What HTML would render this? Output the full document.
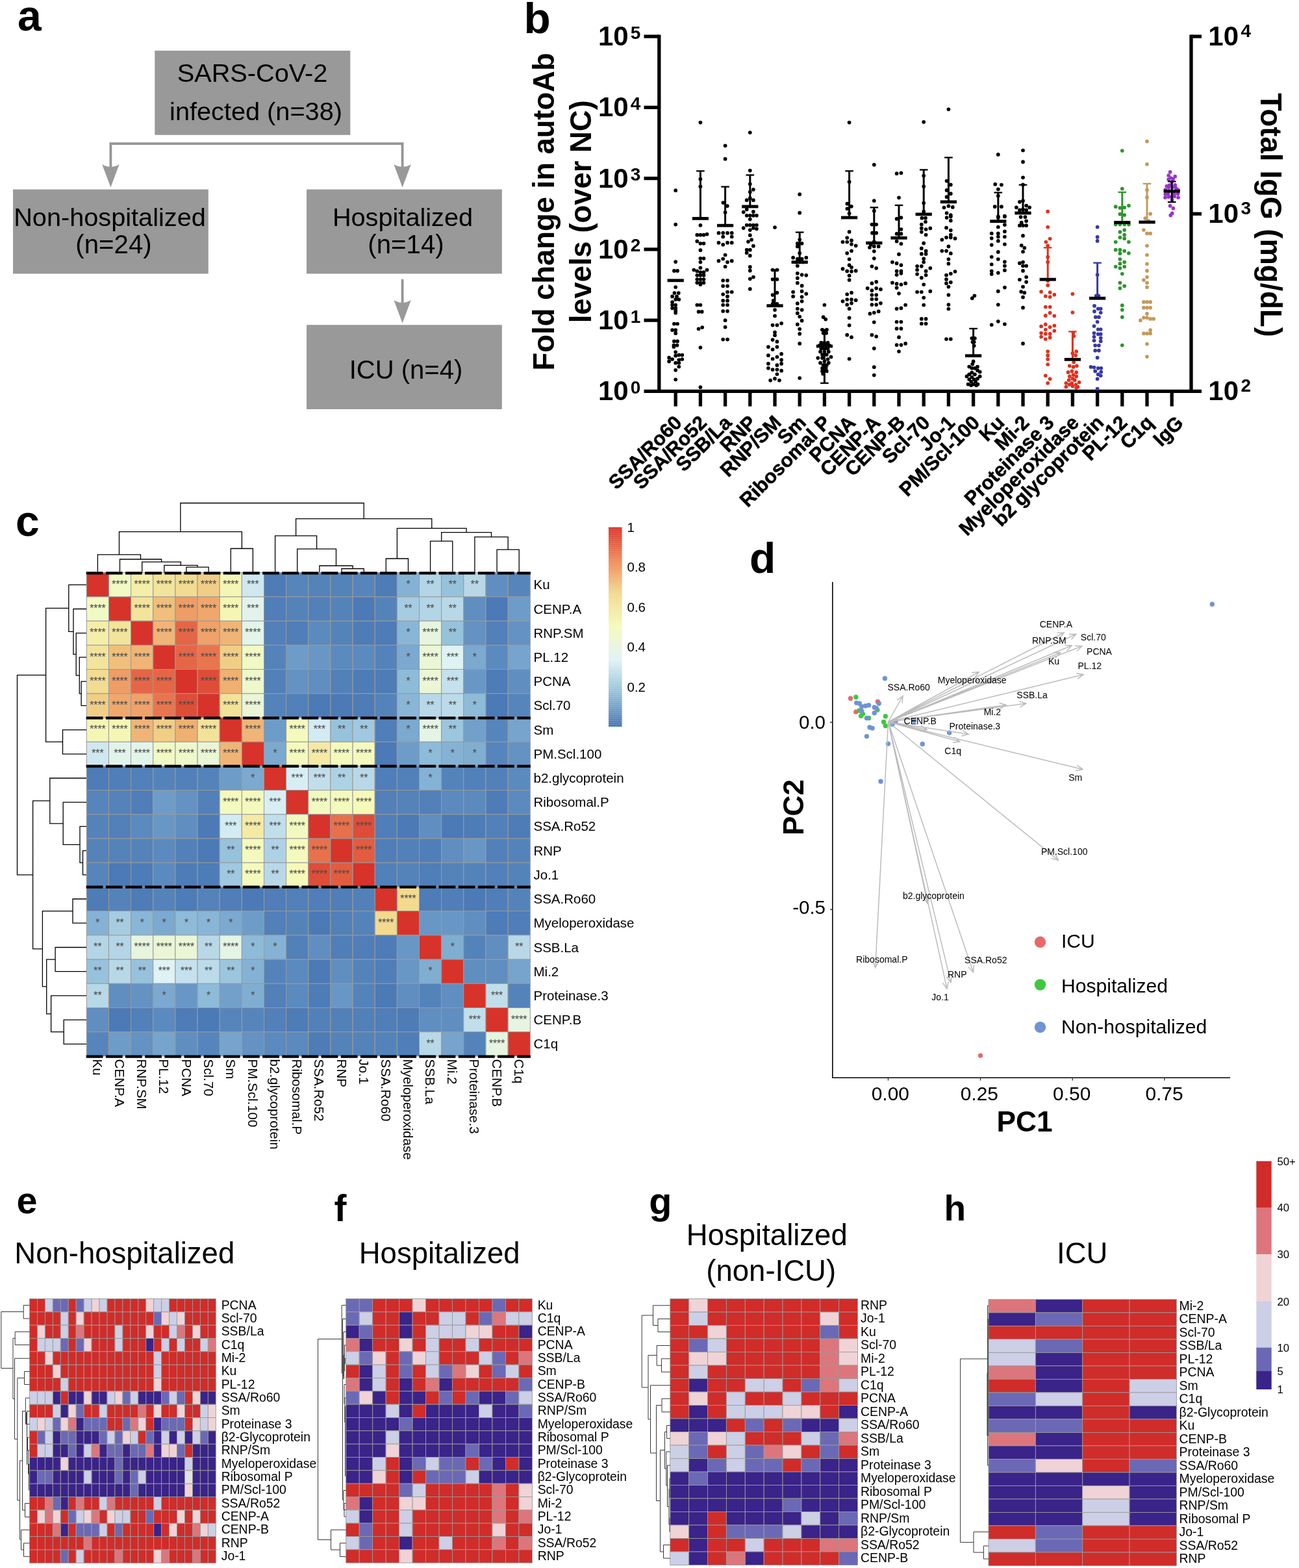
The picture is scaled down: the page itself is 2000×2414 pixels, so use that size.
<!DOCTYPE html>
<html lang="en"><head><meta charset="utf-8"><title>Figure</title>
<style>
html,body{margin:0;padding:0;background:#fff;}
body{width:2000px;height:2414px;overflow:hidden;}
svg{display:block;}
text{font-family:"Liberation Sans",sans-serif;fill:#000;}
.b{font-weight:bold;}
</style></head><body>
<svg width="2000" height="2414" viewBox="0 0 2000 2414">
<rect x="0" y="0" width="2000" height="2414" fill="#ffffff"/>
<!-- panel_a -->
<g id="panel-a">
<text class="b" x="27" y="47" font-size="66">a</text>
<rect x="238.3" y="78" width="301" height="129.8" fill="#999999"/>
<rect x="20" y="291.6" width="300.8" height="129.8" fill="#999999"/>
<rect x="472" y="291.6" width="300.8" height="129.8" fill="#999999"/>
<rect x="472" y="500.2" width="300.8" height="129.8" fill="#999999"/>
<path d="M170.4 262 V221.2 H619.6 V262" fill="none" stroke="#959595" stroke-width="3.8"/>
<path d="M619.6 430 V472" fill="none" stroke="#959595" stroke-width="3.8"/>
<path d="M170.4 288.6 L157.20000000000002 253.10000000000002 Q170.4 261.1 183.6 253.10000000000002 Z" fill="#999999"/>
<path d="M619.6 288.6 L606.4 253.10000000000002 Q619.6 261.1 632.8000000000001 253.10000000000002 Z" fill="#999999"/>
<path d="M619.6 497.5 L606.4 462.0 Q619.6 470.0 632.8000000000001 462.0 Z" fill="#999999"/>
<text x="388.5" y="126" font-size="39.7" text-anchor="middle">SARS-CoV-2</text>
<text x="394" y="185" font-size="39.7" text-anchor="middle">infected (n=38)</text>
<text x="169" y="348.4" font-size="39.7" text-anchor="middle">Non-hospitalized</text>
<text x="175" y="389.6" font-size="40.2" text-anchor="middle">(n=24)</text>
<text x="620" y="348.2" font-size="39.7" text-anchor="middle">Hospitalized</text>
<text x="625" y="389.6" font-size="40.2" text-anchor="middle">(n=14)</text>
<text x="625" y="582.5" font-size="40" text-anchor="middle">ICU (n=4)</text>
</g>
<!-- panel_b -->
<g id="panel-b">
<text class="b" x="806.5" y="50.5" font-size="67.5">b</text>
<g stroke="#000" stroke-width="5.3" fill="none" stroke-linecap="butt">
<path d="M1014.8 53.45 V605.05"/>
<path d="M1834.0 53.45 V605.05"/>
<path d="M991.5 602.4 H1850.0"/>
<path d="M991.5 493.1 H1014.8"/>
<path d="M991.5 383.9 H1014.8"/>
<path d="M991.5 274.6 H1014.8"/>
<path d="M991.5 165.4 H1014.8"/>
<path d="M991.5 56.1 H1014.8"/>
<path d="M1834.0 329.2 H1850.0"/>
<path d="M1834.0 56.1 H1850.0"/>
<path d="M1040.2 602.4 V625.6"/>
<path d="M1078.4 602.4 V625.6"/>
<path d="M1116.6 602.4 V625.6"/>
<path d="M1154.8 602.4 V625.6"/>
<path d="M1193.0 602.4 V625.6"/>
<path d="M1231.2 602.4 V625.6"/>
<path d="M1269.4 602.4 V625.6"/>
<path d="M1307.6 602.4 V625.6"/>
<path d="M1345.8 602.4 V625.6"/>
<path d="M1384.0 602.4 V625.6"/>
<path d="M1422.2 602.4 V625.6"/>
<path d="M1460.4 602.4 V625.6"/>
<path d="M1498.6 602.4 V625.6"/>
<path d="M1536.8 602.4 V625.6"/>
<path d="M1575.0 602.4 V625.6"/>
<path d="M1613.2 602.4 V625.6"/>
<path d="M1651.4 602.4 V625.6"/>
<path d="M1689.6 602.4 V625.6"/>
<path d="M1727.8 602.4 V625.6"/>
<path d="M1766.0 602.4 V625.6"/>
<path d="M1804.2 602.4 V625.6"/>
</g>
<text class="b" x="921" y="616.4" font-size="42">10<tspan font-size="28" dx="3" dy="-10.5">0</tspan></text>
<text class="b" x="921" y="507.1" font-size="42">10<tspan font-size="28" dx="3" dy="-10.5">1</tspan></text>
<text class="b" x="921" y="397.9" font-size="42">10<tspan font-size="28" dx="3" dy="-10.5">2</tspan></text>
<text class="b" x="921" y="288.6" font-size="42">10<tspan font-size="28" dx="3" dy="-10.5">3</tspan></text>
<text class="b" x="921" y="179.4" font-size="42">10<tspan font-size="28" dx="3" dy="-10.5">4</tspan></text>
<text class="b" x="921" y="70.1" font-size="42">10<tspan font-size="28" dx="3" dy="-10.5">5</tspan></text>
<text class="b" x="1860.3" y="616.4" font-size="42">10<tspan font-size="28" dx="3.5" dy="-13.5">2</tspan></text>
<text class="b" x="1860.3" y="343.2" font-size="42">10<tspan font-size="28" dx="3.5" dy="-13.5">3</tspan></text>
<text class="b" x="1860.3" y="70.1" font-size="42">10<tspan font-size="28" dx="3.5" dy="-13.5">4</tspan></text>
<text class="b" font-size="45.4" text-anchor="middle" transform="translate(853.3,325.8) rotate(-90)">Fold change in autoAb</text>
<text class="b" font-size="45.4" text-anchor="middle" transform="translate(910,325.8) rotate(-90)">levels (over NC)</text>
<text class="b" font-size="45.4" text-anchor="middle" word-spacing="1.6" transform="translate(1941.3,331) rotate(90)">Total IgG (mg/dL)</text>
<text class="b" font-size="30.3" text-anchor="end" stroke="#000" stroke-width="0.55" transform="translate(1051.7,652.5) rotate(-45)">SSA/Ro60</text>
<text class="b" font-size="30.3" text-anchor="end" stroke="#000" stroke-width="0.55" transform="translate(1089.9,652.5) rotate(-45)">SSA/Ro52</text>
<text class="b" font-size="30.3" text-anchor="end" stroke="#000" stroke-width="0.55" transform="translate(1128.1,652.5) rotate(-45)">SSB/La</text>
<text class="b" font-size="30.3" text-anchor="end" stroke="#000" stroke-width="0.55" transform="translate(1166.3,652.5) rotate(-45)">RNP</text>
<text class="b" font-size="30.3" text-anchor="end" stroke="#000" stroke-width="0.55" transform="translate(1204.5,652.5) rotate(-45)">RNP/SM</text>
<text class="b" font-size="30.3" text-anchor="end" stroke="#000" stroke-width="0.55" transform="translate(1242.7,652.5) rotate(-45)">Sm</text>
<text class="b" font-size="30.3" text-anchor="end" stroke="#000" stroke-width="0.55" transform="translate(1280.9,652.5) rotate(-45)">Ribosomal P</text>
<text class="b" font-size="30.3" text-anchor="end" stroke="#000" stroke-width="0.55" transform="translate(1319.1,652.5) rotate(-45)">PCNA</text>
<text class="b" font-size="30.3" text-anchor="end" stroke="#000" stroke-width="0.55" transform="translate(1357.3,652.5) rotate(-45)">CENP-A</text>
<text class="b" font-size="30.3" text-anchor="end" stroke="#000" stroke-width="0.55" transform="translate(1395.5,652.5) rotate(-45)">CENP-B</text>
<text class="b" font-size="30.3" text-anchor="end" stroke="#000" stroke-width="0.55" transform="translate(1433.7,652.5) rotate(-45)">Scl-70</text>
<text class="b" font-size="30.3" text-anchor="end" stroke="#000" stroke-width="0.55" transform="translate(1471.9,652.5) rotate(-45)">Jo-1</text>
<text class="b" font-size="30.3" text-anchor="end" stroke="#000" stroke-width="0.55" transform="translate(1510.1,652.5) rotate(-45)">PM/Scl-100</text>
<text class="b" font-size="30.3" text-anchor="end" stroke="#000" stroke-width="0.55" transform="translate(1548.3,652.5) rotate(-45)">Ku</text>
<text class="b" font-size="30.3" text-anchor="end" stroke="#000" stroke-width="0.55" transform="translate(1586.5,652.5) rotate(-45)">Mi-2</text>
<text class="b" font-size="30.3" text-anchor="end" stroke="#000" stroke-width="0.55" transform="translate(1624.7,652.5) rotate(-45)">Proteinase 3</text>
<text class="b" font-size="30.3" text-anchor="end" stroke="#000" stroke-width="0.55" transform="translate(1662.9,652.5) rotate(-45)">Myeloperoxidase</text>
<text class="b" font-size="30.3" text-anchor="end" stroke="#000" stroke-width="0.55" transform="translate(1701.1,652.5) rotate(-45)">b2 glycoprotein</text>
<text class="b" font-size="30.3" text-anchor="end" stroke="#000" stroke-width="0.55" transform="translate(1737.3,652.5) rotate(-45)">PL-12</text>
<text class="b" font-size="30.3" text-anchor="end" stroke="#000" stroke-width="0.55" transform="translate(1777.5,652.5) rotate(-45)">C1q</text>
<text class="b" font-size="30.3" text-anchor="end" stroke="#000" stroke-width="0.55" transform="translate(1823.7,653.0) rotate(-45)">IgG</text>
<g fill="#000000">
<circle cx="1040.2" cy="293.2" r="2.85"/>
<circle cx="1040.2" cy="345.6" r="2.85"/>
<circle cx="1040.2" cy="403.1" r="2.85"/>
<circle cx="1037.9" cy="416.9" r="2.85"/>
<circle cx="1043.0" cy="416.9" r="2.85"/>
<circle cx="1040.2" cy="442.0" r="2.85"/>
<circle cx="1038.4" cy="451.1" r="2.85"/>
<circle cx="1044.8" cy="451.1" r="2.85"/>
<circle cx="1035.1" cy="456.4" r="2.85"/>
<circle cx="1042.0" cy="456.4" r="2.85"/>
<circle cx="1040.2" cy="461.0" r="2.85"/>
<circle cx="1045.3" cy="461.0" r="2.85"/>
<circle cx="1035.1" cy="465.2" r="2.85"/>
<circle cx="1035.1" cy="469.5" r="2.85"/>
<circle cx="1040.2" cy="469.5" r="2.85"/>
<circle cx="1035.1" cy="474.4" r="2.85"/>
<circle cx="1040.2" cy="474.4" r="2.85"/>
<circle cx="1040.2" cy="478.3" r="2.85"/>
<circle cx="1040.2" cy="481.7" r="2.85"/>
<circle cx="1037.9" cy="498.5" r="2.85"/>
<circle cx="1043.0" cy="498.5" r="2.85"/>
<circle cx="1035.1" cy="508.2" r="2.85"/>
<circle cx="1040.2" cy="508.2" r="2.85"/>
<circle cx="1040.2" cy="513.2" r="2.85"/>
<circle cx="1037.9" cy="525.4" r="2.85"/>
<circle cx="1043.0" cy="525.4" r="2.85"/>
<circle cx="1037.4" cy="531.6" r="2.85"/>
<circle cx="1042.5" cy="531.6" r="2.85"/>
<circle cx="1037.4" cy="533.9" r="2.85"/>
<circle cx="1040.2" cy="542.0" r="2.85"/>
<circle cx="1045.3" cy="546.6" r="2.85"/>
<circle cx="1050.3" cy="546.6" r="2.85"/>
<circle cx="1040.2" cy="547.7" r="2.85"/>
<circle cx="1030.1" cy="550.7" r="2.85"/>
<circle cx="1035.1" cy="553.0" r="2.85"/>
<circle cx="1050.3" cy="553.0" r="2.85"/>
<circle cx="1045.3" cy="554.1" r="2.85"/>
<circle cx="1030.1" cy="556.4" r="2.85"/>
<circle cx="1040.2" cy="558.7" r="2.85"/>
<circle cx="1045.3" cy="558.7" r="2.85"/>
<circle cx="1045.3" cy="564.5" r="2.85"/>
<circle cx="1040.2" cy="569.8" r="2.85"/>
<circle cx="1040.2" cy="584.3" r="2.85"/>
<rect x="1027.6" y="429.4" width="25.2" height="4.8" fill="#000"/>
</g>
<g fill="#000000">
<path d="M1078.4 263.3 V336.4" stroke="#000000" stroke-width="3" fill="none"/>
<path d="M1072.1 263.3 H1084.7" stroke="#000000" stroke-width="2.3" fill="none"/>
<circle cx="1078.4" cy="188.6" r="2.85"/>
<circle cx="1078.4" cy="275.7" r="2.85"/>
<circle cx="1078.4" cy="287.2" r="2.85"/>
<circle cx="1078.4" cy="346.8" r="2.85"/>
<circle cx="1088.5" cy="360.6" r="2.85"/>
<circle cx="1073.3" cy="361.7" r="2.85"/>
<circle cx="1078.4" cy="361.7" r="2.85"/>
<circle cx="1083.5" cy="361.7" r="2.85"/>
<circle cx="1073.3" cy="371.4" r="2.85"/>
<circle cx="1078.4" cy="374.8" r="2.85"/>
<circle cx="1083.5" cy="374.8" r="2.85"/>
<circle cx="1078.4" cy="385.2" r="2.85"/>
<circle cx="1078.4" cy="397.8" r="2.85"/>
<circle cx="1083.5" cy="397.8" r="2.85"/>
<circle cx="1078.4" cy="403.6" r="2.85"/>
<circle cx="1078.4" cy="412.3" r="2.85"/>
<circle cx="1068.3" cy="415.5" r="2.85"/>
<circle cx="1088.5" cy="415.5" r="2.85"/>
<circle cx="1073.3" cy="417.4" r="2.85"/>
<circle cx="1078.4" cy="419.2" r="2.85"/>
<circle cx="1083.5" cy="419.2" r="2.85"/>
<circle cx="1073.3" cy="423.8" r="2.85"/>
<circle cx="1078.4" cy="423.8" r="2.85"/>
<circle cx="1083.5" cy="423.8" r="2.85"/>
<circle cx="1073.3" cy="430.0" r="2.85"/>
<circle cx="1078.4" cy="430.0" r="2.85"/>
<circle cx="1083.5" cy="430.0" r="2.85"/>
<circle cx="1073.3" cy="435.3" r="2.85"/>
<circle cx="1078.4" cy="435.3" r="2.85"/>
<circle cx="1083.5" cy="435.3" r="2.85"/>
<circle cx="1078.4" cy="438.0" r="2.85"/>
<circle cx="1073.3" cy="469.5" r="2.85"/>
<circle cx="1078.4" cy="469.5" r="2.85"/>
<circle cx="1075.6" cy="479.9" r="2.85"/>
<circle cx="1080.7" cy="479.9" r="2.85"/>
<circle cx="1081.2" cy="504.0" r="2.85"/>
<circle cx="1075.6" cy="506.3" r="2.85"/>
<circle cx="1078.4" cy="535.1" r="2.85"/>
<circle cx="1078.4" cy="596.2" r="2.85"/>
<rect x="1065.8" y="334.0" width="25.2" height="4.8" fill="#000"/>
</g>
<g fill="#000000">
<path d="M1116.6 287.5 V347.2" stroke="#000000" stroke-width="3" fill="none"/>
<path d="M1110.3 287.5 H1122.9" stroke="#000000" stroke-width="2.3" fill="none"/>
<circle cx="1116.6" cy="224.3" r="2.85"/>
<circle cx="1116.6" cy="244.7" r="2.85"/>
<circle cx="1113.4" cy="312.1" r="2.85"/>
<circle cx="1119.8" cy="317.1" r="2.85"/>
<circle cx="1116.6" cy="327.0" r="2.85"/>
<circle cx="1106.5" cy="358.7" r="2.85"/>
<circle cx="1113.2" cy="358.7" r="2.85"/>
<circle cx="1120.0" cy="358.7" r="2.85"/>
<circle cx="1126.7" cy="358.7" r="2.85"/>
<circle cx="1113.2" cy="364.5" r="2.85"/>
<circle cx="1126.7" cy="364.5" r="2.85"/>
<circle cx="1106.5" cy="373.7" r="2.85"/>
<circle cx="1120.0" cy="373.7" r="2.85"/>
<circle cx="1126.7" cy="373.7" r="2.85"/>
<circle cx="1113.2" cy="376.7" r="2.85"/>
<circle cx="1116.6" cy="392.5" r="2.85"/>
<circle cx="1113.2" cy="398.5" r="2.85"/>
<circle cx="1106.5" cy="401.7" r="2.85"/>
<circle cx="1126.7" cy="401.7" r="2.85"/>
<circle cx="1120.0" cy="403.6" r="2.85"/>
<circle cx="1116.6" cy="410.5" r="2.85"/>
<circle cx="1113.2" cy="431.8" r="2.85"/>
<circle cx="1120.0" cy="431.8" r="2.85"/>
<circle cx="1113.2" cy="440.3" r="2.85"/>
<circle cx="1120.0" cy="440.3" r="2.85"/>
<circle cx="1120.0" cy="449.5" r="2.85"/>
<circle cx="1126.7" cy="449.5" r="2.85"/>
<circle cx="1113.2" cy="453.0" r="2.85"/>
<circle cx="1120.0" cy="456.4" r="2.85"/>
<circle cx="1113.2" cy="462.9" r="2.85"/>
<circle cx="1120.0" cy="462.9" r="2.85"/>
<circle cx="1113.2" cy="469.5" r="2.85"/>
<circle cx="1120.0" cy="469.5" r="2.85"/>
<circle cx="1113.2" cy="479.0" r="2.85"/>
<circle cx="1120.0" cy="479.0" r="2.85"/>
<circle cx="1116.6" cy="493.2" r="2.85"/>
<circle cx="1116.6" cy="503.6" r="2.85"/>
<circle cx="1113.2" cy="522.6" r="2.85"/>
<circle cx="1120.0" cy="522.6" r="2.85"/>
<rect x="1104.0" y="344.8" width="25.2" height="4.8" fill="#000"/>
</g>
<g fill="#000000">
<path d="M1154.8 269.5 V318.0" stroke="#000000" stroke-width="3" fill="none"/>
<path d="M1148.5 269.5 H1161.1" stroke="#000000" stroke-width="2.3" fill="none"/>
<circle cx="1154.8" cy="204.0" r="2.85"/>
<circle cx="1154.8" cy="262.6" r="2.85"/>
<circle cx="1154.8" cy="283.3" r="2.85"/>
<circle cx="1159.9" cy="291.8" r="2.85"/>
<circle cx="1154.8" cy="295.5" r="2.85"/>
<circle cx="1154.8" cy="305.2" r="2.85"/>
<circle cx="1149.7" cy="308.2" r="2.85"/>
<circle cx="1159.9" cy="308.2" r="2.85"/>
<circle cx="1149.7" cy="322.4" r="2.85"/>
<circle cx="1144.7" cy="326.6" r="2.85"/>
<circle cx="1159.9" cy="325.9" r="2.85"/>
<circle cx="1149.7" cy="331.8" r="2.85"/>
<circle cx="1154.8" cy="331.8" r="2.85"/>
<circle cx="1159.9" cy="331.8" r="2.85"/>
<circle cx="1164.9" cy="331.8" r="2.85"/>
<circle cx="1154.8" cy="337.6" r="2.85"/>
<circle cx="1149.7" cy="346.6" r="2.85"/>
<circle cx="1154.8" cy="346.6" r="2.85"/>
<circle cx="1159.9" cy="346.6" r="2.85"/>
<circle cx="1164.9" cy="346.6" r="2.85"/>
<circle cx="1144.7" cy="351.1" r="2.85"/>
<circle cx="1159.9" cy="351.1" r="2.85"/>
<circle cx="1164.9" cy="352.3" r="2.85"/>
<circle cx="1154.8" cy="354.1" r="2.85"/>
<circle cx="1154.8" cy="362.2" r="2.85"/>
<circle cx="1157.1" cy="369.1" r="2.85"/>
<circle cx="1152.0" cy="372.1" r="2.85"/>
<circle cx="1159.9" cy="378.7" r="2.85"/>
<circle cx="1149.7" cy="384.7" r="2.85"/>
<circle cx="1154.8" cy="384.7" r="2.85"/>
<circle cx="1149.7" cy="389.3" r="2.85"/>
<circle cx="1154.8" cy="393.7" r="2.85"/>
<circle cx="1154.8" cy="410.9" r="2.85"/>
<circle cx="1154.8" cy="416.7" r="2.85"/>
<circle cx="1159.9" cy="426.6" r="2.85"/>
<circle cx="1154.8" cy="429.3" r="2.85"/>
<circle cx="1154.8" cy="444.9" r="2.85"/>
<rect x="1142.2" y="315.6" width="25.2" height="4.8" fill="#000"/>
</g>
<g fill="#000000">
<path d="M1193.0 415.5 V470.7" stroke="#000000" stroke-width="3" fill="none"/>
<path d="M1186.7 415.5 H1199.3" stroke="#000000" stroke-width="2.3" fill="none"/>
<circle cx="1193.0" cy="350.0" r="2.85"/>
<circle cx="1189.6" cy="415.5" r="2.85"/>
<circle cx="1196.4" cy="415.5" r="2.85"/>
<circle cx="1189.6" cy="430.0" r="2.85"/>
<circle cx="1196.4" cy="430.0" r="2.85"/>
<circle cx="1196.4" cy="450.7" r="2.85"/>
<circle cx="1189.6" cy="454.1" r="2.85"/>
<circle cx="1190.7" cy="462.9" r="2.85"/>
<circle cx="1189.6" cy="467.9" r="2.85"/>
<circle cx="1196.4" cy="467.9" r="2.85"/>
<circle cx="1193.0" cy="477.1" r="2.85"/>
<circle cx="1193.0" cy="486.3" r="2.85"/>
<circle cx="1203.1" cy="497.8" r="2.85"/>
<circle cx="1189.6" cy="500.6" r="2.85"/>
<circle cx="1196.4" cy="500.6" r="2.85"/>
<circle cx="1193.0" cy="511.6" r="2.85"/>
<circle cx="1193.0" cy="516.2" r="2.85"/>
<circle cx="1189.6" cy="523.1" r="2.85"/>
<circle cx="1196.4" cy="525.9" r="2.85"/>
<circle cx="1182.9" cy="534.1" r="2.85"/>
<circle cx="1196.4" cy="534.1" r="2.85"/>
<circle cx="1189.6" cy="538.0" r="2.85"/>
<circle cx="1203.1" cy="544.9" r="2.85"/>
<circle cx="1182.9" cy="547.2" r="2.85"/>
<circle cx="1196.4" cy="549.5" r="2.85"/>
<circle cx="1189.6" cy="552.5" r="2.85"/>
<circle cx="1203.1" cy="554.1" r="2.85"/>
<circle cx="1182.9" cy="559.9" r="2.85"/>
<circle cx="1203.1" cy="559.9" r="2.85"/>
<circle cx="1196.4" cy="562.2" r="2.85"/>
<circle cx="1182.9" cy="566.8" r="2.85"/>
<circle cx="1189.6" cy="569.1" r="2.85"/>
<circle cx="1196.4" cy="569.1" r="2.85"/>
<circle cx="1203.1" cy="570.7" r="2.85"/>
<circle cx="1196.4" cy="576.0" r="2.85"/>
<circle cx="1193.0" cy="582.9" r="2.85"/>
<circle cx="1186.1" cy="585.6" r="2.85"/>
<circle cx="1199.9" cy="585.6" r="2.85"/>
<rect x="1180.4" y="468.3" width="25.2" height="4.8" fill="#000"/>
</g>
<g fill="#000000">
<path d="M1231.2 357.6 V403.6" stroke="#000000" stroke-width="3" fill="none"/>
<path d="M1224.9 357.6 H1237.5" stroke="#000000" stroke-width="2.3" fill="none"/>
<circle cx="1231.2" cy="299.2" r="2.85"/>
<circle cx="1231.2" cy="327.7" r="2.85"/>
<circle cx="1231.2" cy="369.1" r="2.85"/>
<circle cx="1227.8" cy="374.8" r="2.85"/>
<circle cx="1234.6" cy="374.8" r="2.85"/>
<circle cx="1227.8" cy="379.4" r="2.85"/>
<circle cx="1231.2" cy="389.8" r="2.85"/>
<circle cx="1221.1" cy="396.7" r="2.85"/>
<circle cx="1241.3" cy="396.7" r="2.85"/>
<circle cx="1227.8" cy="398.5" r="2.85"/>
<circle cx="1234.6" cy="398.5" r="2.85"/>
<circle cx="1226.1" cy="403.6" r="2.85"/>
<circle cx="1231.2" cy="403.6" r="2.85"/>
<circle cx="1236.3" cy="403.6" r="2.85"/>
<circle cx="1227.8" cy="409.3" r="2.85"/>
<circle cx="1227.8" cy="420.8" r="2.85"/>
<circle cx="1234.6" cy="423.1" r="2.85"/>
<circle cx="1241.3" cy="423.8" r="2.85"/>
<circle cx="1227.8" cy="428.2" r="2.85"/>
<circle cx="1227.8" cy="435.7" r="2.85"/>
<circle cx="1234.6" cy="439.9" r="2.85"/>
<circle cx="1234.6" cy="448.4" r="2.85"/>
<circle cx="1221.1" cy="449.5" r="2.85"/>
<circle cx="1241.3" cy="452.3" r="2.85"/>
<circle cx="1221.1" cy="456.4" r="2.85"/>
<circle cx="1234.6" cy="457.1" r="2.85"/>
<circle cx="1234.6" cy="463.8" r="2.85"/>
<circle cx="1227.8" cy="467.2" r="2.85"/>
<circle cx="1227.8" cy="475.3" r="2.85"/>
<circle cx="1234.6" cy="477.1" r="2.85"/>
<circle cx="1227.8" cy="482.2" r="2.85"/>
<circle cx="1231.2" cy="487.5" r="2.85"/>
<circle cx="1234.6" cy="493.7" r="2.85"/>
<circle cx="1227.8" cy="499.4" r="2.85"/>
<circle cx="1231.2" cy="506.6" r="2.85"/>
<circle cx="1231.2" cy="513.9" r="2.85"/>
<circle cx="1231.2" cy="528.9" r="2.85"/>
<circle cx="1231.2" cy="582.0" r="2.85"/>
<rect x="1218.6" y="401.2" width="25.2" height="4.8" fill="#000"/>
</g>
<g fill="#000000">
<path d="M1269.4 507.7 V589.8" stroke="#000000" stroke-width="3" fill="none"/>
<path d="M1263.1 507.7 H1275.7" stroke="#000000" stroke-width="2.3" fill="none"/>
<path d="M1263.1 589.8 H1275.7" stroke="#000000" stroke-width="2.3" fill="none"/>
<circle cx="1269.4" cy="469.5" r="2.85"/>
<circle cx="1267.6" cy="488.2" r="2.85"/>
<circle cx="1271.2" cy="491.6" r="2.85"/>
<circle cx="1266.0" cy="507.7" r="2.85"/>
<circle cx="1272.8" cy="507.7" r="2.85"/>
<circle cx="1267.6" cy="512.8" r="2.85"/>
<circle cx="1272.2" cy="512.8" r="2.85"/>
<circle cx="1264.3" cy="527.7" r="2.85"/>
<circle cx="1269.4" cy="527.7" r="2.85"/>
<circle cx="1274.5" cy="527.7" r="2.85"/>
<circle cx="1261.8" cy="531.8" r="2.85"/>
<circle cx="1266.9" cy="531.8" r="2.85"/>
<circle cx="1271.9" cy="531.8" r="2.85"/>
<circle cx="1277.0" cy="531.8" r="2.85"/>
<circle cx="1264.3" cy="536.9" r="2.85"/>
<circle cx="1269.4" cy="536.9" r="2.85"/>
<circle cx="1274.5" cy="536.9" r="2.85"/>
<circle cx="1263.0" cy="541.5" r="2.85"/>
<circle cx="1269.4" cy="541.5" r="2.85"/>
<circle cx="1275.8" cy="541.5" r="2.85"/>
<circle cx="1266.0" cy="546.1" r="2.85"/>
<circle cx="1272.8" cy="546.1" r="2.85"/>
<circle cx="1279.5" cy="549.5" r="2.85"/>
<circle cx="1259.3" cy="551.1" r="2.85"/>
<circle cx="1266.0" cy="551.1" r="2.85"/>
<circle cx="1274.5" cy="553.0" r="2.85"/>
<circle cx="1269.4" cy="556.4" r="2.85"/>
<circle cx="1263.0" cy="558.7" r="2.85"/>
<circle cx="1275.8" cy="558.7" r="2.85"/>
<circle cx="1267.6" cy="562.2" r="2.85"/>
<circle cx="1272.8" cy="562.2" r="2.85"/>
<circle cx="1266.0" cy="566.8" r="2.85"/>
<circle cx="1271.7" cy="566.8" r="2.85"/>
<circle cx="1266.0" cy="571.4" r="2.85"/>
<circle cx="1272.8" cy="571.4" r="2.85"/>
<circle cx="1267.1" cy="575.5" r="2.85"/>
<rect x="1256.8" y="530.6" width="25.2" height="4.8" fill="#000"/>
</g>
<g fill="#000000">
<path d="M1307.6 263.3 V335.0" stroke="#000000" stroke-width="3" fill="none"/>
<path d="M1301.3 263.3 H1313.9" stroke="#000000" stroke-width="2.3" fill="none"/>
<circle cx="1307.6" cy="188.6" r="2.85"/>
<circle cx="1307.6" cy="279.9" r="2.85"/>
<circle cx="1304.4" cy="313.7" r="2.85"/>
<circle cx="1310.8" cy="317.8" r="2.85"/>
<circle cx="1304.4" cy="321.3" r="2.85"/>
<circle cx="1307.6" cy="328.6" r="2.85"/>
<circle cx="1307.6" cy="356.9" r="2.85"/>
<circle cx="1304.2" cy="366.1" r="2.85"/>
<circle cx="1311.0" cy="370.2" r="2.85"/>
<circle cx="1297.5" cy="372.5" r="2.85"/>
<circle cx="1304.2" cy="372.5" r="2.85"/>
<circle cx="1311.0" cy="376.0" r="2.85"/>
<circle cx="1317.7" cy="378.3" r="2.85"/>
<circle cx="1311.0" cy="386.3" r="2.85"/>
<circle cx="1304.2" cy="389.8" r="2.85"/>
<circle cx="1307.6" cy="399.0" r="2.85"/>
<circle cx="1307.6" cy="408.2" r="2.85"/>
<circle cx="1311.0" cy="411.6" r="2.85"/>
<circle cx="1297.5" cy="413.9" r="2.85"/>
<circle cx="1317.7" cy="416.9" r="2.85"/>
<circle cx="1304.2" cy="417.4" r="2.85"/>
<circle cx="1311.0" cy="417.8" r="2.85"/>
<circle cx="1307.6" cy="424.3" r="2.85"/>
<circle cx="1307.6" cy="431.1" r="2.85"/>
<circle cx="1311.0" cy="450.7" r="2.85"/>
<circle cx="1304.2" cy="453.0" r="2.85"/>
<circle cx="1304.2" cy="461.0" r="2.85"/>
<circle cx="1311.0" cy="461.0" r="2.85"/>
<circle cx="1317.7" cy="462.2" r="2.85"/>
<circle cx="1297.5" cy="463.8" r="2.85"/>
<circle cx="1311.0" cy="466.8" r="2.85"/>
<circle cx="1304.2" cy="469.1" r="2.85"/>
<circle cx="1307.6" cy="475.3" r="2.85"/>
<circle cx="1307.6" cy="489.3" r="2.85"/>
<circle cx="1307.6" cy="500.8" r="2.85"/>
<circle cx="1304.2" cy="515.7" r="2.85"/>
<circle cx="1311.0" cy="519.2" r="2.85"/>
<circle cx="1307.6" cy="552.5" r="2.85"/>
<rect x="1295.0" y="332.6" width="25.2" height="4.8" fill="#000"/>
</g>
<g fill="#000000">
<path d="M1345.8 319.4 V374.1" stroke="#000000" stroke-width="3" fill="none"/>
<path d="M1339.5 319.4 H1352.1" stroke="#000000" stroke-width="2.3" fill="none"/>
<circle cx="1345.8" cy="253.7" r="2.85"/>
<circle cx="1345.8" cy="309.1" r="2.85"/>
<circle cx="1345.8" cy="324.7" r="2.85"/>
<circle cx="1342.4" cy="345.6" r="2.85"/>
<circle cx="1349.2" cy="345.6" r="2.85"/>
<circle cx="1343.0" cy="358.7" r="2.85"/>
<circle cx="1349.2" cy="358.7" r="2.85"/>
<circle cx="1345.8" cy="372.1" r="2.85"/>
<circle cx="1340.7" cy="377.1" r="2.85"/>
<circle cx="1345.8" cy="379.4" r="2.85"/>
<circle cx="1352.7" cy="379.4" r="2.85"/>
<circle cx="1338.9" cy="381.0" r="2.85"/>
<circle cx="1345.8" cy="386.8" r="2.85"/>
<circle cx="1345.8" cy="397.8" r="2.85"/>
<circle cx="1342.4" cy="410.0" r="2.85"/>
<circle cx="1349.2" cy="412.8" r="2.85"/>
<circle cx="1349.2" cy="433.9" r="2.85"/>
<circle cx="1342.4" cy="436.2" r="2.85"/>
<circle cx="1335.7" cy="443.8" r="2.85"/>
<circle cx="1349.2" cy="443.8" r="2.85"/>
<circle cx="1355.9" cy="445.4" r="2.85"/>
<circle cx="1342.4" cy="447.2" r="2.85"/>
<circle cx="1342.4" cy="454.1" r="2.85"/>
<circle cx="1349.2" cy="454.1" r="2.85"/>
<circle cx="1342.4" cy="460.6" r="2.85"/>
<circle cx="1349.2" cy="460.6" r="2.85"/>
<circle cx="1355.9" cy="466.8" r="2.85"/>
<circle cx="1342.4" cy="469.1" r="2.85"/>
<circle cx="1349.2" cy="469.1" r="2.85"/>
<circle cx="1352.7" cy="479.4" r="2.85"/>
<circle cx="1345.8" cy="481.3" r="2.85"/>
<circle cx="1339.4" cy="482.9" r="2.85"/>
<circle cx="1345.8" cy="496.0" r="2.85"/>
<circle cx="1342.4" cy="515.7" r="2.85"/>
<circle cx="1349.2" cy="518.0" r="2.85"/>
<circle cx="1345.8" cy="536.4" r="2.85"/>
<circle cx="1345.8" cy="565.2" r="2.85"/>
<circle cx="1345.8" cy="577.6" r="2.85"/>
<rect x="1333.2" y="371.7" width="25.2" height="4.8" fill="#000"/>
</g>
<g fill="#000000">
<path d="M1384.0 316.0 V366.3" stroke="#000000" stroke-width="3" fill="none"/>
<path d="M1377.7 316.0 H1390.3" stroke="#000000" stroke-width="2.3" fill="none"/>
<circle cx="1380.6" cy="267.2" r="2.85"/>
<circle cx="1387.4" cy="266.3" r="2.85"/>
<circle cx="1384.0" cy="304.3" r="2.85"/>
<circle cx="1387.4" cy="335.1" r="2.85"/>
<circle cx="1380.6" cy="336.9" r="2.85"/>
<circle cx="1387.4" cy="353.0" r="2.85"/>
<circle cx="1380.6" cy="359.9" r="2.85"/>
<circle cx="1387.4" cy="359.9" r="2.85"/>
<circle cx="1380.6" cy="371.4" r="2.85"/>
<circle cx="1387.4" cy="375.3" r="2.85"/>
<circle cx="1384.0" cy="391.4" r="2.85"/>
<circle cx="1373.9" cy="403.6" r="2.85"/>
<circle cx="1380.6" cy="405.4" r="2.85"/>
<circle cx="1387.4" cy="408.2" r="2.85"/>
<circle cx="1380.6" cy="417.4" r="2.85"/>
<circle cx="1387.4" cy="417.4" r="2.85"/>
<circle cx="1380.6" cy="423.1" r="2.85"/>
<circle cx="1387.4" cy="420.8" r="2.85"/>
<circle cx="1373.9" cy="435.3" r="2.85"/>
<circle cx="1394.1" cy="436.2" r="2.85"/>
<circle cx="1380.6" cy="436.9" r="2.85"/>
<circle cx="1387.4" cy="438.0" r="2.85"/>
<circle cx="1380.6" cy="443.1" r="2.85"/>
<circle cx="1384.0" cy="451.8" r="2.85"/>
<circle cx="1394.1" cy="469.5" r="2.85"/>
<circle cx="1387.4" cy="474.4" r="2.85"/>
<circle cx="1380.6" cy="475.3" r="2.85"/>
<circle cx="1380.6" cy="495.5" r="2.85"/>
<circle cx="1387.4" cy="495.5" r="2.85"/>
<circle cx="1380.6" cy="505.9" r="2.85"/>
<circle cx="1387.4" cy="505.9" r="2.85"/>
<circle cx="1384.0" cy="519.2" r="2.85"/>
<circle cx="1394.1" cy="528.9" r="2.85"/>
<circle cx="1380.6" cy="531.1" r="2.85"/>
<circle cx="1387.4" cy="531.1" r="2.85"/>
<circle cx="1384.0" cy="541.0" r="2.85"/>
<rect x="1371.4" y="363.9" width="25.2" height="4.8" fill="#000"/>
</g>
<g fill="#000000">
<path d="M1422.2 261.4 V329.9" stroke="#000000" stroke-width="3" fill="none"/>
<path d="M1415.9 261.4 H1428.5" stroke="#000000" stroke-width="2.3" fill="none"/>
<circle cx="1422.2" cy="187.8" r="2.85"/>
<circle cx="1422.2" cy="270.6" r="2.85"/>
<circle cx="1422.2" cy="287.1" r="2.85"/>
<circle cx="1422.2" cy="312.6" r="2.85"/>
<circle cx="1422.2" cy="325.7" r="2.85"/>
<circle cx="1419.4" cy="335.7" r="2.85"/>
<circle cx="1425.0" cy="335.7" r="2.85"/>
<circle cx="1425.0" cy="341.5" r="2.85"/>
<circle cx="1418.8" cy="345.6" r="2.85"/>
<circle cx="1418.8" cy="351.4" r="2.85"/>
<circle cx="1432.3" cy="351.4" r="2.85"/>
<circle cx="1425.6" cy="353.0" r="2.85"/>
<circle cx="1418.8" cy="357.1" r="2.85"/>
<circle cx="1425.6" cy="361.5" r="2.85"/>
<circle cx="1422.2" cy="374.4" r="2.85"/>
<circle cx="1418.8" cy="382.4" r="2.85"/>
<circle cx="1425.6" cy="386.3" r="2.85"/>
<circle cx="1418.8" cy="390.9" r="2.85"/>
<circle cx="1425.6" cy="390.9" r="2.85"/>
<circle cx="1422.2" cy="398.3" r="2.85"/>
<circle cx="1422.2" cy="403.6" r="2.85"/>
<circle cx="1412.1" cy="409.8" r="2.85"/>
<circle cx="1418.8" cy="409.8" r="2.85"/>
<circle cx="1432.3" cy="412.8" r="2.85"/>
<circle cx="1412.1" cy="415.5" r="2.85"/>
<circle cx="1425.6" cy="417.4" r="2.85"/>
<circle cx="1412.1" cy="422.0" r="2.85"/>
<circle cx="1425.6" cy="423.6" r="2.85"/>
<circle cx="1418.8" cy="427.7" r="2.85"/>
<circle cx="1422.2" cy="438.0" r="2.85"/>
<circle cx="1432.3" cy="448.4" r="2.85"/>
<circle cx="1412.1" cy="449.5" r="2.85"/>
<circle cx="1418.8" cy="449.5" r="2.85"/>
<circle cx="1422.2" cy="458.3" r="2.85"/>
<circle cx="1422.2" cy="469.5" r="2.85"/>
<circle cx="1418.8" cy="490.9" r="2.85"/>
<circle cx="1425.6" cy="490.9" r="2.85"/>
<circle cx="1418.8" cy="498.3" r="2.85"/>
<circle cx="1425.6" cy="498.3" r="2.85"/>
<rect x="1409.6" y="327.5" width="25.2" height="4.8" fill="#000"/>
</g>
<g fill="#000000">
<path d="M1460.4 242.5 V310.8" stroke="#000000" stroke-width="3" fill="none"/>
<path d="M1454.1 242.5 H1466.7" stroke="#000000" stroke-width="2.3" fill="none"/>
<circle cx="1460.4" cy="168.3" r="2.85"/>
<circle cx="1457.6" cy="278.6" r="2.85"/>
<circle cx="1463.8" cy="284.4" r="2.85"/>
<circle cx="1457.6" cy="292.9" r="2.85"/>
<circle cx="1463.8" cy="298.2" r="2.85"/>
<circle cx="1457.6" cy="303.2" r="2.85"/>
<circle cx="1453.5" cy="319.5" r="2.85"/>
<circle cx="1460.4" cy="317.2" r="2.85"/>
<circle cx="1466.8" cy="318.9" r="2.85"/>
<circle cx="1457.6" cy="328.0" r="2.85"/>
<circle cx="1463.8" cy="331.0" r="2.85"/>
<circle cx="1463.8" cy="333.4" r="2.85"/>
<circle cx="1457.6" cy="335.1" r="2.85"/>
<circle cx="1463.8" cy="339.7" r="2.85"/>
<circle cx="1457.0" cy="350.7" r="2.85"/>
<circle cx="1463.8" cy="354.6" r="2.85"/>
<circle cx="1463.8" cy="361.5" r="2.85"/>
<circle cx="1457.0" cy="365.6" r="2.85"/>
<circle cx="1463.8" cy="365.6" r="2.85"/>
<circle cx="1470.5" cy="367.2" r="2.85"/>
<circle cx="1450.3" cy="369.1" r="2.85"/>
<circle cx="1460.4" cy="379.4" r="2.85"/>
<circle cx="1450.3" cy="386.3" r="2.85"/>
<circle cx="1457.0" cy="386.3" r="2.85"/>
<circle cx="1463.8" cy="390.2" r="2.85"/>
<circle cx="1460.4" cy="399.0" r="2.85"/>
<circle cx="1460.4" cy="405.9" r="2.85"/>
<circle cx="1470.5" cy="418.0" r="2.85"/>
<circle cx="1463.8" cy="421.3" r="2.85"/>
<circle cx="1457.0" cy="423.6" r="2.85"/>
<circle cx="1457.0" cy="430.0" r="2.85"/>
<circle cx="1463.8" cy="434.6" r="2.85"/>
<circle cx="1457.0" cy="436.2" r="2.85"/>
<circle cx="1460.4" cy="441.5" r="2.85"/>
<circle cx="1460.4" cy="454.1" r="2.85"/>
<circle cx="1460.4" cy="469.1" r="2.85"/>
<circle cx="1460.4" cy="475.5" r="2.85"/>
<circle cx="1457.0" cy="522.0" r="2.85"/>
<circle cx="1463.8" cy="522.0" r="2.85"/>
<rect x="1447.8" y="308.4" width="25.2" height="4.8" fill="#000"/>
</g>
<g fill="#000000">
<path d="M1498.6 505.9 V547.7" stroke="#000000" stroke-width="3" fill="none"/>
<path d="M1492.3 505.9 H1504.9" stroke="#000000" stroke-width="2.3" fill="none"/>
<circle cx="1500.4" cy="455.3" r="2.85"/>
<circle cx="1496.8" cy="459.2" r="2.85"/>
<circle cx="1496.3" cy="520.8" r="2.85"/>
<circle cx="1500.9" cy="520.8" r="2.85"/>
<circle cx="1497.5" cy="526.6" r="2.85"/>
<circle cx="1499.7" cy="526.6" r="2.85"/>
<circle cx="1499.7" cy="532.3" r="2.85"/>
<circle cx="1498.6" cy="556.4" r="2.85"/>
<circle cx="1497.2" cy="560.6" r="2.85"/>
<circle cx="1492.2" cy="564.5" r="2.85"/>
<circle cx="1505.0" cy="564.5" r="2.85"/>
<circle cx="1496.3" cy="566.8" r="2.85"/>
<circle cx="1500.9" cy="566.8" r="2.85"/>
<circle cx="1505.0" cy="570.2" r="2.85"/>
<circle cx="1508.7" cy="572.5" r="2.85"/>
<circle cx="1496.3" cy="573.7" r="2.85"/>
<circle cx="1492.2" cy="576.4" r="2.85"/>
<circle cx="1500.9" cy="576.4" r="2.85"/>
<circle cx="1488.5" cy="579.4" r="2.85"/>
<circle cx="1508.7" cy="579.4" r="2.85"/>
<circle cx="1496.3" cy="580.6" r="2.85"/>
<circle cx="1505.0" cy="582.9" r="2.85"/>
<circle cx="1492.2" cy="584.0" r="2.85"/>
<circle cx="1499.7" cy="584.0" r="2.85"/>
<circle cx="1495.2" cy="587.5" r="2.85"/>
<circle cx="1502.0" cy="587.5" r="2.85"/>
<circle cx="1490.6" cy="591.6" r="2.85"/>
<circle cx="1498.6" cy="591.6" r="2.85"/>
<circle cx="1505.5" cy="591.6" r="2.85"/>
<circle cx="1495.2" cy="593.2" r="2.85"/>
<circle cx="1503.2" cy="593.2" r="2.85"/>
<rect x="1486.0" y="545.3" width="25.2" height="4.8" fill="#000"/>
</g>
<g fill="#000000">
<path d="M1536.8 296.5 V340.7" stroke="#000000" stroke-width="3" fill="none"/>
<path d="M1530.5 296.5 H1543.1" stroke="#000000" stroke-width="2.3" fill="none"/>
<circle cx="1536.8" cy="237.9" r="2.85"/>
<circle cx="1532.2" cy="283.7" r="2.85"/>
<circle cx="1541.9" cy="284.6" r="2.85"/>
<circle cx="1536.8" cy="291.3" r="2.85"/>
<circle cx="1536.8" cy="301.6" r="2.85"/>
<circle cx="1531.7" cy="318.2" r="2.85"/>
<circle cx="1541.9" cy="318.2" r="2.85"/>
<circle cx="1536.8" cy="334.9" r="2.85"/>
<circle cx="1546.9" cy="332.6" r="2.85"/>
<circle cx="1536.8" cy="333.4" r="2.85"/>
<circle cx="1546.9" cy="333.4" r="2.85"/>
<circle cx="1546.9" cy="346.1" r="2.85"/>
<circle cx="1536.8" cy="349.5" r="2.85"/>
<circle cx="1546.9" cy="356.4" r="2.85"/>
<circle cx="1526.7" cy="359.4" r="2.85"/>
<circle cx="1536.8" cy="359.4" r="2.85"/>
<circle cx="1536.8" cy="364.5" r="2.85"/>
<circle cx="1546.9" cy="364.5" r="2.85"/>
<circle cx="1526.7" cy="366.8" r="2.85"/>
<circle cx="1536.8" cy="370.9" r="2.85"/>
<circle cx="1546.9" cy="376.0" r="2.85"/>
<circle cx="1526.7" cy="377.1" r="2.85"/>
<circle cx="1536.8" cy="387.9" r="2.85"/>
<circle cx="1526.7" cy="395.5" r="2.85"/>
<circle cx="1536.8" cy="399.0" r="2.85"/>
<circle cx="1546.9" cy="403.1" r="2.85"/>
<circle cx="1526.7" cy="407.0" r="2.85"/>
<circle cx="1546.9" cy="409.3" r="2.85"/>
<circle cx="1546.9" cy="416.2" r="2.85"/>
<circle cx="1526.7" cy="417.4" r="2.85"/>
<circle cx="1536.8" cy="420.1" r="2.85"/>
<circle cx="1526.7" cy="422.0" r="2.85"/>
<circle cx="1546.9" cy="442.6" r="2.85"/>
<circle cx="1536.8" cy="448.4" r="2.85"/>
<circle cx="1536.8" cy="469.1" r="2.85"/>
<circle cx="1536.8" cy="494.8" r="2.85"/>
<circle cx="1546.9" cy="499.0" r="2.85"/>
<circle cx="1526.7" cy="500.1" r="2.85"/>
<rect x="1524.2" y="338.3" width="25.2" height="4.8" fill="#000"/>
</g>
<g fill="#000000">
<path d="M1575.0 284.6 V328.0" stroke="#000000" stroke-width="3" fill="none"/>
<path d="M1568.7 284.6 H1581.3" stroke="#000000" stroke-width="2.3" fill="none"/>
<circle cx="1575.0" cy="231.5" r="2.85"/>
<circle cx="1575.0" cy="249.2" r="2.85"/>
<circle cx="1575.0" cy="273.3" r="2.85"/>
<circle cx="1575.0" cy="284.4" r="2.85"/>
<circle cx="1569.9" cy="310.8" r="2.85"/>
<circle cx="1575.0" cy="309.0" r="2.85"/>
<circle cx="1580.1" cy="316.6" r="2.85"/>
<circle cx="1564.9" cy="319.3" r="2.85"/>
<circle cx="1585.1" cy="319.3" r="2.85"/>
<circle cx="1569.9" cy="323.4" r="2.85"/>
<circle cx="1580.1" cy="323.4" r="2.85"/>
<circle cx="1575.0" cy="322.3" r="2.85"/>
<circle cx="1571.6" cy="334.1" r="2.85"/>
<circle cx="1578.4" cy="334.1" r="2.85"/>
<circle cx="1580.1" cy="340.3" r="2.85"/>
<circle cx="1572.7" cy="342.6" r="2.85"/>
<circle cx="1569.9" cy="347.2" r="2.85"/>
<circle cx="1575.0" cy="347.2" r="2.85"/>
<circle cx="1580.1" cy="347.2" r="2.85"/>
<circle cx="1575.0" cy="362.9" r="2.85"/>
<circle cx="1572.7" cy="377.8" r="2.85"/>
<circle cx="1577.3" cy="381.7" r="2.85"/>
<circle cx="1575.0" cy="387.5" r="2.85"/>
<circle cx="1575.0" cy="403.6" r="2.85"/>
<circle cx="1569.9" cy="405.2" r="2.85"/>
<circle cx="1575.0" cy="409.3" r="2.85"/>
<circle cx="1580.1" cy="409.3" r="2.85"/>
<circle cx="1575.0" cy="416.9" r="2.85"/>
<circle cx="1580.1" cy="426.6" r="2.85"/>
<circle cx="1569.9" cy="430.5" r="2.85"/>
<circle cx="1580.1" cy="434.1" r="2.85"/>
<circle cx="1575.0" cy="441.5" r="2.85"/>
<circle cx="1572.2" cy="449.1" r="2.85"/>
<circle cx="1577.3" cy="450.7" r="2.85"/>
<circle cx="1575.0" cy="457.6" r="2.85"/>
<circle cx="1575.0" cy="473.7" r="2.85"/>
<circle cx="1575.0" cy="528.9" r="2.85"/>
<rect x="1562.4" y="325.6" width="25.2" height="4.8" fill="#000"/>
</g>
<g fill="#e0301e">
<path d="M1613.2 381.3 V430.2" stroke="#e0301e" stroke-width="3" fill="none"/>
<path d="M1606.9 381.3 H1619.5" stroke="#e0301e" stroke-width="2.3" fill="none"/>
<circle cx="1613.2" cy="325.7" r="2.85"/>
<circle cx="1613.2" cy="349.5" r="2.85"/>
<circle cx="1616.6" cy="367.5" r="2.85"/>
<circle cx="1610.4" cy="372.5" r="2.85"/>
<circle cx="1613.2" cy="378.3" r="2.85"/>
<circle cx="1613.2" cy="395.5" r="2.85"/>
<circle cx="1613.2" cy="403.6" r="2.85"/>
<circle cx="1613.2" cy="432.3" r="2.85"/>
<circle cx="1613.2" cy="439.2" r="2.85"/>
<circle cx="1603.1" cy="449.1" r="2.85"/>
<circle cx="1616.6" cy="450.0" r="2.85"/>
<circle cx="1623.3" cy="453.7" r="2.85"/>
<circle cx="1609.8" cy="456.0" r="2.85"/>
<circle cx="1616.6" cy="457.1" r="2.85"/>
<circle cx="1609.8" cy="472.5" r="2.85"/>
<circle cx="1616.6" cy="472.5" r="2.85"/>
<circle cx="1616.6" cy="481.7" r="2.85"/>
<circle cx="1609.8" cy="485.9" r="2.85"/>
<circle cx="1623.3" cy="486.3" r="2.85"/>
<circle cx="1609.8" cy="499.4" r="2.85"/>
<circle cx="1623.3" cy="501.3" r="2.85"/>
<circle cx="1603.1" cy="502.4" r="2.85"/>
<circle cx="1616.6" cy="503.6" r="2.85"/>
<circle cx="1609.8" cy="507.5" r="2.85"/>
<circle cx="1623.3" cy="509.3" r="2.85"/>
<circle cx="1603.1" cy="512.8" r="2.85"/>
<circle cx="1609.8" cy="513.9" r="2.85"/>
<circle cx="1616.6" cy="513.9" r="2.85"/>
<circle cx="1603.1" cy="518.5" r="2.85"/>
<circle cx="1616.6" cy="519.7" r="2.85"/>
<circle cx="1609.8" cy="522.0" r="2.85"/>
<circle cx="1613.2" cy="541.0" r="2.85"/>
<circle cx="1613.2" cy="547.2" r="2.85"/>
<circle cx="1613.2" cy="553.0" r="2.85"/>
<circle cx="1613.2" cy="561.0" r="2.85"/>
<circle cx="1609.8" cy="578.3" r="2.85"/>
<circle cx="1616.6" cy="583.3" r="2.85"/>
<circle cx="1613.2" cy="589.8" r="2.85"/>
<rect x="1600.6" y="427.8" width="25.2" height="4.8" fill="#000"/>
</g>
<g fill="#e0301e">
<path d="M1651.4 510.5 V553.4" stroke="#e0301e" stroke-width="3" fill="none"/>
<path d="M1645.1 510.5 H1657.7" stroke="#e0301e" stroke-width="2.3" fill="none"/>
<circle cx="1651.4" cy="452.5" r="2.85"/>
<circle cx="1651.4" cy="481.0" r="2.85"/>
<circle cx="1652.5" cy="512.3" r="2.85"/>
<circle cx="1653.2" cy="517.4" r="2.85"/>
<circle cx="1657.1" cy="541.0" r="2.85"/>
<circle cx="1651.4" cy="543.8" r="2.85"/>
<circle cx="1656.0" cy="547.2" r="2.85"/>
<circle cx="1653.2" cy="557.6" r="2.85"/>
<circle cx="1646.8" cy="563.3" r="2.85"/>
<circle cx="1657.8" cy="563.3" r="2.85"/>
<circle cx="1652.5" cy="564.9" r="2.85"/>
<circle cx="1650.3" cy="571.4" r="2.85"/>
<circle cx="1644.5" cy="573.2" r="2.85"/>
<circle cx="1657.1" cy="573.2" r="2.85"/>
<circle cx="1652.5" cy="577.1" r="2.85"/>
<circle cx="1646.8" cy="579.4" r="2.85"/>
<circle cx="1657.1" cy="579.4" r="2.85"/>
<circle cx="1651.4" cy="582.9" r="2.85"/>
<circle cx="1645.7" cy="585.2" r="2.85"/>
<circle cx="1654.8" cy="585.2" r="2.85"/>
<circle cx="1661.5" cy="588.6" r="2.85"/>
<circle cx="1641.3" cy="589.8" r="2.85"/>
<circle cx="1650.3" cy="589.8" r="2.85"/>
<circle cx="1646.3" cy="592.1" r="2.85"/>
<circle cx="1656.5" cy="592.1" r="2.85"/>
<circle cx="1651.4" cy="594.4" r="2.85"/>
<circle cx="1641.3" cy="595.5" r="2.85"/>
<circle cx="1659.4" cy="595.5" r="2.85"/>
<circle cx="1657.1" cy="597.1" r="2.85"/>
<rect x="1638.8" y="551.0" width="25.2" height="4.8" fill="#000"/>
</g>
<g fill="#3838a8">
<path d="M1689.6 404.7 V459.2" stroke="#3838a8" stroke-width="3" fill="none"/>
<path d="M1683.3 404.7 H1695.9" stroke="#3838a8" stroke-width="2.3" fill="none"/>
<circle cx="1689.6" cy="349.5" r="2.85"/>
<circle cx="1689.6" cy="364.9" r="2.85"/>
<circle cx="1689.6" cy="370.9" r="2.85"/>
<circle cx="1689.6" cy="423.1" r="2.85"/>
<circle cx="1687.8" cy="455.3" r="2.85"/>
<circle cx="1691.4" cy="455.3" r="2.85"/>
<circle cx="1685.0" cy="470.9" r="2.85"/>
<circle cx="1690.7" cy="475.3" r="2.85"/>
<circle cx="1694.7" cy="475.3" r="2.85"/>
<circle cx="1685.0" cy="479.4" r="2.85"/>
<circle cx="1694.7" cy="481.3" r="2.85"/>
<circle cx="1686.8" cy="488.2" r="2.85"/>
<circle cx="1691.9" cy="488.2" r="2.85"/>
<circle cx="1689.6" cy="495.5" r="2.85"/>
<circle cx="1684.5" cy="502.0" r="2.85"/>
<circle cx="1690.7" cy="507.0" r="2.85"/>
<circle cx="1694.7" cy="507.0" r="2.85"/>
<circle cx="1684.5" cy="512.8" r="2.85"/>
<circle cx="1690.7" cy="514.4" r="2.85"/>
<circle cx="1694.7" cy="514.4" r="2.85"/>
<circle cx="1684.5" cy="518.5" r="2.85"/>
<circle cx="1694.7" cy="520.3" r="2.85"/>
<circle cx="1684.5" cy="524.3" r="2.85"/>
<circle cx="1694.7" cy="525.4" r="2.85"/>
<circle cx="1686.2" cy="531.8" r="2.85"/>
<circle cx="1691.9" cy="531.8" r="2.85"/>
<circle cx="1686.2" cy="539.7" r="2.85"/>
<circle cx="1691.9" cy="539.7" r="2.85"/>
<circle cx="1689.6" cy="550.7" r="2.85"/>
<circle cx="1679.5" cy="564.9" r="2.85"/>
<circle cx="1684.5" cy="565.6" r="2.85"/>
<circle cx="1690.7" cy="566.8" r="2.85"/>
<circle cx="1695.3" cy="566.8" r="2.85"/>
<circle cx="1686.2" cy="571.4" r="2.85"/>
<circle cx="1695.3" cy="572.5" r="2.85"/>
<circle cx="1690.7" cy="576.4" r="2.85"/>
<circle cx="1694.7" cy="578.3" r="2.85"/>
<circle cx="1689.6" cy="583.3" r="2.85"/>
<circle cx="1689.6" cy="598.5" r="2.85"/>
<rect x="1677.0" y="456.8" width="25.2" height="4.8" fill="#000"/>
</g>
<g fill="#2c962c">
<path d="M1727.8 295.9 V342.5" stroke="#2c962c" stroke-width="3" fill="none"/>
<path d="M1721.5 295.9 H1734.1" stroke="#2c962c" stroke-width="2.3" fill="none"/>
<circle cx="1727.8" cy="232.0" r="2.85"/>
<circle cx="1727.8" cy="290.6" r="2.85"/>
<circle cx="1717.7" cy="318.2" r="2.85"/>
<circle cx="1724.4" cy="320.0" r="2.85"/>
<circle cx="1731.2" cy="319.5" r="2.85"/>
<circle cx="1737.9" cy="316.6" r="2.85"/>
<circle cx="1724.4" cy="329.7" r="2.85"/>
<circle cx="1731.2" cy="331.0" r="2.85"/>
<circle cx="1717.7" cy="345.6" r="2.85"/>
<circle cx="1724.4" cy="345.6" r="2.85"/>
<circle cx="1731.2" cy="345.6" r="2.85"/>
<circle cx="1737.9" cy="345.6" r="2.85"/>
<circle cx="1731.2" cy="354.1" r="2.85"/>
<circle cx="1724.4" cy="357.1" r="2.85"/>
<circle cx="1731.2" cy="361.5" r="2.85"/>
<circle cx="1724.4" cy="365.6" r="2.85"/>
<circle cx="1731.2" cy="367.2" r="2.85"/>
<circle cx="1717.7" cy="372.5" r="2.85"/>
<circle cx="1737.9" cy="372.5" r="2.85"/>
<circle cx="1717.7" cy="384.7" r="2.85"/>
<circle cx="1724.4" cy="384.7" r="2.85"/>
<circle cx="1731.2" cy="386.3" r="2.85"/>
<circle cx="1737.9" cy="389.8" r="2.85"/>
<circle cx="1724.4" cy="390.2" r="2.85"/>
<circle cx="1724.4" cy="399.0" r="2.85"/>
<circle cx="1731.2" cy="403.6" r="2.85"/>
<circle cx="1724.4" cy="405.9" r="2.85"/>
<circle cx="1717.7" cy="410.5" r="2.85"/>
<circle cx="1731.2" cy="410.5" r="2.85"/>
<circle cx="1724.4" cy="412.8" r="2.85"/>
<circle cx="1727.8" cy="421.5" r="2.85"/>
<circle cx="1724.4" cy="435.3" r="2.85"/>
<circle cx="1731.2" cy="440.3" r="2.85"/>
<circle cx="1724.4" cy="443.8" r="2.85"/>
<circle cx="1727.8" cy="470.2" r="2.85"/>
<circle cx="1727.8" cy="477.1" r="2.85"/>
<circle cx="1727.8" cy="488.2" r="2.85"/>
<circle cx="1727.8" cy="531.6" r="2.85"/>
<rect x="1715.2" y="340.1" width="25.2" height="4.8" fill="#000"/>
</g>
<g fill="#c39a5b">
<path d="M1766.0 282.8 V342.0" stroke="#c39a5b" stroke-width="3" fill="none"/>
<path d="M1759.7 282.8 H1772.3" stroke="#c39a5b" stroke-width="2.3" fill="none"/>
<circle cx="1766.0" cy="217.7" r="2.85"/>
<circle cx="1766.0" cy="252.9" r="2.85"/>
<circle cx="1766.0" cy="292.4" r="2.85"/>
<circle cx="1766.0" cy="303.9" r="2.85"/>
<circle cx="1771.1" cy="329.2" r="2.85"/>
<circle cx="1763.2" cy="336.1" r="2.85"/>
<circle cx="1768.3" cy="340.2" r="2.85"/>
<circle cx="1760.9" cy="354.1" r="2.85"/>
<circle cx="1766.0" cy="359.4" r="2.85"/>
<circle cx="1771.1" cy="359.4" r="2.85"/>
<circle cx="1766.0" cy="378.3" r="2.85"/>
<circle cx="1766.0" cy="392.5" r="2.85"/>
<circle cx="1766.0" cy="406.3" r="2.85"/>
<circle cx="1766.0" cy="416.9" r="2.85"/>
<circle cx="1766.0" cy="426.6" r="2.85"/>
<circle cx="1760.9" cy="431.1" r="2.85"/>
<circle cx="1766.0" cy="435.3" r="2.85"/>
<circle cx="1766.0" cy="442.2" r="2.85"/>
<circle cx="1760.9" cy="464.9" r="2.85"/>
<circle cx="1766.0" cy="464.9" r="2.85"/>
<circle cx="1771.1" cy="464.9" r="2.85"/>
<circle cx="1760.9" cy="473.7" r="2.85"/>
<circle cx="1766.0" cy="473.7" r="2.85"/>
<circle cx="1771.1" cy="473.7" r="2.85"/>
<circle cx="1766.0" cy="482.9" r="2.85"/>
<circle cx="1760.9" cy="489.1" r="2.85"/>
<circle cx="1766.0" cy="489.1" r="2.85"/>
<circle cx="1771.1" cy="490.9" r="2.85"/>
<circle cx="1776.1" cy="490.9" r="2.85"/>
<circle cx="1755.9" cy="493.2" r="2.85"/>
<circle cx="1771.1" cy="508.2" r="2.85"/>
<circle cx="1760.9" cy="513.4" r="2.85"/>
<circle cx="1766.0" cy="513.4" r="2.85"/>
<circle cx="1771.1" cy="513.4" r="2.85"/>
<circle cx="1766.0" cy="529.5" r="2.85"/>
<circle cx="1766.0" cy="549.1" r="2.85"/>
<rect x="1753.4" y="339.6" width="25.2" height="4.8" fill="#000"/>
</g>
<g fill="#9a32cd">
<circle cx="1801.6" cy="264.8" r="2.85"/>
<circle cx="1799.2" cy="270.0" r="2.85"/>
<circle cx="1809.2" cy="271.7" r="2.85"/>
<circle cx="1799.2" cy="276.2" r="2.85"/>
<circle cx="1802.6" cy="274.0" r="2.85"/>
<circle cx="1806.1" cy="275.5" r="2.85"/>
<circle cx="1804.2" cy="280.0" r="2.85"/>
<circle cx="1796.4" cy="286.5" r="2.85"/>
<circle cx="1809.2" cy="284.8" r="2.85"/>
<circle cx="1800.6" cy="285.0" r="2.85"/>
<circle cx="1799.2" cy="288.6" r="2.85"/>
<circle cx="1810.2" cy="289.3" r="2.85"/>
<circle cx="1805.2" cy="288.0" r="2.85"/>
<circle cx="1794.3" cy="292.0" r="2.85"/>
<circle cx="1813.6" cy="292.0" r="2.85"/>
<circle cx="1800.2" cy="294.0" r="2.85"/>
<circle cx="1807.2" cy="295.0" r="2.85"/>
<circle cx="1794.3" cy="299.0" r="2.85"/>
<circle cx="1798.5" cy="299.0" r="2.85"/>
<circle cx="1808.1" cy="299.0" r="2.85"/>
<circle cx="1813.6" cy="298.3" r="2.85"/>
<circle cx="1794.0" cy="304.1" r="2.85"/>
<circle cx="1814.0" cy="304.1" r="2.85"/>
<circle cx="1799.2" cy="303.1" r="2.85"/>
<circle cx="1803.3" cy="303.0" r="2.85"/>
<circle cx="1808.1" cy="302.4" r="2.85"/>
<circle cx="1804.7" cy="308.0" r="2.85"/>
<circle cx="1801.6" cy="316.9" r="2.85"/>
<circle cx="1806.4" cy="320.7" r="2.85"/>
<circle cx="1804.7" cy="328.3" r="2.85"/>
<circle cx="1802.3" cy="331.4" r="2.85"/>
<path d="M1804.2 279.3 V311.2" stroke="#000" stroke-width="3" fill="none"/>
<path d="M1797.9 279.3 H1810.5 M1797.9 311.2 H1810.5" stroke="#000" stroke-width="2.3" fill="none"/>
<rect x="1791.6" y="291.9" width="25.2" height="4.8" fill="#000"/>
</g>
</g>
<!-- panel_c -->
<g id="panel-c">
<text class="b" x="24" y="825" font-size="66">c</text>
<g stroke="#999999" stroke-width="1">
<rect x="133.3" y="881.7" width="34.1" height="37.2" fill="#d7332a"/>
<rect x="167.5" y="881.7" width="34.1" height="37.2" fill="#f1f9c4"/>
<rect x="201.6" y="881.7" width="34.1" height="37.2" fill="#f4eea9"/>
<rect x="235.8" y="881.7" width="34.1" height="37.2" fill="#f3e49c"/>
<rect x="269.9" y="881.7" width="34.1" height="37.2" fill="#f2dc91"/>
<rect x="304.1" y="881.7" width="34.1" height="37.2" fill="#f1ce86"/>
<rect x="338.2" y="881.7" width="34.1" height="37.2" fill="#f5f6b4"/>
<rect x="372.4" y="881.7" width="34.1" height="37.2" fill="#cfe8f0"/>
<rect x="406.5" y="881.7" width="34.1" height="37.2" fill="#4d7cb7"/>
<rect x="440.6" y="881.7" width="34.1" height="37.2" fill="#5685bc"/>
<rect x="474.8" y="881.7" width="34.1" height="37.2" fill="#5483ba"/>
<rect x="508.9" y="881.7" width="34.1" height="37.2" fill="#5483ba"/>
<rect x="543.1" y="881.7" width="34.1" height="37.2" fill="#5685bc"/>
<rect x="577.2" y="881.7" width="34.1" height="37.2" fill="#4d7cb7"/>
<rect x="611.4" y="881.7" width="34.1" height="37.2" fill="#85b2d4"/>
<rect x="645.5" y="881.7" width="34.1" height="37.2" fill="#b3d5e6"/>
<rect x="679.7" y="881.7" width="34.1" height="37.2" fill="#97c2dc"/>
<rect x="713.8" y="881.7" width="34.1" height="37.2" fill="#b8d8e8"/>
<rect x="748.0" y="881.7" width="34.1" height="37.2" fill="#608ec0"/>
<rect x="782.2" y="881.7" width="34.1" height="37.2" fill="#5685bc"/>
<rect x="133.3" y="918.9" width="34.1" height="37.2" fill="#f1f9c4"/>
<rect x="167.5" y="918.9" width="34.1" height="37.2" fill="#d7332a"/>
<rect x="201.6" y="918.9" width="34.1" height="37.2" fill="#f3e49c"/>
<rect x="235.8" y="918.9" width="34.1" height="37.2" fill="#f1bf7c"/>
<rect x="269.9" y="918.9" width="34.1" height="37.2" fill="#ef9d66"/>
<rect x="304.1" y="918.9" width="34.1" height="37.2" fill="#f0a76c"/>
<rect x="338.2" y="918.9" width="34.1" height="37.2" fill="#f5f6b4"/>
<rect x="372.4" y="918.9" width="34.1" height="37.2" fill="#e2f3ec"/>
<rect x="406.5" y="918.9" width="34.1" height="37.2" fill="#507eb8"/>
<rect x="440.6" y="918.9" width="34.1" height="37.2" fill="#5483ba"/>
<rect x="474.8" y="918.9" width="34.1" height="37.2" fill="#5280b9"/>
<rect x="508.9" y="918.9" width="34.1" height="37.2" fill="#5483ba"/>
<rect x="543.1" y="918.9" width="34.1" height="37.2" fill="#4b7ab6"/>
<rect x="577.2" y="918.9" width="34.1" height="37.2" fill="#5483ba"/>
<rect x="611.4" y="918.9" width="34.1" height="37.2" fill="#a5cce1"/>
<rect x="645.5" y="918.9" width="34.1" height="37.2" fill="#b3d5e6"/>
<rect x="679.7" y="918.9" width="34.1" height="37.2" fill="#b8d8e8"/>
<rect x="713.8" y="918.9" width="34.1" height="37.2" fill="#608ec0"/>
<rect x="748.0" y="918.9" width="34.1" height="37.2" fill="#4b7ab6"/>
<rect x="782.2" y="918.9" width="34.1" height="37.2" fill="#6e9cc8"/>
<rect x="133.3" y="956.1" width="34.1" height="37.2" fill="#f4eea9"/>
<rect x="167.5" y="956.1" width="34.1" height="37.2" fill="#f3e49c"/>
<rect x="201.6" y="956.1" width="34.1" height="37.2" fill="#d7332a"/>
<rect x="235.8" y="956.1" width="34.1" height="37.2" fill="#f0b576"/>
<rect x="269.9" y="956.1" width="34.1" height="37.2" fill="#e56646"/>
<rect x="304.1" y="956.1" width="34.1" height="37.2" fill="#efa269"/>
<rect x="338.2" y="956.1" width="34.1" height="37.2" fill="#f0b576"/>
<rect x="372.4" y="956.1" width="34.1" height="37.2" fill="#e3f4e9"/>
<rect x="406.5" y="956.1" width="34.1" height="37.2" fill="#5280b9"/>
<rect x="440.6" y="956.1" width="34.1" height="37.2" fill="#507eb8"/>
<rect x="474.8" y="956.1" width="34.1" height="37.2" fill="#5b8abe"/>
<rect x="508.9" y="956.1" width="34.1" height="37.2" fill="#5483ba"/>
<rect x="543.1" y="956.1" width="34.1" height="37.2" fill="#4d7cb7"/>
<rect x="577.2" y="956.1" width="34.1" height="37.2" fill="#4d7cb7"/>
<rect x="611.4" y="956.1" width="34.1" height="37.2" fill="#89b6d6"/>
<rect x="645.5" y="956.1" width="34.1" height="37.2" fill="#e7f5de"/>
<rect x="679.7" y="956.1" width="34.1" height="37.2" fill="#97c2dc"/>
<rect x="713.8" y="956.1" width="34.1" height="37.2" fill="#6492c3"/>
<rect x="748.0" y="956.1" width="34.1" height="37.2" fill="#5280b9"/>
<rect x="782.2" y="956.1" width="34.1" height="37.2" fill="#6492c3"/>
<rect x="133.3" y="993.3" width="34.1" height="37.2" fill="#f3e49c"/>
<rect x="167.5" y="993.3" width="34.1" height="37.2" fill="#f1bf7c"/>
<rect x="201.6" y="993.3" width="34.1" height="37.2" fill="#f0b576"/>
<rect x="235.8" y="993.3" width="34.1" height="37.2" fill="#d7332a"/>
<rect x="269.9" y="993.3" width="34.1" height="37.2" fill="#e56646"/>
<rect x="304.1" y="993.3" width="34.1" height="37.2" fill="#e9754e"/>
<rect x="338.2" y="993.3" width="34.1" height="37.2" fill="#f1ce86"/>
<rect x="372.4" y="993.3" width="34.1" height="37.2" fill="#f1f9c4"/>
<rect x="406.5" y="993.3" width="34.1" height="37.2" fill="#5483ba"/>
<rect x="440.6" y="993.3" width="34.1" height="37.2" fill="#6e9cc8"/>
<rect x="474.8" y="993.3" width="34.1" height="37.2" fill="#6997c5"/>
<rect x="508.9" y="993.3" width="34.1" height="37.2" fill="#5b8abe"/>
<rect x="543.1" y="993.3" width="34.1" height="37.2" fill="#5b8abe"/>
<rect x="577.2" y="993.3" width="34.1" height="37.2" fill="#5483ba"/>
<rect x="611.4" y="993.3" width="34.1" height="37.2" fill="#7ba9cf"/>
<rect x="645.5" y="993.3" width="34.1" height="37.2" fill="#eaf6d6"/>
<rect x="679.7" y="993.3" width="34.1" height="37.2" fill="#dff2f4"/>
<rect x="713.8" y="993.3" width="34.1" height="37.2" fill="#7ba9cf"/>
<rect x="748.0" y="993.3" width="34.1" height="37.2" fill="#5b8abe"/>
<rect x="782.2" y="993.3" width="34.1" height="37.2" fill="#77a4cc"/>
<rect x="133.3" y="1030.5" width="34.1" height="37.2" fill="#f2dc91"/>
<rect x="167.5" y="1030.5" width="34.1" height="37.2" fill="#ef9d66"/>
<rect x="201.6" y="1030.5" width="34.1" height="37.2" fill="#e56646"/>
<rect x="235.8" y="1030.5" width="34.1" height="37.2" fill="#e56646"/>
<rect x="269.9" y="1030.5" width="34.1" height="37.2" fill="#d7332a"/>
<rect x="304.1" y="1030.5" width="34.1" height="37.2" fill="#de4d38"/>
<rect x="338.2" y="1030.5" width="34.1" height="37.2" fill="#f0b072"/>
<rect x="372.4" y="1030.5" width="34.1" height="37.2" fill="#eef8cb"/>
<rect x="406.5" y="1030.5" width="34.1" height="37.2" fill="#5280b9"/>
<rect x="440.6" y="1030.5" width="34.1" height="37.2" fill="#6492c3"/>
<rect x="474.8" y="1030.5" width="34.1" height="37.2" fill="#608ec0"/>
<rect x="508.9" y="1030.5" width="34.1" height="37.2" fill="#5280b9"/>
<rect x="543.1" y="1030.5" width="34.1" height="37.2" fill="#4d7cb7"/>
<rect x="577.2" y="1030.5" width="34.1" height="37.2" fill="#4d7cb7"/>
<rect x="611.4" y="1030.5" width="34.1" height="37.2" fill="#8ebbd8"/>
<rect x="645.5" y="1030.5" width="34.1" height="37.2" fill="#eaf6d6"/>
<rect x="679.7" y="1030.5" width="34.1" height="37.2" fill="#c5e1ed"/>
<rect x="713.8" y="1030.5" width="34.1" height="37.2" fill="#6997c5"/>
<rect x="748.0" y="1030.5" width="34.1" height="37.2" fill="#4d7cb7"/>
<rect x="782.2" y="1030.5" width="34.1" height="37.2" fill="#608ec0"/>
<rect x="133.3" y="1067.8" width="34.1" height="37.2" fill="#f1ce86"/>
<rect x="167.5" y="1067.8" width="34.1" height="37.2" fill="#f0a76c"/>
<rect x="201.6" y="1067.8" width="34.1" height="37.2" fill="#efa269"/>
<rect x="235.8" y="1067.8" width="34.1" height="37.2" fill="#e9754e"/>
<rect x="269.9" y="1067.8" width="34.1" height="37.2" fill="#de4d38"/>
<rect x="304.1" y="1067.8" width="34.1" height="37.2" fill="#d7332a"/>
<rect x="338.2" y="1067.8" width="34.1" height="37.2" fill="#f3e299"/>
<rect x="372.4" y="1067.8" width="34.1" height="37.2" fill="#eaf6d6"/>
<rect x="406.5" y="1067.8" width="34.1" height="37.2" fill="#5483ba"/>
<rect x="440.6" y="1067.8" width="34.1" height="37.2" fill="#5280b9"/>
<rect x="474.8" y="1067.8" width="34.1" height="37.2" fill="#4b7ab6"/>
<rect x="508.9" y="1067.8" width="34.1" height="37.2" fill="#4b7ab6"/>
<rect x="543.1" y="1067.8" width="34.1" height="37.2" fill="#4d7cb7"/>
<rect x="577.2" y="1067.8" width="34.1" height="37.2" fill="#5483ba"/>
<rect x="611.4" y="1067.8" width="34.1" height="37.2" fill="#89b6d6"/>
<rect x="645.5" y="1067.8" width="34.1" height="37.2" fill="#b8d8e8"/>
<rect x="679.7" y="1067.8" width="34.1" height="37.2" fill="#bcdbea"/>
<rect x="713.8" y="1067.8" width="34.1" height="37.2" fill="#8ebbd8"/>
<rect x="748.0" y="1067.8" width="34.1" height="37.2" fill="#4b7ab6"/>
<rect x="782.2" y="1067.8" width="34.1" height="37.2" fill="#5685bc"/>
<rect x="133.3" y="1105.0" width="34.1" height="37.2" fill="#f5f6b4"/>
<rect x="167.5" y="1105.0" width="34.1" height="37.2" fill="#f5f6b4"/>
<rect x="201.6" y="1105.0" width="34.1" height="37.2" fill="#f0b576"/>
<rect x="235.8" y="1105.0" width="34.1" height="37.2" fill="#f1ce86"/>
<rect x="269.9" y="1105.0" width="34.1" height="37.2" fill="#f0b072"/>
<rect x="304.1" y="1105.0" width="34.1" height="37.2" fill="#f3e299"/>
<rect x="338.2" y="1105.0" width="34.1" height="37.2" fill="#d7332a"/>
<rect x="372.4" y="1105.0" width="34.1" height="37.2" fill="#f0b576"/>
<rect x="406.5" y="1105.0" width="34.1" height="37.2" fill="#6e9cc8"/>
<rect x="440.6" y="1105.0" width="34.1" height="37.2" fill="#f4fabd"/>
<rect x="474.8" y="1105.0" width="34.1" height="37.2" fill="#d3ebf2"/>
<rect x="508.9" y="1105.0" width="34.1" height="37.2" fill="#97c2dc"/>
<rect x="543.1" y="1105.0" width="34.1" height="37.2" fill="#a0c8e0"/>
<rect x="577.2" y="1105.0" width="34.1" height="37.2" fill="#507eb8"/>
<rect x="611.4" y="1105.0" width="34.1" height="37.2" fill="#7ba9cf"/>
<rect x="645.5" y="1105.0" width="34.1" height="37.2" fill="#e4f4e5"/>
<rect x="679.7" y="1105.0" width="34.1" height="37.2" fill="#9cc5de"/>
<rect x="713.8" y="1105.0" width="34.1" height="37.2" fill="#72a0ca"/>
<rect x="748.0" y="1105.0" width="34.1" height="37.2" fill="#5685bc"/>
<rect x="782.2" y="1105.0" width="34.1" height="37.2" fill="#77a4cc"/>
<rect x="133.3" y="1142.2" width="34.1" height="37.2" fill="#cfe8f0"/>
<rect x="167.5" y="1142.2" width="34.1" height="37.2" fill="#e2f3ec"/>
<rect x="201.6" y="1142.2" width="34.1" height="37.2" fill="#e3f4e9"/>
<rect x="235.8" y="1142.2" width="34.1" height="37.2" fill="#f1f9c4"/>
<rect x="269.9" y="1142.2" width="34.1" height="37.2" fill="#eef8cb"/>
<rect x="304.1" y="1142.2" width="34.1" height="37.2" fill="#eaf6d6"/>
<rect x="338.2" y="1142.2" width="34.1" height="37.2" fill="#f0b576"/>
<rect x="372.4" y="1142.2" width="34.1" height="37.2" fill="#d7332a"/>
<rect x="406.5" y="1142.2" width="34.1" height="37.2" fill="#7ba9cf"/>
<rect x="440.6" y="1142.2" width="34.1" height="37.2" fill="#f4fabd"/>
<rect x="474.8" y="1142.2" width="34.1" height="37.2" fill="#f4eaa4"/>
<rect x="508.9" y="1142.2" width="34.1" height="37.2" fill="#f4fabd"/>
<rect x="543.1" y="1142.2" width="34.1" height="37.2" fill="#f4fabd"/>
<rect x="577.2" y="1142.2" width="34.1" height="37.2" fill="#4b7ab6"/>
<rect x="611.4" y="1142.2" width="34.1" height="37.2" fill="#6e9cc8"/>
<rect x="645.5" y="1142.2" width="34.1" height="37.2" fill="#8ebbd8"/>
<rect x="679.7" y="1142.2" width="34.1" height="37.2" fill="#85b2d4"/>
<rect x="713.8" y="1142.2" width="34.1" height="37.2" fill="#80aed1"/>
<rect x="748.0" y="1142.2" width="34.1" height="37.2" fill="#5685bc"/>
<rect x="782.2" y="1142.2" width="34.1" height="37.2" fill="#6492c3"/>
<rect x="133.3" y="1179.4" width="34.1" height="37.2" fill="#4d7cb7"/>
<rect x="167.5" y="1179.4" width="34.1" height="37.2" fill="#507eb8"/>
<rect x="201.6" y="1179.4" width="34.1" height="37.2" fill="#5280b9"/>
<rect x="235.8" y="1179.4" width="34.1" height="37.2" fill="#5483ba"/>
<rect x="269.9" y="1179.4" width="34.1" height="37.2" fill="#5280b9"/>
<rect x="304.1" y="1179.4" width="34.1" height="37.2" fill="#5483ba"/>
<rect x="338.2" y="1179.4" width="34.1" height="37.2" fill="#6e9cc8"/>
<rect x="372.4" y="1179.4" width="34.1" height="37.2" fill="#7ba9cf"/>
<rect x="406.5" y="1179.4" width="34.1" height="37.2" fill="#d7332a"/>
<rect x="440.6" y="1179.4" width="34.1" height="37.2" fill="#d8eef4"/>
<rect x="474.8" y="1179.4" width="34.1" height="37.2" fill="#c1deeb"/>
<rect x="508.9" y="1179.4" width="34.1" height="37.2" fill="#aed2e5"/>
<rect x="543.1" y="1179.4" width="34.1" height="37.2" fill="#b8d8e8"/>
<rect x="577.2" y="1179.4" width="34.1" height="37.2" fill="#507eb8"/>
<rect x="611.4" y="1179.4" width="34.1" height="37.2" fill="#5280b9"/>
<rect x="645.5" y="1179.4" width="34.1" height="37.2" fill="#85b2d4"/>
<rect x="679.7" y="1179.4" width="34.1" height="37.2" fill="#5483ba"/>
<rect x="713.8" y="1179.4" width="34.1" height="37.2" fill="#5280b9"/>
<rect x="748.0" y="1179.4" width="34.1" height="37.2" fill="#5280b9"/>
<rect x="782.2" y="1179.4" width="34.1" height="37.2" fill="#5b8abe"/>
<rect x="133.3" y="1216.6" width="34.1" height="37.2" fill="#5685bc"/>
<rect x="167.5" y="1216.6" width="34.1" height="37.2" fill="#5483ba"/>
<rect x="201.6" y="1216.6" width="34.1" height="37.2" fill="#507eb8"/>
<rect x="235.8" y="1216.6" width="34.1" height="37.2" fill="#6e9cc8"/>
<rect x="269.9" y="1216.6" width="34.1" height="37.2" fill="#6492c3"/>
<rect x="304.1" y="1216.6" width="34.1" height="37.2" fill="#5280b9"/>
<rect x="338.2" y="1216.6" width="34.1" height="37.2" fill="#f4fabd"/>
<rect x="372.4" y="1216.6" width="34.1" height="37.2" fill="#f4fabd"/>
<rect x="406.5" y="1216.6" width="34.1" height="37.2" fill="#d8eef4"/>
<rect x="440.6" y="1216.6" width="34.1" height="37.2" fill="#d7332a"/>
<rect x="474.8" y="1216.6" width="34.1" height="37.2" fill="#f2f9c0"/>
<rect x="508.9" y="1216.6" width="34.1" height="37.2" fill="#f4fabd"/>
<rect x="543.1" y="1216.6" width="34.1" height="37.2" fill="#f5fab9"/>
<rect x="577.2" y="1216.6" width="34.1" height="37.2" fill="#5280b9"/>
<rect x="611.4" y="1216.6" width="34.1" height="37.2" fill="#5483ba"/>
<rect x="645.5" y="1216.6" width="34.1" height="37.2" fill="#5280b9"/>
<rect x="679.7" y="1216.6" width="34.1" height="37.2" fill="#5b8abe"/>
<rect x="713.8" y="1216.6" width="34.1" height="37.2" fill="#5b8abe"/>
<rect x="748.0" y="1216.6" width="34.1" height="37.2" fill="#4d7cb7"/>
<rect x="782.2" y="1216.6" width="34.1" height="37.2" fill="#5b8abe"/>
<rect x="133.3" y="1253.8" width="34.1" height="37.2" fill="#5483ba"/>
<rect x="167.5" y="1253.8" width="34.1" height="37.2" fill="#5280b9"/>
<rect x="201.6" y="1253.8" width="34.1" height="37.2" fill="#5b8abe"/>
<rect x="235.8" y="1253.8" width="34.1" height="37.2" fill="#6997c5"/>
<rect x="269.9" y="1253.8" width="34.1" height="37.2" fill="#608ec0"/>
<rect x="304.1" y="1253.8" width="34.1" height="37.2" fill="#4b7ab6"/>
<rect x="338.2" y="1253.8" width="34.1" height="37.2" fill="#d3ebf2"/>
<rect x="372.4" y="1253.8" width="34.1" height="37.2" fill="#f4eaa4"/>
<rect x="406.5" y="1253.8" width="34.1" height="37.2" fill="#c1deeb"/>
<rect x="440.6" y="1253.8" width="34.1" height="37.2" fill="#f2f9c0"/>
<rect x="474.8" y="1253.8" width="34.1" height="37.2" fill="#d7332a"/>
<rect x="508.9" y="1253.8" width="34.1" height="37.2" fill="#e8704b"/>
<rect x="543.1" y="1253.8" width="34.1" height="37.2" fill="#de4d38"/>
<rect x="577.2" y="1253.8" width="34.1" height="37.2" fill="#507eb8"/>
<rect x="611.4" y="1253.8" width="34.1" height="37.2" fill="#4b7ab6"/>
<rect x="645.5" y="1253.8" width="34.1" height="37.2" fill="#608ec0"/>
<rect x="679.7" y="1253.8" width="34.1" height="37.2" fill="#4b7ab6"/>
<rect x="713.8" y="1253.8" width="34.1" height="37.2" fill="#4d7cb7"/>
<rect x="748.0" y="1253.8" width="34.1" height="37.2" fill="#5280b9"/>
<rect x="782.2" y="1253.8" width="34.1" height="37.2" fill="#4d7cb7"/>
<rect x="133.3" y="1291.0" width="34.1" height="37.2" fill="#5483ba"/>
<rect x="167.5" y="1291.0" width="34.1" height="37.2" fill="#5483ba"/>
<rect x="201.6" y="1291.0" width="34.1" height="37.2" fill="#5483ba"/>
<rect x="235.8" y="1291.0" width="34.1" height="37.2" fill="#5b8abe"/>
<rect x="269.9" y="1291.0" width="34.1" height="37.2" fill="#5280b9"/>
<rect x="304.1" y="1291.0" width="34.1" height="37.2" fill="#4b7ab6"/>
<rect x="338.2" y="1291.0" width="34.1" height="37.2" fill="#97c2dc"/>
<rect x="372.4" y="1291.0" width="34.1" height="37.2" fill="#f4fabd"/>
<rect x="406.5" y="1291.0" width="34.1" height="37.2" fill="#aed2e5"/>
<rect x="440.6" y="1291.0" width="34.1" height="37.2" fill="#f4fabd"/>
<rect x="474.8" y="1291.0" width="34.1" height="37.2" fill="#e8704b"/>
<rect x="508.9" y="1291.0" width="34.1" height="37.2" fill="#d7332a"/>
<rect x="543.1" y="1291.0" width="34.1" height="37.2" fill="#e25c40"/>
<rect x="577.2" y="1291.0" width="34.1" height="37.2" fill="#507eb8"/>
<rect x="611.4" y="1291.0" width="34.1" height="37.2" fill="#5280b9"/>
<rect x="645.5" y="1291.0" width="34.1" height="37.2" fill="#507eb8"/>
<rect x="679.7" y="1291.0" width="34.1" height="37.2" fill="#608ec0"/>
<rect x="713.8" y="1291.0" width="34.1" height="37.2" fill="#6997c5"/>
<rect x="748.0" y="1291.0" width="34.1" height="37.2" fill="#5280b9"/>
<rect x="782.2" y="1291.0" width="34.1" height="37.2" fill="#5483ba"/>
<rect x="133.3" y="1328.2" width="34.1" height="37.2" fill="#5685bc"/>
<rect x="167.5" y="1328.2" width="34.1" height="37.2" fill="#4b7ab6"/>
<rect x="201.6" y="1328.2" width="34.1" height="37.2" fill="#4d7cb7"/>
<rect x="235.8" y="1328.2" width="34.1" height="37.2" fill="#5b8abe"/>
<rect x="269.9" y="1328.2" width="34.1" height="37.2" fill="#4d7cb7"/>
<rect x="304.1" y="1328.2" width="34.1" height="37.2" fill="#4d7cb7"/>
<rect x="338.2" y="1328.2" width="34.1" height="37.2" fill="#a0c8e0"/>
<rect x="372.4" y="1328.2" width="34.1" height="37.2" fill="#f4fabd"/>
<rect x="406.5" y="1328.2" width="34.1" height="37.2" fill="#b8d8e8"/>
<rect x="440.6" y="1328.2" width="34.1" height="37.2" fill="#f5fab9"/>
<rect x="474.8" y="1328.2" width="34.1" height="37.2" fill="#de4d38"/>
<rect x="508.9" y="1328.2" width="34.1" height="37.2" fill="#e25c40"/>
<rect x="543.1" y="1328.2" width="34.1" height="37.2" fill="#d7332a"/>
<rect x="577.2" y="1328.2" width="34.1" height="37.2" fill="#5280b9"/>
<rect x="611.4" y="1328.2" width="34.1" height="37.2" fill="#5483ba"/>
<rect x="645.5" y="1328.2" width="34.1" height="37.2" fill="#507eb8"/>
<rect x="679.7" y="1328.2" width="34.1" height="37.2" fill="#5483ba"/>
<rect x="713.8" y="1328.2" width="34.1" height="37.2" fill="#5483ba"/>
<rect x="748.0" y="1328.2" width="34.1" height="37.2" fill="#5280b9"/>
<rect x="782.2" y="1328.2" width="34.1" height="37.2" fill="#5483ba"/>
<rect x="133.3" y="1365.4" width="34.1" height="37.2" fill="#4d7cb7"/>
<rect x="167.5" y="1365.4" width="34.1" height="37.2" fill="#5483ba"/>
<rect x="201.6" y="1365.4" width="34.1" height="37.2" fill="#4d7cb7"/>
<rect x="235.8" y="1365.4" width="34.1" height="37.2" fill="#5483ba"/>
<rect x="269.9" y="1365.4" width="34.1" height="37.2" fill="#4d7cb7"/>
<rect x="304.1" y="1365.4" width="34.1" height="37.2" fill="#5483ba"/>
<rect x="338.2" y="1365.4" width="34.1" height="37.2" fill="#507eb8"/>
<rect x="372.4" y="1365.4" width="34.1" height="37.2" fill="#4b7ab6"/>
<rect x="406.5" y="1365.4" width="34.1" height="37.2" fill="#507eb8"/>
<rect x="440.6" y="1365.4" width="34.1" height="37.2" fill="#5280b9"/>
<rect x="474.8" y="1365.4" width="34.1" height="37.2" fill="#507eb8"/>
<rect x="508.9" y="1365.4" width="34.1" height="37.2" fill="#507eb8"/>
<rect x="543.1" y="1365.4" width="34.1" height="37.2" fill="#5280b9"/>
<rect x="577.2" y="1365.4" width="34.1" height="37.2" fill="#d7332a"/>
<rect x="611.4" y="1365.4" width="34.1" height="37.2" fill="#f2da8f"/>
<rect x="645.5" y="1365.4" width="34.1" height="37.2" fill="#4d7cb7"/>
<rect x="679.7" y="1365.4" width="34.1" height="37.2" fill="#507eb8"/>
<rect x="713.8" y="1365.4" width="34.1" height="37.2" fill="#4b7ab6"/>
<rect x="748.0" y="1365.4" width="34.1" height="37.2" fill="#507eb8"/>
<rect x="782.2" y="1365.4" width="34.1" height="37.2" fill="#5483ba"/>
<rect x="133.3" y="1402.6" width="34.1" height="37.2" fill="#85b2d4"/>
<rect x="167.5" y="1402.6" width="34.1" height="37.2" fill="#a5cce1"/>
<rect x="201.6" y="1402.6" width="34.1" height="37.2" fill="#89b6d6"/>
<rect x="235.8" y="1402.6" width="34.1" height="37.2" fill="#7ba9cf"/>
<rect x="269.9" y="1402.6" width="34.1" height="37.2" fill="#8ebbd8"/>
<rect x="304.1" y="1402.6" width="34.1" height="37.2" fill="#89b6d6"/>
<rect x="338.2" y="1402.6" width="34.1" height="37.2" fill="#7ba9cf"/>
<rect x="372.4" y="1402.6" width="34.1" height="37.2" fill="#6e9cc8"/>
<rect x="406.5" y="1402.6" width="34.1" height="37.2" fill="#5280b9"/>
<rect x="440.6" y="1402.6" width="34.1" height="37.2" fill="#5483ba"/>
<rect x="474.8" y="1402.6" width="34.1" height="37.2" fill="#4b7ab6"/>
<rect x="508.9" y="1402.6" width="34.1" height="37.2" fill="#5280b9"/>
<rect x="543.1" y="1402.6" width="34.1" height="37.2" fill="#5483ba"/>
<rect x="577.2" y="1402.6" width="34.1" height="37.2" fill="#f2da8f"/>
<rect x="611.4" y="1402.6" width="34.1" height="37.2" fill="#d7332a"/>
<rect x="645.5" y="1402.6" width="34.1" height="37.2" fill="#6997c5"/>
<rect x="679.7" y="1402.6" width="34.1" height="37.2" fill="#6997c5"/>
<rect x="713.8" y="1402.6" width="34.1" height="37.2" fill="#608ec0"/>
<rect x="748.0" y="1402.6" width="34.1" height="37.2" fill="#4d7cb7"/>
<rect x="782.2" y="1402.6" width="34.1" height="37.2" fill="#507eb8"/>
<rect x="133.3" y="1439.8" width="34.1" height="37.2" fill="#b3d5e6"/>
<rect x="167.5" y="1439.8" width="34.1" height="37.2" fill="#b3d5e6"/>
<rect x="201.6" y="1439.8" width="34.1" height="37.2" fill="#e7f5de"/>
<rect x="235.8" y="1439.8" width="34.1" height="37.2" fill="#eaf6d6"/>
<rect x="269.9" y="1439.8" width="34.1" height="37.2" fill="#eaf6d6"/>
<rect x="304.1" y="1439.8" width="34.1" height="37.2" fill="#b8d8e8"/>
<rect x="338.2" y="1439.8" width="34.1" height="37.2" fill="#e4f4e5"/>
<rect x="372.4" y="1439.8" width="34.1" height="37.2" fill="#8ebbd8"/>
<rect x="406.5" y="1439.8" width="34.1" height="37.2" fill="#85b2d4"/>
<rect x="440.6" y="1439.8" width="34.1" height="37.2" fill="#5280b9"/>
<rect x="474.8" y="1439.8" width="34.1" height="37.2" fill="#608ec0"/>
<rect x="508.9" y="1439.8" width="34.1" height="37.2" fill="#507eb8"/>
<rect x="543.1" y="1439.8" width="34.1" height="37.2" fill="#507eb8"/>
<rect x="577.2" y="1439.8" width="34.1" height="37.2" fill="#4d7cb7"/>
<rect x="611.4" y="1439.8" width="34.1" height="37.2" fill="#6997c5"/>
<rect x="645.5" y="1439.8" width="34.1" height="37.2" fill="#d7332a"/>
<rect x="679.7" y="1439.8" width="34.1" height="37.2" fill="#80aed1"/>
<rect x="713.8" y="1439.8" width="34.1" height="37.2" fill="#5483ba"/>
<rect x="748.0" y="1439.8" width="34.1" height="37.2" fill="#608ec0"/>
<rect x="782.2" y="1439.8" width="34.1" height="37.2" fill="#b8d8e8"/>
<rect x="133.3" y="1477.1" width="34.1" height="37.2" fill="#97c2dc"/>
<rect x="167.5" y="1477.1" width="34.1" height="37.2" fill="#b8d8e8"/>
<rect x="201.6" y="1477.1" width="34.1" height="37.2" fill="#97c2dc"/>
<rect x="235.8" y="1477.1" width="34.1" height="37.2" fill="#dff2f4"/>
<rect x="269.9" y="1477.1" width="34.1" height="37.2" fill="#c5e1ed"/>
<rect x="304.1" y="1477.1" width="34.1" height="37.2" fill="#bcdbea"/>
<rect x="338.2" y="1477.1" width="34.1" height="37.2" fill="#9cc5de"/>
<rect x="372.4" y="1477.1" width="34.1" height="37.2" fill="#85b2d4"/>
<rect x="406.5" y="1477.1" width="34.1" height="37.2" fill="#5483ba"/>
<rect x="440.6" y="1477.1" width="34.1" height="37.2" fill="#5b8abe"/>
<rect x="474.8" y="1477.1" width="34.1" height="37.2" fill="#4b7ab6"/>
<rect x="508.9" y="1477.1" width="34.1" height="37.2" fill="#608ec0"/>
<rect x="543.1" y="1477.1" width="34.1" height="37.2" fill="#5483ba"/>
<rect x="577.2" y="1477.1" width="34.1" height="37.2" fill="#507eb8"/>
<rect x="611.4" y="1477.1" width="34.1" height="37.2" fill="#6997c5"/>
<rect x="645.5" y="1477.1" width="34.1" height="37.2" fill="#80aed1"/>
<rect x="679.7" y="1477.1" width="34.1" height="37.2" fill="#d7332a"/>
<rect x="713.8" y="1477.1" width="34.1" height="37.2" fill="#608ec0"/>
<rect x="748.0" y="1477.1" width="34.1" height="37.2" fill="#608ec0"/>
<rect x="782.2" y="1477.1" width="34.1" height="37.2" fill="#77a4cc"/>
<rect x="133.3" y="1514.3" width="34.1" height="37.2" fill="#b8d8e8"/>
<rect x="167.5" y="1514.3" width="34.1" height="37.2" fill="#608ec0"/>
<rect x="201.6" y="1514.3" width="34.1" height="37.2" fill="#6492c3"/>
<rect x="235.8" y="1514.3" width="34.1" height="37.2" fill="#7ba9cf"/>
<rect x="269.9" y="1514.3" width="34.1" height="37.2" fill="#6997c5"/>
<rect x="304.1" y="1514.3" width="34.1" height="37.2" fill="#8ebbd8"/>
<rect x="338.2" y="1514.3" width="34.1" height="37.2" fill="#72a0ca"/>
<rect x="372.4" y="1514.3" width="34.1" height="37.2" fill="#80aed1"/>
<rect x="406.5" y="1514.3" width="34.1" height="37.2" fill="#5280b9"/>
<rect x="440.6" y="1514.3" width="34.1" height="37.2" fill="#5b8abe"/>
<rect x="474.8" y="1514.3" width="34.1" height="37.2" fill="#4d7cb7"/>
<rect x="508.9" y="1514.3" width="34.1" height="37.2" fill="#6997c5"/>
<rect x="543.1" y="1514.3" width="34.1" height="37.2" fill="#5483ba"/>
<rect x="577.2" y="1514.3" width="34.1" height="37.2" fill="#4b7ab6"/>
<rect x="611.4" y="1514.3" width="34.1" height="37.2" fill="#608ec0"/>
<rect x="645.5" y="1514.3" width="34.1" height="37.2" fill="#5483ba"/>
<rect x="679.7" y="1514.3" width="34.1" height="37.2" fill="#608ec0"/>
<rect x="713.8" y="1514.3" width="34.1" height="37.2" fill="#d7332a"/>
<rect x="748.0" y="1514.3" width="34.1" height="37.2" fill="#c1deeb"/>
<rect x="782.2" y="1514.3" width="34.1" height="37.2" fill="#5483ba"/>
<rect x="133.3" y="1551.5" width="34.1" height="37.2" fill="#608ec0"/>
<rect x="167.5" y="1551.5" width="34.1" height="37.2" fill="#4b7ab6"/>
<rect x="201.6" y="1551.5" width="34.1" height="37.2" fill="#5280b9"/>
<rect x="235.8" y="1551.5" width="34.1" height="37.2" fill="#5b8abe"/>
<rect x="269.9" y="1551.5" width="34.1" height="37.2" fill="#4d7cb7"/>
<rect x="304.1" y="1551.5" width="34.1" height="37.2" fill="#4b7ab6"/>
<rect x="338.2" y="1551.5" width="34.1" height="37.2" fill="#5685bc"/>
<rect x="372.4" y="1551.5" width="34.1" height="37.2" fill="#5685bc"/>
<rect x="406.5" y="1551.5" width="34.1" height="37.2" fill="#5280b9"/>
<rect x="440.6" y="1551.5" width="34.1" height="37.2" fill="#4d7cb7"/>
<rect x="474.8" y="1551.5" width="34.1" height="37.2" fill="#5280b9"/>
<rect x="508.9" y="1551.5" width="34.1" height="37.2" fill="#5280b9"/>
<rect x="543.1" y="1551.5" width="34.1" height="37.2" fill="#5280b9"/>
<rect x="577.2" y="1551.5" width="34.1" height="37.2" fill="#507eb8"/>
<rect x="611.4" y="1551.5" width="34.1" height="37.2" fill="#4d7cb7"/>
<rect x="645.5" y="1551.5" width="34.1" height="37.2" fill="#608ec0"/>
<rect x="679.7" y="1551.5" width="34.1" height="37.2" fill="#608ec0"/>
<rect x="713.8" y="1551.5" width="34.1" height="37.2" fill="#c1deeb"/>
<rect x="748.0" y="1551.5" width="34.1" height="37.2" fill="#d7332a"/>
<rect x="782.2" y="1551.5" width="34.1" height="37.2" fill="#e6f5e1"/>
<rect x="133.3" y="1588.7" width="34.1" height="37.2" fill="#5685bc"/>
<rect x="167.5" y="1588.7" width="34.1" height="37.2" fill="#6e9cc8"/>
<rect x="201.6" y="1588.7" width="34.1" height="37.2" fill="#6492c3"/>
<rect x="235.8" y="1588.7" width="34.1" height="37.2" fill="#77a4cc"/>
<rect x="269.9" y="1588.7" width="34.1" height="37.2" fill="#608ec0"/>
<rect x="304.1" y="1588.7" width="34.1" height="37.2" fill="#5685bc"/>
<rect x="338.2" y="1588.7" width="34.1" height="37.2" fill="#77a4cc"/>
<rect x="372.4" y="1588.7" width="34.1" height="37.2" fill="#6492c3"/>
<rect x="406.5" y="1588.7" width="34.1" height="37.2" fill="#5b8abe"/>
<rect x="440.6" y="1588.7" width="34.1" height="37.2" fill="#5b8abe"/>
<rect x="474.8" y="1588.7" width="34.1" height="37.2" fill="#4d7cb7"/>
<rect x="508.9" y="1588.7" width="34.1" height="37.2" fill="#5483ba"/>
<rect x="543.1" y="1588.7" width="34.1" height="37.2" fill="#5483ba"/>
<rect x="577.2" y="1588.7" width="34.1" height="37.2" fill="#5483ba"/>
<rect x="611.4" y="1588.7" width="34.1" height="37.2" fill="#507eb8"/>
<rect x="645.5" y="1588.7" width="34.1" height="37.2" fill="#b8d8e8"/>
<rect x="679.7" y="1588.7" width="34.1" height="37.2" fill="#77a4cc"/>
<rect x="713.8" y="1588.7" width="34.1" height="37.2" fill="#5483ba"/>
<rect x="748.0" y="1588.7" width="34.1" height="37.2" fill="#e6f5e1"/>
<rect x="782.2" y="1588.7" width="34.1" height="37.2" fill="#d7332a"/>
</g>
<g font-size="15.6" text-anchor="middle" style="fill:#4d4d4d">
<text x="184.5" y="904.9" style="fill:#4d4d4d;stroke:#4d4d4d;stroke-width:0.12px">****</text>
<text x="218.7" y="904.9" style="fill:#4d4d4d;stroke:#4d4d4d;stroke-width:0.12px">****</text>
<text x="252.8" y="904.9" style="fill:#4d4d4d;stroke:#4d4d4d;stroke-width:0.12px">****</text>
<text x="287.0" y="904.9" style="fill:#4d4d4d;stroke:#4d4d4d;stroke-width:0.12px">****</text>
<text x="321.1" y="904.9" style="fill:#4d4d4d;stroke:#4d4d4d;stroke-width:0.12px">****</text>
<text x="355.3" y="904.9" style="fill:#4d4d4d;stroke:#4d4d4d;stroke-width:0.12px">****</text>
<text x="389.4" y="904.9" style="fill:#4d4d4d;stroke:#4d4d4d;stroke-width:0.12px">***</text>
<text x="628.5" y="904.9" style="fill:#4d4d4d;stroke:#4d4d4d;stroke-width:0.12px">*</text>
<text x="662.6" y="904.9" style="fill:#4d4d4d;stroke:#4d4d4d;stroke-width:0.12px">**</text>
<text x="696.8" y="904.9" style="fill:#4d4d4d;stroke:#4d4d4d;stroke-width:0.12px">**</text>
<text x="730.9" y="904.9" style="fill:#4d4d4d;stroke:#4d4d4d;stroke-width:0.12px">**</text>
<text x="150.4" y="942.1" style="fill:#4d4d4d;stroke:#4d4d4d;stroke-width:0.12px">****</text>
<text x="218.7" y="942.1" style="fill:#4d4d4d;stroke:#4d4d4d;stroke-width:0.12px">****</text>
<text x="252.8" y="942.1" style="fill:#4d4d4d;stroke:#4d4d4d;stroke-width:0.12px">****</text>
<text x="287.0" y="942.1" style="fill:#4d4d4d;stroke:#4d4d4d;stroke-width:0.12px">****</text>
<text x="321.1" y="942.1" style="fill:#4d4d4d;stroke:#4d4d4d;stroke-width:0.12px">****</text>
<text x="355.3" y="942.1" style="fill:#4d4d4d;stroke:#4d4d4d;stroke-width:0.12px">****</text>
<text x="389.4" y="942.1" style="fill:#4d4d4d;stroke:#4d4d4d;stroke-width:0.12px">***</text>
<text x="628.5" y="942.1" style="fill:#4d4d4d;stroke:#4d4d4d;stroke-width:0.12px">**</text>
<text x="662.6" y="942.1" style="fill:#4d4d4d;stroke:#4d4d4d;stroke-width:0.12px">**</text>
<text x="696.8" y="942.1" style="fill:#4d4d4d;stroke:#4d4d4d;stroke-width:0.12px">**</text>
<text x="150.4" y="979.3" style="fill:#4d4d4d;stroke:#4d4d4d;stroke-width:0.12px">****</text>
<text x="184.5" y="979.3" style="fill:#4d4d4d;stroke:#4d4d4d;stroke-width:0.12px">****</text>
<text x="252.8" y="979.3" style="fill:#4d4d4d;stroke:#4d4d4d;stroke-width:0.12px">****</text>
<text x="287.0" y="979.3" style="fill:#4d4d4d;stroke:#4d4d4d;stroke-width:0.12px">****</text>
<text x="321.1" y="979.3" style="fill:#4d4d4d;stroke:#4d4d4d;stroke-width:0.12px">****</text>
<text x="355.3" y="979.3" style="fill:#4d4d4d;stroke:#4d4d4d;stroke-width:0.12px">****</text>
<text x="389.4" y="979.3" style="fill:#4d4d4d;stroke:#4d4d4d;stroke-width:0.12px">****</text>
<text x="628.5" y="979.3" style="fill:#4d4d4d;stroke:#4d4d4d;stroke-width:0.12px">*</text>
<text x="662.6" y="979.3" style="fill:#4d4d4d;stroke:#4d4d4d;stroke-width:0.12px">****</text>
<text x="696.8" y="979.3" style="fill:#4d4d4d;stroke:#4d4d4d;stroke-width:0.12px">**</text>
<text x="150.4" y="1016.5" style="fill:#4d4d4d;stroke:#4d4d4d;stroke-width:0.12px">****</text>
<text x="184.5" y="1016.5" style="fill:#4d4d4d;stroke:#4d4d4d;stroke-width:0.12px">****</text>
<text x="218.7" y="1016.5" style="fill:#4d4d4d;stroke:#4d4d4d;stroke-width:0.12px">****</text>
<text x="287.0" y="1016.5" style="fill:#4d4d4d;stroke:#4d4d4d;stroke-width:0.12px">****</text>
<text x="321.1" y="1016.5" style="fill:#4d4d4d;stroke:#4d4d4d;stroke-width:0.12px">****</text>
<text x="355.3" y="1016.5" style="fill:#4d4d4d;stroke:#4d4d4d;stroke-width:0.12px">****</text>
<text x="389.4" y="1016.5" style="fill:#4d4d4d;stroke:#4d4d4d;stroke-width:0.12px">****</text>
<text x="628.5" y="1016.5" style="fill:#4d4d4d;stroke:#4d4d4d;stroke-width:0.12px">*</text>
<text x="662.6" y="1016.5" style="fill:#4d4d4d;stroke:#4d4d4d;stroke-width:0.12px">****</text>
<text x="696.8" y="1016.5" style="fill:#4d4d4d;stroke:#4d4d4d;stroke-width:0.12px">***</text>
<text x="730.9" y="1016.5" style="fill:#4d4d4d;stroke:#4d4d4d;stroke-width:0.12px">*</text>
<text x="150.4" y="1053.7" style="fill:#4d4d4d;stroke:#4d4d4d;stroke-width:0.12px">****</text>
<text x="184.5" y="1053.7" style="fill:#4d4d4d;stroke:#4d4d4d;stroke-width:0.12px">****</text>
<text x="218.7" y="1053.7" style="fill:#4d4d4d;stroke:#4d4d4d;stroke-width:0.12px">****</text>
<text x="252.8" y="1053.7" style="fill:#4d4d4d;stroke:#4d4d4d;stroke-width:0.12px">****</text>
<text x="321.1" y="1053.7" style="fill:#4d4d4d;stroke:#4d4d4d;stroke-width:0.12px">****</text>
<text x="355.3" y="1053.7" style="fill:#4d4d4d;stroke:#4d4d4d;stroke-width:0.12px">****</text>
<text x="389.4" y="1053.7" style="fill:#4d4d4d;stroke:#4d4d4d;stroke-width:0.12px">****</text>
<text x="628.5" y="1053.7" style="fill:#4d4d4d;stroke:#4d4d4d;stroke-width:0.12px">*</text>
<text x="662.6" y="1053.7" style="fill:#4d4d4d;stroke:#4d4d4d;stroke-width:0.12px">****</text>
<text x="696.8" y="1053.7" style="fill:#4d4d4d;stroke:#4d4d4d;stroke-width:0.12px">***</text>
<text x="150.4" y="1091.0" style="fill:#4d4d4d;stroke:#4d4d4d;stroke-width:0.12px">****</text>
<text x="184.5" y="1091.0" style="fill:#4d4d4d;stroke:#4d4d4d;stroke-width:0.12px">****</text>
<text x="218.7" y="1091.0" style="fill:#4d4d4d;stroke:#4d4d4d;stroke-width:0.12px">****</text>
<text x="252.8" y="1091.0" style="fill:#4d4d4d;stroke:#4d4d4d;stroke-width:0.12px">****</text>
<text x="287.0" y="1091.0" style="fill:#4d4d4d;stroke:#4d4d4d;stroke-width:0.12px">****</text>
<text x="355.3" y="1091.0" style="fill:#4d4d4d;stroke:#4d4d4d;stroke-width:0.12px">****</text>
<text x="389.4" y="1091.0" style="fill:#4d4d4d;stroke:#4d4d4d;stroke-width:0.12px">****</text>
<text x="628.5" y="1091.0" style="fill:#4d4d4d;stroke:#4d4d4d;stroke-width:0.12px">*</text>
<text x="662.6" y="1091.0" style="fill:#4d4d4d;stroke:#4d4d4d;stroke-width:0.12px">**</text>
<text x="696.8" y="1091.0" style="fill:#4d4d4d;stroke:#4d4d4d;stroke-width:0.12px">**</text>
<text x="730.9" y="1091.0" style="fill:#4d4d4d;stroke:#4d4d4d;stroke-width:0.12px">*</text>
<text x="150.4" y="1128.2" style="fill:#4d4d4d;stroke:#4d4d4d;stroke-width:0.12px">****</text>
<text x="184.5" y="1128.2" style="fill:#4d4d4d;stroke:#4d4d4d;stroke-width:0.12px">****</text>
<text x="218.7" y="1128.2" style="fill:#4d4d4d;stroke:#4d4d4d;stroke-width:0.12px">****</text>
<text x="252.8" y="1128.2" style="fill:#4d4d4d;stroke:#4d4d4d;stroke-width:0.12px">****</text>
<text x="287.0" y="1128.2" style="fill:#4d4d4d;stroke:#4d4d4d;stroke-width:0.12px">****</text>
<text x="321.1" y="1128.2" style="fill:#4d4d4d;stroke:#4d4d4d;stroke-width:0.12px">****</text>
<text x="389.4" y="1128.2" style="fill:#4d4d4d;stroke:#4d4d4d;stroke-width:0.12px">****</text>
<text x="457.7" y="1128.2" style="fill:#4d4d4d;stroke:#4d4d4d;stroke-width:0.12px">****</text>
<text x="491.9" y="1128.2" style="fill:#4d4d4d;stroke:#4d4d4d;stroke-width:0.12px">***</text>
<text x="526.0" y="1128.2" style="fill:#4d4d4d;stroke:#4d4d4d;stroke-width:0.12px">**</text>
<text x="560.2" y="1128.2" style="fill:#4d4d4d;stroke:#4d4d4d;stroke-width:0.12px">**</text>
<text x="628.5" y="1128.2" style="fill:#4d4d4d;stroke:#4d4d4d;stroke-width:0.12px">*</text>
<text x="662.6" y="1128.2" style="fill:#4d4d4d;stroke:#4d4d4d;stroke-width:0.12px">****</text>
<text x="696.8" y="1128.2" style="fill:#4d4d4d;stroke:#4d4d4d;stroke-width:0.12px">**</text>
<text x="150.4" y="1165.4" style="fill:#4d4d4d;stroke:#4d4d4d;stroke-width:0.12px">***</text>
<text x="184.5" y="1165.4" style="fill:#4d4d4d;stroke:#4d4d4d;stroke-width:0.12px">***</text>
<text x="218.7" y="1165.4" style="fill:#4d4d4d;stroke:#4d4d4d;stroke-width:0.12px">****</text>
<text x="252.8" y="1165.4" style="fill:#4d4d4d;stroke:#4d4d4d;stroke-width:0.12px">****</text>
<text x="287.0" y="1165.4" style="fill:#4d4d4d;stroke:#4d4d4d;stroke-width:0.12px">****</text>
<text x="321.1" y="1165.4" style="fill:#4d4d4d;stroke:#4d4d4d;stroke-width:0.12px">****</text>
<text x="355.3" y="1165.4" style="fill:#4d4d4d;stroke:#4d4d4d;stroke-width:0.12px">****</text>
<text x="423.6" y="1165.4" style="fill:#4d4d4d;stroke:#4d4d4d;stroke-width:0.12px">*</text>
<text x="457.7" y="1165.4" style="fill:#4d4d4d;stroke:#4d4d4d;stroke-width:0.12px">****</text>
<text x="491.9" y="1165.4" style="fill:#4d4d4d;stroke:#4d4d4d;stroke-width:0.12px">****</text>
<text x="526.0" y="1165.4" style="fill:#4d4d4d;stroke:#4d4d4d;stroke-width:0.12px">****</text>
<text x="560.2" y="1165.4" style="fill:#4d4d4d;stroke:#4d4d4d;stroke-width:0.12px">****</text>
<text x="662.6" y="1165.4" style="fill:#4d4d4d;stroke:#4d4d4d;stroke-width:0.12px">*</text>
<text x="696.8" y="1165.4" style="fill:#4d4d4d;stroke:#4d4d4d;stroke-width:0.12px">*</text>
<text x="730.9" y="1165.4" style="fill:#4d4d4d;stroke:#4d4d4d;stroke-width:0.12px">*</text>
<text x="389.4" y="1202.6" style="fill:#4d4d4d;stroke:#4d4d4d;stroke-width:0.12px">*</text>
<text x="457.7" y="1202.6" style="fill:#4d4d4d;stroke:#4d4d4d;stroke-width:0.12px">***</text>
<text x="491.9" y="1202.6" style="fill:#4d4d4d;stroke:#4d4d4d;stroke-width:0.12px">***</text>
<text x="526.0" y="1202.6" style="fill:#4d4d4d;stroke:#4d4d4d;stroke-width:0.12px">**</text>
<text x="560.2" y="1202.6" style="fill:#4d4d4d;stroke:#4d4d4d;stroke-width:0.12px">**</text>
<text x="662.6" y="1202.6" style="fill:#4d4d4d;stroke:#4d4d4d;stroke-width:0.12px">*</text>
<text x="355.3" y="1239.8" style="fill:#4d4d4d;stroke:#4d4d4d;stroke-width:0.12px">****</text>
<text x="389.4" y="1239.8" style="fill:#4d4d4d;stroke:#4d4d4d;stroke-width:0.12px">****</text>
<text x="423.6" y="1239.8" style="fill:#4d4d4d;stroke:#4d4d4d;stroke-width:0.12px">***</text>
<text x="491.9" y="1239.8" style="fill:#4d4d4d;stroke:#4d4d4d;stroke-width:0.12px">****</text>
<text x="526.0" y="1239.8" style="fill:#4d4d4d;stroke:#4d4d4d;stroke-width:0.12px">****</text>
<text x="560.2" y="1239.8" style="fill:#4d4d4d;stroke:#4d4d4d;stroke-width:0.12px">****</text>
<text x="355.3" y="1277.0" style="fill:#4d4d4d;stroke:#4d4d4d;stroke-width:0.12px">***</text>
<text x="389.4" y="1277.0" style="fill:#4d4d4d;stroke:#4d4d4d;stroke-width:0.12px">****</text>
<text x="423.6" y="1277.0" style="fill:#4d4d4d;stroke:#4d4d4d;stroke-width:0.12px">***</text>
<text x="457.7" y="1277.0" style="fill:#4d4d4d;stroke:#4d4d4d;stroke-width:0.12px">****</text>
<text x="526.0" y="1277.0" style="fill:#4d4d4d;stroke:#4d4d4d;stroke-width:0.12px">****</text>
<text x="560.2" y="1277.0" style="fill:#4d4d4d;stroke:#4d4d4d;stroke-width:0.12px">****</text>
<text x="355.3" y="1314.2" style="fill:#4d4d4d;stroke:#4d4d4d;stroke-width:0.12px">**</text>
<text x="389.4" y="1314.2" style="fill:#4d4d4d;stroke:#4d4d4d;stroke-width:0.12px">****</text>
<text x="423.6" y="1314.2" style="fill:#4d4d4d;stroke:#4d4d4d;stroke-width:0.12px">**</text>
<text x="457.7" y="1314.2" style="fill:#4d4d4d;stroke:#4d4d4d;stroke-width:0.12px">****</text>
<text x="491.9" y="1314.2" style="fill:#4d4d4d;stroke:#4d4d4d;stroke-width:0.12px">****</text>
<text x="560.2" y="1314.2" style="fill:#4d4d4d;stroke:#4d4d4d;stroke-width:0.12px">****</text>
<text x="355.3" y="1351.4" style="fill:#4d4d4d;stroke:#4d4d4d;stroke-width:0.12px">**</text>
<text x="389.4" y="1351.4" style="fill:#4d4d4d;stroke:#4d4d4d;stroke-width:0.12px">****</text>
<text x="423.6" y="1351.4" style="fill:#4d4d4d;stroke:#4d4d4d;stroke-width:0.12px">**</text>
<text x="457.7" y="1351.4" style="fill:#4d4d4d;stroke:#4d4d4d;stroke-width:0.12px">****</text>
<text x="491.9" y="1351.4" style="fill:#4d4d4d;stroke:#4d4d4d;stroke-width:0.12px">****</text>
<text x="526.0" y="1351.4" style="fill:#4d4d4d;stroke:#4d4d4d;stroke-width:0.12px">****</text>
<text x="628.5" y="1388.6" style="fill:#4d4d4d;stroke:#4d4d4d;stroke-width:0.12px">****</text>
<text x="150.4" y="1425.8" style="fill:#4d4d4d;stroke:#4d4d4d;stroke-width:0.12px">*</text>
<text x="184.5" y="1425.8" style="fill:#4d4d4d;stroke:#4d4d4d;stroke-width:0.12px">**</text>
<text x="218.7" y="1425.8" style="fill:#4d4d4d;stroke:#4d4d4d;stroke-width:0.12px">*</text>
<text x="252.8" y="1425.8" style="fill:#4d4d4d;stroke:#4d4d4d;stroke-width:0.12px">*</text>
<text x="287.0" y="1425.8" style="fill:#4d4d4d;stroke:#4d4d4d;stroke-width:0.12px">*</text>
<text x="321.1" y="1425.8" style="fill:#4d4d4d;stroke:#4d4d4d;stroke-width:0.12px">*</text>
<text x="355.3" y="1425.8" style="fill:#4d4d4d;stroke:#4d4d4d;stroke-width:0.12px">*</text>
<text x="594.3" y="1425.8" style="fill:#4d4d4d;stroke:#4d4d4d;stroke-width:0.12px">****</text>
<text x="150.4" y="1463.1" style="fill:#4d4d4d;stroke:#4d4d4d;stroke-width:0.12px">**</text>
<text x="184.5" y="1463.1" style="fill:#4d4d4d;stroke:#4d4d4d;stroke-width:0.12px">**</text>
<text x="218.7" y="1463.1" style="fill:#4d4d4d;stroke:#4d4d4d;stroke-width:0.12px">****</text>
<text x="252.8" y="1463.1" style="fill:#4d4d4d;stroke:#4d4d4d;stroke-width:0.12px">****</text>
<text x="287.0" y="1463.1" style="fill:#4d4d4d;stroke:#4d4d4d;stroke-width:0.12px">****</text>
<text x="321.1" y="1463.1" style="fill:#4d4d4d;stroke:#4d4d4d;stroke-width:0.12px">**</text>
<text x="355.3" y="1463.1" style="fill:#4d4d4d;stroke:#4d4d4d;stroke-width:0.12px">****</text>
<text x="389.4" y="1463.1" style="fill:#4d4d4d;stroke:#4d4d4d;stroke-width:0.12px">*</text>
<text x="423.6" y="1463.1" style="fill:#4d4d4d;stroke:#4d4d4d;stroke-width:0.12px">*</text>
<text x="696.8" y="1463.1" style="fill:#4d4d4d;stroke:#4d4d4d;stroke-width:0.12px">*</text>
<text x="799.2" y="1463.1" style="fill:#4d4d4d;stroke:#4d4d4d;stroke-width:0.12px">**</text>
<text x="150.4" y="1500.3" style="fill:#4d4d4d;stroke:#4d4d4d;stroke-width:0.12px">**</text>
<text x="184.5" y="1500.3" style="fill:#4d4d4d;stroke:#4d4d4d;stroke-width:0.12px">**</text>
<text x="218.7" y="1500.3" style="fill:#4d4d4d;stroke:#4d4d4d;stroke-width:0.12px">**</text>
<text x="252.8" y="1500.3" style="fill:#4d4d4d;stroke:#4d4d4d;stroke-width:0.12px">***</text>
<text x="287.0" y="1500.3" style="fill:#4d4d4d;stroke:#4d4d4d;stroke-width:0.12px">***</text>
<text x="321.1" y="1500.3" style="fill:#4d4d4d;stroke:#4d4d4d;stroke-width:0.12px">**</text>
<text x="355.3" y="1500.3" style="fill:#4d4d4d;stroke:#4d4d4d;stroke-width:0.12px">**</text>
<text x="389.4" y="1500.3" style="fill:#4d4d4d;stroke:#4d4d4d;stroke-width:0.12px">*</text>
<text x="662.6" y="1500.3" style="fill:#4d4d4d;stroke:#4d4d4d;stroke-width:0.12px">*</text>
<text x="150.4" y="1537.5" style="fill:#4d4d4d;stroke:#4d4d4d;stroke-width:0.12px">**</text>
<text x="252.8" y="1537.5" style="fill:#4d4d4d;stroke:#4d4d4d;stroke-width:0.12px">*</text>
<text x="321.1" y="1537.5" style="fill:#4d4d4d;stroke:#4d4d4d;stroke-width:0.12px">*</text>
<text x="389.4" y="1537.5" style="fill:#4d4d4d;stroke:#4d4d4d;stroke-width:0.12px">*</text>
<text x="765.1" y="1537.5" style="fill:#4d4d4d;stroke:#4d4d4d;stroke-width:0.12px">***</text>
<text x="730.9" y="1574.7" style="fill:#4d4d4d;stroke:#4d4d4d;stroke-width:0.12px">***</text>
<text x="799.2" y="1574.7" style="fill:#4d4d4d;stroke:#4d4d4d;stroke-width:0.12px">****</text>
<text x="662.6" y="1611.9" style="fill:#4d4d4d;stroke:#4d4d4d;stroke-width:0.12px">**</text>
<text x="765.1" y="1611.9" style="fill:#4d4d4d;stroke:#4d4d4d;stroke-width:0.12px">****</text>
</g>
<path d="M132.70000000000002 882.4 H816.9" stroke="#000" stroke-width="4.3" stroke-dasharray="25.8 4.36" fill="none"/>
<path d="M132.70000000000002 1105.3 H816.9" stroke="#000" stroke-width="4.3" stroke-dasharray="25.8 4.36" fill="none"/>
<path d="M132.70000000000002 1179.7 H816.9" stroke="#000" stroke-width="4.3" stroke-dasharray="25.8 4.36" fill="none"/>
<path d="M132.70000000000002 1365.7 H816.9" stroke="#000" stroke-width="4.3" stroke-dasharray="25.8 4.36" fill="none"/>
<path d="M132.70000000000002 1626.6 H816.9" stroke="#000" stroke-width="4.3" stroke-dasharray="25.8 4.36" fill="none"/>
<g font-size="20.5">
<text x="821.5" y="907.3">Ku</text>
<text x="821.5" y="944.5">CENP.A</text>
<text x="821.5" y="981.7">RNP.SM</text>
<text x="821.5" y="1018.9">PL.12</text>
<text x="821.5" y="1056.1">PCNA</text>
<text x="821.5" y="1093.4">Scl.70</text>
<text x="821.5" y="1130.6">Sm</text>
<text x="821.5" y="1167.8">PM.Scl.100</text>
<text x="821.5" y="1205.0">b2.glycoprotein</text>
<text x="821.5" y="1242.2">Ribosomal.P</text>
<text x="821.5" y="1279.4">SSA.Ro52</text>
<text x="821.5" y="1316.6">RNP</text>
<text x="821.5" y="1353.8">Jo.1</text>
<text x="821.5" y="1391.0">SSA.Ro60</text>
<text x="821.5" y="1428.2">Myeloperoxidase</text>
<text x="821.5" y="1465.5">SSB.La</text>
<text x="821.5" y="1502.7">Mi.2</text>
<text x="821.5" y="1539.9">Proteinase.3</text>
<text x="821.5" y="1577.1">CENP.B</text>
<text x="821.5" y="1614.3">C1q</text>
<text transform="translate(142.9,1630.6) rotate(90)">Ku</text>
<text transform="translate(177.0,1630.6) rotate(90)">CENP.A</text>
<text transform="translate(211.2,1630.6) rotate(90)">RNP.SM</text>
<text transform="translate(245.3,1630.6) rotate(90)">PL.12</text>
<text transform="translate(279.5,1630.6) rotate(90)">PCNA</text>
<text transform="translate(313.6,1630.6) rotate(90)">Scl.70</text>
<text transform="translate(347.8,1630.6) rotate(90)">Sm</text>
<text transform="translate(381.9,1630.6) rotate(90)">PM.Scl.100</text>
<text transform="translate(416.1,1630.6) rotate(90)">b2.glycoprotein</text>
<text transform="translate(450.2,1630.6) rotate(90)">Ribosomal.P</text>
<text transform="translate(484.4,1630.6) rotate(90)">SSA.Ro52</text>
<text transform="translate(518.5,1630.6) rotate(90)">RNP</text>
<text transform="translate(552.7,1630.6) rotate(90)">Jo.1</text>
<text transform="translate(586.8,1630.6) rotate(90)">SSA.Ro60</text>
<text transform="translate(621.0,1630.6) rotate(90)">Myeloperoxidase</text>
<text transform="translate(655.1,1630.6) rotate(90)">SSB.La</text>
<text transform="translate(689.3,1630.6) rotate(90)">Mi.2</text>
<text transform="translate(723.4,1630.6) rotate(90)">Proteinase.3</text>
<text transform="translate(757.6,1630.6) rotate(90)">CENP.B</text>
<text transform="translate(791.7,1630.6) rotate(90)">C1q</text>
</g>
<path d="M287.0 881.0 V873.1 H321.1 V881.0 M252.8 881.0 V870.3 H304.1 V873.1 M218.7 881.0 V865.2 H278.4 V870.3 M184.5 881.0 V861.0 H248.6 V865.2 M150.4 881.0 V853.8 H216.5 V861.0 M355.3 881.0 V844.5 H389.4 V881.0 M183.5 853.8 V818.6 H372.4 V844.5 M526.0 881.0 V875.5 H560.2 V881.0 M491.9 881.0 V871.0 H543.1 V875.5 M457.7 881.0 V845.2 H517.5 V871.0 M423.6 881.0 V824.8 H487.6 V845.2 M594.3 881.0 V860.0 H628.5 V881.0 M662.6 881.0 V833.1 H696.8 V881.0 M765.1 881.0 V846.2 H799.2 V881.0 M730.9 881.0 V826.6 H782.2 V846.2 M679.7 833.1 V819.7 H756.5 V826.6 M611.4 860.0 V813.4 H718.1 V819.7 M455.6 824.8 V798.6 H664.8 V813.4 M277.9 818.6 V774.5 H560.2 V798.6" fill="none" stroke="#000" stroke-width="1.3"/>
<path d="M133.0 1049.1 H125.1 V1086.4 H133.0 M133.0 1011.9 H122.3 V1067.8 H125.1 M133.0 974.7 H117.2 V1039.8 H122.3 M133.0 937.5 H113.0 V1007.3 H117.2 M133.0 900.3 H105.8 V972.4 H113.0 M133.0 1123.6 H96.5 V1160.8 H133.0 M105.8 936.4 H70.6 V1142.2 H96.5 M133.0 1309.6 H127.5 V1346.8 H133.0 M133.0 1272.4 H123.0 V1328.2 H127.5 M133.0 1235.2 H97.2 V1300.3 H123.0 M133.0 1198.0 H76.8 V1267.8 H97.2 M133.0 1384.0 H112.0 V1421.2 H133.0 M133.0 1458.5 H85.1 V1495.7 H133.0 M133.0 1570.1 H98.2 V1607.3 H133.0 M133.0 1532.9 H78.6 V1588.7 H98.2 M85.1 1477.1 H71.7 V1560.8 H78.6 M112.0 1402.6 H65.4 V1518.9 H71.7 M76.8 1232.9 H50.6 V1460.8 H65.4 M70.6 1039.3 H26.5 V1346.8 H50.6" fill="none" stroke="#000" stroke-width="1.3"/>
<defs><linearGradient id="lg-c" x1="0" y1="1" x2="0" y2="0">
<stop offset="0.0000" stop-color="#4473B2"/>
<stop offset="0.1667" stop-color="#91BEDA"/>
<stop offset="0.3333" stop-color="#DEF2F6"/>
<stop offset="0.5000" stop-color="#F5FAB9"/>
<stop offset="0.6667" stop-color="#F2D98D"/>
<stop offset="0.8333" stop-color="#EE8858"/>
<stop offset="1.0000" stop-color="#D7332A"/>
</linearGradient></defs>
<rect x="937" y="811.7" width="20.6" height="307" fill="url(#lg-c)"/>
<path d="M937 814.77 H957.6 M937 817.84 H957.6 M937 820.91 H957.6 M937 823.98 H957.6 M937 827.05 H957.6 M937 830.12 H957.6 M937 833.19 H957.6 M937 836.26 H957.6 M937 839.33 H957.6 M937 842.40 H957.6 M937 845.47 H957.6 M937 848.54 H957.6 M937 851.61 H957.6 M937 854.68 H957.6 M937 857.75 H957.6 M937 860.82 H957.6 M937 863.89 H957.6 M937 866.96 H957.6 M937 870.03 H957.6 M937 873.10 H957.6 M937 876.17 H957.6 M937 879.24 H957.6 M937 882.31 H957.6 M937 885.38 H957.6 M937 888.45 H957.6 M937 891.52 H957.6 M937 894.59 H957.6 M937 897.66 H957.6 M937 900.73 H957.6 M937 903.80 H957.6 M937 906.87 H957.6 M937 909.94 H957.6 M937 913.01 H957.6 M937 916.08 H957.6 M937 919.15 H957.6 M937 922.22 H957.6 M937 925.29 H957.6 M937 928.36 H957.6 M937 931.43 H957.6 M937 934.50 H957.6 M937 937.57 H957.6 M937 940.64 H957.6 M937 943.71 H957.6 M937 946.78 H957.6 M937 949.85 H957.6 M937 952.92 H957.6 M937 955.99 H957.6 M937 959.06 H957.6 M937 962.13 H957.6 M937 965.20 H957.6 M937 968.27 H957.6 M937 971.34 H957.6 M937 974.41 H957.6 M937 977.48 H957.6 M937 980.55 H957.6 M937 983.62 H957.6 M937 986.69 H957.6 M937 989.76 H957.6 M937 992.83 H957.6 M937 995.90 H957.6 M937 998.97 H957.6 M937 1002.04 H957.6 M937 1005.11 H957.6 M937 1008.18 H957.6 M937 1011.25 H957.6 M937 1014.32 H957.6 M937 1017.39 H957.6 M937 1020.46 H957.6 M937 1023.53 H957.6 M937 1026.60 H957.6 M937 1029.67 H957.6 M937 1032.74 H957.6 M937 1035.81 H957.6 M937 1038.88 H957.6 M937 1041.95 H957.6 M937 1045.02 H957.6 M937 1048.09 H957.6 M937 1051.16 H957.6 M937 1054.23 H957.6 M937 1057.30 H957.6 M937 1060.37 H957.6 M937 1063.44 H957.6 M937 1066.51 H957.6 M937 1069.58 H957.6 M937 1072.65 H957.6 M937 1075.72 H957.6 M937 1078.79 H957.6 M937 1081.86 H957.6 M937 1084.93 H957.6 M937 1088.00 H957.6 M937 1091.07 H957.6 M937 1094.14 H957.6 M937 1097.21 H957.6 M937 1100.28 H957.6 M937 1103.35 H957.6 M937 1106.42 H957.6 M937 1109.49 H957.6 M937 1112.56 H957.6 M937 1115.63 H957.6" stroke="#fff" stroke-opacity="0.28" stroke-width="0.8" fill="none"/>
<text x="965.5" y="819.0" font-size="20.5">1</text>
<text x="965.5" y="880.4" font-size="20.5">0.8</text>
<text x="965.5" y="941.8" font-size="20.5">0.6</text>
<text x="965.5" y="1003.2" font-size="20.5">0.4</text>
<text x="965.5" y="1064.6" font-size="20.5">0.2</text>
</g>
<!-- panel_d -->
<g id="panel-d">
<text class="b" x="1154" y="882" font-size="66">d</text>
<circle cx="1866.3" cy="930.3" r="3.7" fill="#6f94d2"/>
<circle cx="1362.4" cy="1044.4" r="3.7" fill="#6f94d2"/>
<circle cx="1309.5" cy="1075.2" r="3.7" fill="#e8696b"/>
<circle cx="1317.8" cy="1073.3" r="3.7" fill="#3fc83f"/>
<circle cx="1351.4" cy="1080.2" r="3.7" fill="#e8696b"/>
<circle cx="1317.8" cy="1095.9" r="3.7" fill="#e8696b"/>
<circle cx="1322.9" cy="1094.0" r="3.7" fill="#3fc83f"/>
<circle cx="1328.4" cy="1099.1" r="3.7" fill="#3fc83f"/>
<circle cx="1325.6" cy="1102.3" r="3.7" fill="#3fc83f"/>
<circle cx="1350.9" cy="1093.1" r="3.7" fill="#3fc83f"/>
<circle cx="1363.3" cy="1102.8" r="3.7" fill="#3fc83f"/>
<circle cx="1360.6" cy="1111.5" r="3.7" fill="#3fc83f"/>
<circle cx="1363.3" cy="1117.5" r="3.7" fill="#3fc83f"/>
<circle cx="1337.6" cy="1105.5" r="3.7" fill="#3fc83f"/>
<circle cx="1318.7" cy="1082.1" r="3.7" fill="#6f94d2"/>
<circle cx="1323.3" cy="1083.0" r="3.7" fill="#6f94d2"/>
<circle cx="1326.6" cy="1087.6" r="3.7" fill="#6f94d2"/>
<circle cx="1332.5" cy="1086.7" r="3.7" fill="#6f94d2"/>
<circle cx="1337.6" cy="1085.7" r="3.7" fill="#6f94d2"/>
<circle cx="1346.3" cy="1089.0" r="3.7" fill="#6f94d2"/>
<circle cx="1349.1" cy="1090.3" r="3.7" fill="#6f94d2"/>
<circle cx="1353.2" cy="1083.0" r="3.7" fill="#6f94d2"/>
<circle cx="1326.6" cy="1094.5" r="3.7" fill="#6f94d2"/>
<circle cx="1346.3" cy="1097.7" r="3.7" fill="#6f94d2"/>
<circle cx="1334.4" cy="1105.5" r="3.7" fill="#6f94d2"/>
<circle cx="1339.0" cy="1119.8" r="3.7" fill="#6f94d2"/>
<circle cx="1343.1" cy="1121.1" r="3.7" fill="#6f94d2"/>
<circle cx="1334.4" cy="1133.6" r="3.7" fill="#6f94d2"/>
<circle cx="1367.5" cy="1145.1" r="3.7" fill="#6f94d2"/>
<circle cx="1420.3" cy="1145.5" r="3.7" fill="#6f94d2"/>
<circle cx="1461.7" cy="1128.0" r="3.7" fill="#6f94d2"/>
<circle cx="1356.0" cy="1203.0" r="3.7" fill="#6f94d2"/>
<circle cx="1373.9" cy="1115.2" r="3.7" fill="#6f94d2"/>
<circle cx="1379.0" cy="1110.6" r="3.7" fill="#6f94d2"/>
<circle cx="1407.5" cy="1109.7" r="3.7" fill="#6f94d2"/>
<circle cx="1509.5" cy="1625.1" r="3.7" fill="#e8696b"/>
<path d="M1367.5 1111.5 L1638.3 974.0 M1631.3 982.6 L1638.3 974.0 L1627.3 974.6 M1367.5 1111.5 L1656.7 976.3 M1649.5 984.6 L1656.7 976.3 L1645.7 976.5 M1367.5 1111.5 L1650.2 993.8 M1642.7 1001.8 L1650.2 993.8 L1639.2 993.5 M1367.5 1111.5 L1665.9 994.7 M1658.1 1002.5 L1665.9 994.7 L1654.9 994.2 M1367.5 1111.5 L1632.8 1004.8 M1625.1 1012.7 L1632.8 1004.8 L1621.8 1004.4 M1367.5 1111.5 L1668.2 1038.4 M1659.5 1045.1 L1668.2 1038.4 L1657.3 1036.4 M1367.5 1111.5 L1507.2 1034.7 M1500.6 1043.5 L1507.2 1034.7 L1496.3 1035.6 M1367.5 1111.5 L1579.9 1083.0 M1570.5 1088.8 L1579.9 1083.0 L1569.3 1079.9 M1367.5 1111.5 L1549.1 1085.3 M1539.8 1091.2 L1549.1 1085.3 L1538.5 1082.3 M1367.5 1111.5 L1390.0 1071.5 M1389.0 1082.4 L1390.0 1071.5 L1381.2 1078.1 M1367.5 1111.5 L1427.2 1123.4 M1416.5 1125.9 L1427.2 1123.4 L1418.3 1117.1 M1367.5 1111.5 L1491.1 1130.3 M1480.5 1133.3 L1491.1 1130.3 L1481.9 1124.4 M1367.5 1111.5 L1477.8 1141.8 M1466.9 1143.5 L1477.8 1141.8 L1469.3 1134.9 M1367.5 1111.5 L1667.2 1184.6 M1656.4 1186.6 L1667.2 1184.6 L1658.5 1177.9 M1367.5 1111.5 L1629.5 1324.4 M1618.9 1321.5 L1629.5 1324.4 L1624.6 1314.6 M1367.5 1111.5 L1428.2 1391.0 M1421.7 1382.2 L1428.2 1391.0 L1430.4 1380.3 M1367.5 1111.5 L1347.7 1489.9 M1343.8 1479.6 L1347.7 1489.9 L1352.7 1480.1 M1367.5 1111.5 L1498.5 1496.8 M1491.0 1488.7 L1498.5 1496.8 L1499.5 1485.8 M1367.5 1111.5 L1464.0 1512.4 M1457.3 1503.7 L1464.0 1512.4 L1466.0 1501.6 M1367.5 1111.5 L1458.0 1522.1 M1451.5 1513.2 L1458.0 1522.1 L1460.3 1511.3" fill="none" stroke="#bcbcbc" stroke-width="1.5" stroke-linejoin="miter"/>
<g font-size="14" text-anchor="middle">
<text x="1625.9" y="966.1">CENP.A</text>
<text x="1683.3" y="985.9">Scl.70</text>
<text x="1615.3" y="991.4">RNP.SM</text>
<text x="1692.5" y="1007.5">PCNA</text>
<text x="1622.6" y="1022.7">Ku</text>
<text x="1677.8" y="1029.6">PL.12</text>
<text x="1496.7" y="1051.7">Myeloperoxidase</text>
<text x="1589.1" y="1075.1">SSB.La</text>
<text x="1527.9" y="1100.9">Mi.2</text>
<text x="1399.2" y="1063.2">SSA.Ro60</text>
<text x="1416.7" y="1115.1">CENP.B</text>
<text x="1500.8" y="1122.9">Proteinase.3</text>
<text x="1467.2" y="1160.6">C1q</text>
<text x="1655.7" y="1202.0">Sm</text>
<text x="1638.7" y="1316.0">PM.Scl.100</text>
<text x="1437.4" y="1383.6">b2.glycoprotein</text>
<text x="1357.8" y="1482.0">Ribosomal.P</text>
<text x="1517.8" y="1482.5">SSA.Ro52</text>
<text x="1473.7" y="1504.5">RNP</text>
<text x="1447.5" y="1540.4">Jo.1</text>
</g>
<path d="M1281.8 896 V1659.2 H1894" fill="none" stroke="#000" stroke-width="1.6"/>
<path d="M1278 1112 H1281.8 M1278 1400.2 H1281.8 M1367.5 1659.2 V1663.6 M1509.5 1659.2 V1663.6 M1651.2 1659.2 V1663.6 M1792.8 1659.2 V1663.6" fill="none" stroke="#333" stroke-width="1.4"/>
<g font-size="29.5">
<text x="1271" y="1122" text-anchor="end">0.0</text>
<text x="1271" y="1407" text-anchor="end">-0.5</text>
<text x="1370.8" y="1694.2" text-anchor="middle" font-size="29.9">0.00</text>
<text x="1507.8" y="1694.2" text-anchor="middle" font-size="29.9">0.25</text>
<text x="1650.2" y="1694.2" text-anchor="middle" font-size="29.9">0.50</text>
<text x="1792.5" y="1694.2" text-anchor="middle" font-size="29.9">0.75</text>
</g>
<text class="b" x="1577.6" y="1742.3" font-size="44.3" text-anchor="middle">PC1</text>
<text class="b" font-size="44.3" text-anchor="middle" transform="translate(1237.4,1243) rotate(-90)">PC2</text>
<circle cx="1601.5" cy="1450.3" r="8.7" fill="#e8696b"/>
<text x="1634" y="1459.3" font-size="30.1">ICU</text>
<circle cx="1601.5" cy="1516" r="8.7" fill="#3fc83f"/>
<text x="1634" y="1527.6" font-size="30.1">Hospitalized</text>
<circle cx="1601.5" cy="1581.4" r="8.7" fill="#6f94d2"/>
<text x="1634" y="1591" font-size="30.1">Non-hospitalized</text>
</g>
<!-- panel_efgh -->
<g id="panel-efgh">
<text class="b" x="25.6" y="1868.4" font-size="57.5">e</text>
<text class="b" x="514.5" y="1880" font-size="57">f</text>
<text class="b" x="999.2" y="1868.6" font-size="57.5">g</text>
<text class="b" x="1453.5" y="1879" font-size="55">h</text>
<text x="22.3" y="1944.8" font-size="45.5">Non-hospitalized</text>
<text x="676.7" y="1944.8" font-size="45.5" text-anchor="middle">Hospitalized</text>
<text x="1180.8" y="1916.7" font-size="45.5" text-anchor="middle">Hospitalized</text>
<text x="1187.2" y="1972.4" font-size="45.5" text-anchor="middle">(non-ICU)</text>
<text x="1666.2" y="1944.8" font-size="45.5" text-anchor="middle">ICU</text>
<g stroke="#9a9a9a" stroke-width="0.9">
<rect x="45.50" y="1999.50" width="11.95" height="20.34" fill="#d02c2a"/>
<rect x="57.45" y="1999.50" width="11.95" height="20.34" fill="#d02c2a"/>
<rect x="69.40" y="1999.50" width="11.95" height="20.34" fill="#cccfe6"/>
<rect x="81.35" y="1999.50" width="11.95" height="20.34" fill="#6b69b5"/>
<rect x="93.30" y="1999.50" width="11.95" height="20.34" fill="#6b69b5"/>
<rect x="105.25" y="1999.50" width="11.95" height="20.34" fill="#d02c2a"/>
<rect x="117.20" y="1999.50" width="11.95" height="20.34" fill="#6b69b5"/>
<rect x="129.15" y="1999.50" width="11.95" height="20.34" fill="#cccfe6"/>
<rect x="141.10" y="1999.50" width="11.95" height="20.34" fill="#efd3d7"/>
<rect x="153.05" y="1999.50" width="11.95" height="20.34" fill="#cccfe6"/>
<rect x="165.00" y="1999.50" width="11.95" height="20.34" fill="#d02c2a"/>
<rect x="176.95" y="1999.50" width="11.95" height="20.34" fill="#d02c2a"/>
<rect x="188.90" y="1999.50" width="11.95" height="20.34" fill="#d02c2a"/>
<rect x="200.85" y="1999.50" width="11.95" height="20.34" fill="#d02c2a"/>
<rect x="212.80" y="1999.50" width="11.95" height="20.34" fill="#d02c2a"/>
<rect x="224.75" y="1999.50" width="11.95" height="20.34" fill="#efd3d7"/>
<rect x="236.70" y="1999.50" width="11.95" height="20.34" fill="#cccfe6"/>
<rect x="248.65" y="1999.50" width="11.95" height="20.34" fill="#cccfe6"/>
<rect x="260.60" y="1999.50" width="11.95" height="20.34" fill="#d02c2a"/>
<rect x="272.55" y="1999.50" width="11.95" height="20.34" fill="#d02c2a"/>
<rect x="284.50" y="1999.50" width="11.95" height="20.34" fill="#d02c2a"/>
<rect x="296.45" y="1999.50" width="11.95" height="20.34" fill="#d02c2a"/>
<rect x="308.40" y="1999.50" width="11.95" height="20.34" fill="#d02c2a"/>
<rect x="320.35" y="1999.50" width="11.95" height="20.34" fill="#d02c2a"/>
<rect x="45.50" y="2019.84" width="11.95" height="20.34" fill="#d02c2a"/>
<rect x="57.45" y="2019.84" width="11.95" height="20.34" fill="#d02c2a"/>
<rect x="69.40" y="2019.84" width="11.95" height="20.34" fill="#d02c2a"/>
<rect x="81.35" y="2019.84" width="11.95" height="20.34" fill="#d02c2a"/>
<rect x="93.30" y="2019.84" width="11.95" height="20.34" fill="#cccfe6"/>
<rect x="105.25" y="2019.84" width="11.95" height="20.34" fill="#d02c2a"/>
<rect x="117.20" y="2019.84" width="11.95" height="20.34" fill="#efd3d7"/>
<rect x="129.15" y="2019.84" width="11.95" height="20.34" fill="#d02c2a"/>
<rect x="141.10" y="2019.84" width="11.95" height="20.34" fill="#d02c2a"/>
<rect x="153.05" y="2019.84" width="11.95" height="20.34" fill="#d02c2a"/>
<rect x="165.00" y="2019.84" width="11.95" height="20.34" fill="#d02c2a"/>
<rect x="176.95" y="2019.84" width="11.95" height="20.34" fill="#d02c2a"/>
<rect x="188.90" y="2019.84" width="11.95" height="20.34" fill="#d02c2a"/>
<rect x="200.85" y="2019.84" width="11.95" height="20.34" fill="#d02c2a"/>
<rect x="212.80" y="2019.84" width="11.95" height="20.34" fill="#d02c2a"/>
<rect x="224.75" y="2019.84" width="11.95" height="20.34" fill="#d02c2a"/>
<rect x="236.70" y="2019.84" width="11.95" height="20.34" fill="#6b69b5"/>
<rect x="248.65" y="2019.84" width="11.95" height="20.34" fill="#efd3d7"/>
<rect x="260.60" y="2019.84" width="11.95" height="20.34" fill="#cccfe6"/>
<rect x="272.55" y="2019.84" width="11.95" height="20.34" fill="#efd3d7"/>
<rect x="284.50" y="2019.84" width="11.95" height="20.34" fill="#d02c2a"/>
<rect x="296.45" y="2019.84" width="11.95" height="20.34" fill="#d02c2a"/>
<rect x="308.40" y="2019.84" width="11.95" height="20.34" fill="#d02c2a"/>
<rect x="320.35" y="2019.84" width="11.95" height="20.34" fill="#d02c2a"/>
<rect x="45.50" y="2040.18" width="11.95" height="20.34" fill="#d02c2a"/>
<rect x="57.45" y="2040.18" width="11.95" height="20.34" fill="#efd3d7"/>
<rect x="69.40" y="2040.18" width="11.95" height="20.34" fill="#d02c2a"/>
<rect x="81.35" y="2040.18" width="11.95" height="20.34" fill="#d02c2a"/>
<rect x="93.30" y="2040.18" width="11.95" height="20.34" fill="#cccfe6"/>
<rect x="105.25" y="2040.18" width="11.95" height="20.34" fill="#d02c2a"/>
<rect x="117.20" y="2040.18" width="11.95" height="20.34" fill="#dc767c"/>
<rect x="129.15" y="2040.18" width="11.95" height="20.34" fill="#d02c2a"/>
<rect x="141.10" y="2040.18" width="11.95" height="20.34" fill="#d02c2a"/>
<rect x="153.05" y="2040.18" width="11.95" height="20.34" fill="#d02c2a"/>
<rect x="165.00" y="2040.18" width="11.95" height="20.34" fill="#d02c2a"/>
<rect x="176.95" y="2040.18" width="11.95" height="20.34" fill="#cccfe6"/>
<rect x="188.90" y="2040.18" width="11.95" height="20.34" fill="#d02c2a"/>
<rect x="200.85" y="2040.18" width="11.95" height="20.34" fill="#d02c2a"/>
<rect x="212.80" y="2040.18" width="11.95" height="20.34" fill="#d02c2a"/>
<rect x="224.75" y="2040.18" width="11.95" height="20.34" fill="#efd3d7"/>
<rect x="236.70" y="2040.18" width="11.95" height="20.34" fill="#d02c2a"/>
<rect x="248.65" y="2040.18" width="11.95" height="20.34" fill="#d02c2a"/>
<rect x="260.60" y="2040.18" width="11.95" height="20.34" fill="#cccfe6"/>
<rect x="272.55" y="2040.18" width="11.95" height="20.34" fill="#dc767c"/>
<rect x="284.50" y="2040.18" width="11.95" height="20.34" fill="#d02c2a"/>
<rect x="296.45" y="2040.18" width="11.95" height="20.34" fill="#efd3d7"/>
<rect x="308.40" y="2040.18" width="11.95" height="20.34" fill="#d02c2a"/>
<rect x="320.35" y="2040.18" width="11.95" height="20.34" fill="#d02c2a"/>
<rect x="45.50" y="2060.52" width="11.95" height="20.34" fill="#d02c2a"/>
<rect x="57.45" y="2060.52" width="11.95" height="20.34" fill="#cccfe6"/>
<rect x="69.40" y="2060.52" width="11.95" height="20.34" fill="#cccfe6"/>
<rect x="81.35" y="2060.52" width="11.95" height="20.34" fill="#cccfe6"/>
<rect x="93.30" y="2060.52" width="11.95" height="20.34" fill="#6b69b5"/>
<rect x="105.25" y="2060.52" width="11.95" height="20.34" fill="#d02c2a"/>
<rect x="117.20" y="2060.52" width="11.95" height="20.34" fill="#6b69b5"/>
<rect x="129.15" y="2060.52" width="11.95" height="20.34" fill="#efd3d7"/>
<rect x="141.10" y="2060.52" width="11.95" height="20.34" fill="#d02c2a"/>
<rect x="153.05" y="2060.52" width="11.95" height="20.34" fill="#d02c2a"/>
<rect x="165.00" y="2060.52" width="11.95" height="20.34" fill="#d02c2a"/>
<rect x="176.95" y="2060.52" width="11.95" height="20.34" fill="#cccfe6"/>
<rect x="188.90" y="2060.52" width="11.95" height="20.34" fill="#d02c2a"/>
<rect x="200.85" y="2060.52" width="11.95" height="20.34" fill="#d02c2a"/>
<rect x="212.80" y="2060.52" width="11.95" height="20.34" fill="#d02c2a"/>
<rect x="224.75" y="2060.52" width="11.95" height="20.34" fill="#3a2389"/>
<rect x="236.70" y="2060.52" width="11.95" height="20.34" fill="#d02c2a"/>
<rect x="248.65" y="2060.52" width="11.95" height="20.34" fill="#cccfe6"/>
<rect x="260.60" y="2060.52" width="11.95" height="20.34" fill="#d02c2a"/>
<rect x="272.55" y="2060.52" width="11.95" height="20.34" fill="#cccfe6"/>
<rect x="284.50" y="2060.52" width="11.95" height="20.34" fill="#d02c2a"/>
<rect x="296.45" y="2060.52" width="11.95" height="20.34" fill="#d02c2a"/>
<rect x="308.40" y="2060.52" width="11.95" height="20.34" fill="#cccfe6"/>
<rect x="320.35" y="2060.52" width="11.95" height="20.34" fill="#dc767c"/>
<rect x="45.50" y="2080.86" width="11.95" height="20.34" fill="#d02c2a"/>
<rect x="57.45" y="2080.86" width="11.95" height="20.34" fill="#d02c2a"/>
<rect x="69.40" y="2080.86" width="11.95" height="20.34" fill="#efd3d7"/>
<rect x="81.35" y="2080.86" width="11.95" height="20.34" fill="#d02c2a"/>
<rect x="93.30" y="2080.86" width="11.95" height="20.34" fill="#d02c2a"/>
<rect x="105.25" y="2080.86" width="11.95" height="20.34" fill="#d02c2a"/>
<rect x="117.20" y="2080.86" width="11.95" height="20.34" fill="#d02c2a"/>
<rect x="129.15" y="2080.86" width="11.95" height="20.34" fill="#d02c2a"/>
<rect x="141.10" y="2080.86" width="11.95" height="20.34" fill="#d02c2a"/>
<rect x="153.05" y="2080.86" width="11.95" height="20.34" fill="#d02c2a"/>
<rect x="165.00" y="2080.86" width="11.95" height="20.34" fill="#d02c2a"/>
<rect x="176.95" y="2080.86" width="11.95" height="20.34" fill="#d02c2a"/>
<rect x="188.90" y="2080.86" width="11.95" height="20.34" fill="#d02c2a"/>
<rect x="200.85" y="2080.86" width="11.95" height="20.34" fill="#d02c2a"/>
<rect x="212.80" y="2080.86" width="11.95" height="20.34" fill="#d02c2a"/>
<rect x="224.75" y="2080.86" width="11.95" height="20.34" fill="#d02c2a"/>
<rect x="236.70" y="2080.86" width="11.95" height="20.34" fill="#cccfe6"/>
<rect x="248.65" y="2080.86" width="11.95" height="20.34" fill="#d02c2a"/>
<rect x="260.60" y="2080.86" width="11.95" height="20.34" fill="#d02c2a"/>
<rect x="272.55" y="2080.86" width="11.95" height="20.34" fill="#d02c2a"/>
<rect x="284.50" y="2080.86" width="11.95" height="20.34" fill="#d02c2a"/>
<rect x="296.45" y="2080.86" width="11.95" height="20.34" fill="#d02c2a"/>
<rect x="308.40" y="2080.86" width="11.95" height="20.34" fill="#d02c2a"/>
<rect x="320.35" y="2080.86" width="11.95" height="20.34" fill="#d02c2a"/>
<rect x="45.50" y="2101.20" width="11.95" height="20.34" fill="#d02c2a"/>
<rect x="57.45" y="2101.20" width="11.95" height="20.34" fill="#d02c2a"/>
<rect x="69.40" y="2101.20" width="11.95" height="20.34" fill="#d02c2a"/>
<rect x="81.35" y="2101.20" width="11.95" height="20.34" fill="#efd3d7"/>
<rect x="93.30" y="2101.20" width="11.95" height="20.34" fill="#d02c2a"/>
<rect x="105.25" y="2101.20" width="11.95" height="20.34" fill="#d02c2a"/>
<rect x="117.20" y="2101.20" width="11.95" height="20.34" fill="#d02c2a"/>
<rect x="129.15" y="2101.20" width="11.95" height="20.34" fill="#d02c2a"/>
<rect x="141.10" y="2101.20" width="11.95" height="20.34" fill="#d02c2a"/>
<rect x="153.05" y="2101.20" width="11.95" height="20.34" fill="#d02c2a"/>
<rect x="165.00" y="2101.20" width="11.95" height="20.34" fill="#d02c2a"/>
<rect x="176.95" y="2101.20" width="11.95" height="20.34" fill="#d02c2a"/>
<rect x="188.90" y="2101.20" width="11.95" height="20.34" fill="#d02c2a"/>
<rect x="200.85" y="2101.20" width="11.95" height="20.34" fill="#d02c2a"/>
<rect x="212.80" y="2101.20" width="11.95" height="20.34" fill="#d02c2a"/>
<rect x="224.75" y="2101.20" width="11.95" height="20.34" fill="#d02c2a"/>
<rect x="236.70" y="2101.20" width="11.95" height="20.34" fill="#cccfe6"/>
<rect x="248.65" y="2101.20" width="11.95" height="20.34" fill="#d02c2a"/>
<rect x="260.60" y="2101.20" width="11.95" height="20.34" fill="#d02c2a"/>
<rect x="272.55" y="2101.20" width="11.95" height="20.34" fill="#d02c2a"/>
<rect x="284.50" y="2101.20" width="11.95" height="20.34" fill="#d02c2a"/>
<rect x="296.45" y="2101.20" width="11.95" height="20.34" fill="#d02c2a"/>
<rect x="308.40" y="2101.20" width="11.95" height="20.34" fill="#d02c2a"/>
<rect x="320.35" y="2101.20" width="11.95" height="20.34" fill="#d02c2a"/>
<rect x="45.50" y="2121.54" width="11.95" height="20.34" fill="#d02c2a"/>
<rect x="57.45" y="2121.54" width="11.95" height="20.34" fill="#d02c2a"/>
<rect x="69.40" y="2121.54" width="11.95" height="20.34" fill="#d02c2a"/>
<rect x="81.35" y="2121.54" width="11.95" height="20.34" fill="#d02c2a"/>
<rect x="93.30" y="2121.54" width="11.95" height="20.34" fill="#cccfe6"/>
<rect x="105.25" y="2121.54" width="11.95" height="20.34" fill="#d02c2a"/>
<rect x="117.20" y="2121.54" width="11.95" height="20.34" fill="#d02c2a"/>
<rect x="129.15" y="2121.54" width="11.95" height="20.34" fill="#d02c2a"/>
<rect x="141.10" y="2121.54" width="11.95" height="20.34" fill="#d02c2a"/>
<rect x="153.05" y="2121.54" width="11.95" height="20.34" fill="#d02c2a"/>
<rect x="165.00" y="2121.54" width="11.95" height="20.34" fill="#d02c2a"/>
<rect x="176.95" y="2121.54" width="11.95" height="20.34" fill="#d02c2a"/>
<rect x="188.90" y="2121.54" width="11.95" height="20.34" fill="#d02c2a"/>
<rect x="200.85" y="2121.54" width="11.95" height="20.34" fill="#d02c2a"/>
<rect x="212.80" y="2121.54" width="11.95" height="20.34" fill="#d02c2a"/>
<rect x="224.75" y="2121.54" width="11.95" height="20.34" fill="#d02c2a"/>
<rect x="236.70" y="2121.54" width="11.95" height="20.34" fill="#efd3d7"/>
<rect x="248.65" y="2121.54" width="11.95" height="20.34" fill="#d02c2a"/>
<rect x="260.60" y="2121.54" width="11.95" height="20.34" fill="#d02c2a"/>
<rect x="272.55" y="2121.54" width="11.95" height="20.34" fill="#d02c2a"/>
<rect x="284.50" y="2121.54" width="11.95" height="20.34" fill="#d02c2a"/>
<rect x="296.45" y="2121.54" width="11.95" height="20.34" fill="#d02c2a"/>
<rect x="308.40" y="2121.54" width="11.95" height="20.34" fill="#d02c2a"/>
<rect x="320.35" y="2121.54" width="11.95" height="20.34" fill="#d02c2a"/>
<rect x="45.50" y="2141.88" width="11.95" height="20.34" fill="#cccfe6"/>
<rect x="57.45" y="2141.88" width="11.95" height="20.34" fill="#cccfe6"/>
<rect x="69.40" y="2141.88" width="11.95" height="20.34" fill="#cccfe6"/>
<rect x="81.35" y="2141.88" width="11.95" height="20.34" fill="#3a2389"/>
<rect x="93.30" y="2141.88" width="11.95" height="20.34" fill="#d02c2a"/>
<rect x="105.25" y="2141.88" width="11.95" height="20.34" fill="#3a2389"/>
<rect x="117.20" y="2141.88" width="11.95" height="20.34" fill="#3a2389"/>
<rect x="129.15" y="2141.88" width="11.95" height="20.34" fill="#efd3d7"/>
<rect x="141.10" y="2141.88" width="11.95" height="20.34" fill="#3a2389"/>
<rect x="153.05" y="2141.88" width="11.95" height="20.34" fill="#3a2389"/>
<rect x="165.00" y="2141.88" width="11.95" height="20.34" fill="#cccfe6"/>
<rect x="176.95" y="2141.88" width="11.95" height="20.34" fill="#efd3d7"/>
<rect x="188.90" y="2141.88" width="11.95" height="20.34" fill="#6b69b5"/>
<rect x="200.85" y="2141.88" width="11.95" height="20.34" fill="#cccfe6"/>
<rect x="212.80" y="2141.88" width="11.95" height="20.34" fill="#3a2389"/>
<rect x="224.75" y="2141.88" width="11.95" height="20.34" fill="#3a2389"/>
<rect x="236.70" y="2141.88" width="11.95" height="20.34" fill="#3a2389"/>
<rect x="248.65" y="2141.88" width="11.95" height="20.34" fill="#6b69b5"/>
<rect x="260.60" y="2141.88" width="11.95" height="20.34" fill="#cccfe6"/>
<rect x="272.55" y="2141.88" width="11.95" height="20.34" fill="#6b69b5"/>
<rect x="284.50" y="2141.88" width="11.95" height="20.34" fill="#d02c2a"/>
<rect x="296.45" y="2141.88" width="11.95" height="20.34" fill="#efd3d7"/>
<rect x="308.40" y="2141.88" width="11.95" height="20.34" fill="#3a2389"/>
<rect x="320.35" y="2141.88" width="11.95" height="20.34" fill="#3a2389"/>
<rect x="45.50" y="2162.22" width="11.95" height="20.34" fill="#d02c2a"/>
<rect x="57.45" y="2162.22" width="11.95" height="20.34" fill="#d02c2a"/>
<rect x="69.40" y="2162.22" width="11.95" height="20.34" fill="#d02c2a"/>
<rect x="81.35" y="2162.22" width="11.95" height="20.34" fill="#cccfe6"/>
<rect x="93.30" y="2162.22" width="11.95" height="20.34" fill="#3a2389"/>
<rect x="105.25" y="2162.22" width="11.95" height="20.34" fill="#efd3d7"/>
<rect x="117.20" y="2162.22" width="11.95" height="20.34" fill="#6b69b5"/>
<rect x="129.15" y="2162.22" width="11.95" height="20.34" fill="#d02c2a"/>
<rect x="141.10" y="2162.22" width="11.95" height="20.34" fill="#d02c2a"/>
<rect x="153.05" y="2162.22" width="11.95" height="20.34" fill="#cccfe6"/>
<rect x="165.00" y="2162.22" width="11.95" height="20.34" fill="#d02c2a"/>
<rect x="176.95" y="2162.22" width="11.95" height="20.34" fill="#d02c2a"/>
<rect x="188.90" y="2162.22" width="11.95" height="20.34" fill="#d02c2a"/>
<rect x="200.85" y="2162.22" width="11.95" height="20.34" fill="#d02c2a"/>
<rect x="212.80" y="2162.22" width="11.95" height="20.34" fill="#dc767c"/>
<rect x="224.75" y="2162.22" width="11.95" height="20.34" fill="#d02c2a"/>
<rect x="236.70" y="2162.22" width="11.95" height="20.34" fill="#efd3d7"/>
<rect x="248.65" y="2162.22" width="11.95" height="20.34" fill="#d02c2a"/>
<rect x="260.60" y="2162.22" width="11.95" height="20.34" fill="#d02c2a"/>
<rect x="272.55" y="2162.22" width="11.95" height="20.34" fill="#efd3d7"/>
<rect x="284.50" y="2162.22" width="11.95" height="20.34" fill="#d02c2a"/>
<rect x="296.45" y="2162.22" width="11.95" height="20.34" fill="#d02c2a"/>
<rect x="308.40" y="2162.22" width="11.95" height="20.34" fill="#cccfe6"/>
<rect x="320.35" y="2162.22" width="11.95" height="20.34" fill="#efd3d7"/>
<rect x="45.50" y="2182.56" width="11.95" height="20.34" fill="#cccfe6"/>
<rect x="57.45" y="2182.56" width="11.95" height="20.34" fill="#efd3d7"/>
<rect x="69.40" y="2182.56" width="11.95" height="20.34" fill="#cccfe6"/>
<rect x="81.35" y="2182.56" width="11.95" height="20.34" fill="#6b69b5"/>
<rect x="93.30" y="2182.56" width="11.95" height="20.34" fill="#efd3d7"/>
<rect x="105.25" y="2182.56" width="11.95" height="20.34" fill="#dc767c"/>
<rect x="117.20" y="2182.56" width="11.95" height="20.34" fill="#3a2389"/>
<rect x="129.15" y="2182.56" width="11.95" height="20.34" fill="#6b69b5"/>
<rect x="141.10" y="2182.56" width="11.95" height="20.34" fill="#6b69b5"/>
<rect x="153.05" y="2182.56" width="11.95" height="20.34" fill="#6b69b5"/>
<rect x="165.00" y="2182.56" width="11.95" height="20.34" fill="#d02c2a"/>
<rect x="176.95" y="2182.56" width="11.95" height="20.34" fill="#d02c2a"/>
<rect x="188.90" y="2182.56" width="11.95" height="20.34" fill="#6b69b5"/>
<rect x="200.85" y="2182.56" width="11.95" height="20.34" fill="#dc767c"/>
<rect x="212.80" y="2182.56" width="11.95" height="20.34" fill="#efd3d7"/>
<rect x="224.75" y="2182.56" width="11.95" height="20.34" fill="#d02c2a"/>
<rect x="236.70" y="2182.56" width="11.95" height="20.34" fill="#3a2389"/>
<rect x="248.65" y="2182.56" width="11.95" height="20.34" fill="#6b69b5"/>
<rect x="260.60" y="2182.56" width="11.95" height="20.34" fill="#6b69b5"/>
<rect x="272.55" y="2182.56" width="11.95" height="20.34" fill="#6b69b5"/>
<rect x="284.50" y="2182.56" width="11.95" height="20.34" fill="#d02c2a"/>
<rect x="296.45" y="2182.56" width="11.95" height="20.34" fill="#efd3d7"/>
<rect x="308.40" y="2182.56" width="11.95" height="20.34" fill="#cccfe6"/>
<rect x="320.35" y="2182.56" width="11.95" height="20.34" fill="#efd3d7"/>
<rect x="45.50" y="2202.90" width="11.95" height="20.34" fill="#d02c2a"/>
<rect x="57.45" y="2202.90" width="11.95" height="20.34" fill="#6b69b5"/>
<rect x="69.40" y="2202.90" width="11.95" height="20.34" fill="#cccfe6"/>
<rect x="81.35" y="2202.90" width="11.95" height="20.34" fill="#3a2389"/>
<rect x="93.30" y="2202.90" width="11.95" height="20.34" fill="#6b69b5"/>
<rect x="105.25" y="2202.90" width="11.95" height="20.34" fill="#6b69b5"/>
<rect x="117.20" y="2202.90" width="11.95" height="20.34" fill="#3a2389"/>
<rect x="129.15" y="2202.90" width="11.95" height="20.34" fill="#3a2389"/>
<rect x="141.10" y="2202.90" width="11.95" height="20.34" fill="#3a2389"/>
<rect x="153.05" y="2202.90" width="11.95" height="20.34" fill="#6b69b5"/>
<rect x="165.00" y="2202.90" width="11.95" height="20.34" fill="#cccfe6"/>
<rect x="176.95" y="2202.90" width="11.95" height="20.34" fill="#6b69b5"/>
<rect x="188.90" y="2202.90" width="11.95" height="20.34" fill="#efd3d7"/>
<rect x="200.85" y="2202.90" width="11.95" height="20.34" fill="#cccfe6"/>
<rect x="212.80" y="2202.90" width="11.95" height="20.34" fill="#d02c2a"/>
<rect x="224.75" y="2202.90" width="11.95" height="20.34" fill="#6b69b5"/>
<rect x="236.70" y="2202.90" width="11.95" height="20.34" fill="#3a2389"/>
<rect x="248.65" y="2202.90" width="11.95" height="20.34" fill="#cccfe6"/>
<rect x="260.60" y="2202.90" width="11.95" height="20.34" fill="#3a2389"/>
<rect x="272.55" y="2202.90" width="11.95" height="20.34" fill="#cccfe6"/>
<rect x="284.50" y="2202.90" width="11.95" height="20.34" fill="#3a2389"/>
<rect x="296.45" y="2202.90" width="11.95" height="20.34" fill="#cccfe6"/>
<rect x="308.40" y="2202.90" width="11.95" height="20.34" fill="#6b69b5"/>
<rect x="320.35" y="2202.90" width="11.95" height="20.34" fill="#3a2389"/>
<rect x="45.50" y="2223.24" width="11.95" height="20.34" fill="#d02c2a"/>
<rect x="57.45" y="2223.24" width="11.95" height="20.34" fill="#cccfe6"/>
<rect x="69.40" y="2223.24" width="11.95" height="20.34" fill="#cccfe6"/>
<rect x="81.35" y="2223.24" width="11.95" height="20.34" fill="#3a2389"/>
<rect x="93.30" y="2223.24" width="11.95" height="20.34" fill="#3a2389"/>
<rect x="105.25" y="2223.24" width="11.95" height="20.34" fill="#6b69b5"/>
<rect x="117.20" y="2223.24" width="11.95" height="20.34" fill="#3a2389"/>
<rect x="129.15" y="2223.24" width="11.95" height="20.34" fill="#cccfe6"/>
<rect x="141.10" y="2223.24" width="11.95" height="20.34" fill="#dc767c"/>
<rect x="153.05" y="2223.24" width="11.95" height="20.34" fill="#3a2389"/>
<rect x="165.00" y="2223.24" width="11.95" height="20.34" fill="#6b69b5"/>
<rect x="176.95" y="2223.24" width="11.95" height="20.34" fill="#6b69b5"/>
<rect x="188.90" y="2223.24" width="11.95" height="20.34" fill="#3a2389"/>
<rect x="200.85" y="2223.24" width="11.95" height="20.34" fill="#6b69b5"/>
<rect x="212.80" y="2223.24" width="11.95" height="20.34" fill="#6b69b5"/>
<rect x="224.75" y="2223.24" width="11.95" height="20.34" fill="#dc767c"/>
<rect x="236.70" y="2223.24" width="11.95" height="20.34" fill="#3a2389"/>
<rect x="248.65" y="2223.24" width="11.95" height="20.34" fill="#efd3d7"/>
<rect x="260.60" y="2223.24" width="11.95" height="20.34" fill="#efd3d7"/>
<rect x="272.55" y="2223.24" width="11.95" height="20.34" fill="#6b69b5"/>
<rect x="284.50" y="2223.24" width="11.95" height="20.34" fill="#d02c2a"/>
<rect x="296.45" y="2223.24" width="11.95" height="20.34" fill="#3a2389"/>
<rect x="308.40" y="2223.24" width="11.95" height="20.34" fill="#3a2389"/>
<rect x="320.35" y="2223.24" width="11.95" height="20.34" fill="#3a2389"/>
<rect x="45.50" y="2243.58" width="11.95" height="20.34" fill="#3a2389"/>
<rect x="57.45" y="2243.58" width="11.95" height="20.34" fill="#3a2389"/>
<rect x="69.40" y="2243.58" width="11.95" height="20.34" fill="#3a2389"/>
<rect x="81.35" y="2243.58" width="11.95" height="20.34" fill="#3a2389"/>
<rect x="93.30" y="2243.58" width="11.95" height="20.34" fill="#efd3d7"/>
<rect x="105.25" y="2243.58" width="11.95" height="20.34" fill="#3a2389"/>
<rect x="117.20" y="2243.58" width="11.95" height="20.34" fill="#3a2389"/>
<rect x="129.15" y="2243.58" width="11.95" height="20.34" fill="#3a2389"/>
<rect x="141.10" y="2243.58" width="11.95" height="20.34" fill="#3a2389"/>
<rect x="153.05" y="2243.58" width="11.95" height="20.34" fill="#3a2389"/>
<rect x="165.00" y="2243.58" width="11.95" height="20.34" fill="#3a2389"/>
<rect x="176.95" y="2243.58" width="11.95" height="20.34" fill="#6b69b5"/>
<rect x="188.90" y="2243.58" width="11.95" height="20.34" fill="#3a2389"/>
<rect x="200.85" y="2243.58" width="11.95" height="20.34" fill="#3a2389"/>
<rect x="212.80" y="2243.58" width="11.95" height="20.34" fill="#3a2389"/>
<rect x="224.75" y="2243.58" width="11.95" height="20.34" fill="#3a2389"/>
<rect x="236.70" y="2243.58" width="11.95" height="20.34" fill="#3a2389"/>
<rect x="248.65" y="2243.58" width="11.95" height="20.34" fill="#3a2389"/>
<rect x="260.60" y="2243.58" width="11.95" height="20.34" fill="#3a2389"/>
<rect x="272.55" y="2243.58" width="11.95" height="20.34" fill="#3a2389"/>
<rect x="284.50" y="2243.58" width="11.95" height="20.34" fill="#cccfe6"/>
<rect x="296.45" y="2243.58" width="11.95" height="20.34" fill="#3a2389"/>
<rect x="308.40" y="2243.58" width="11.95" height="20.34" fill="#3a2389"/>
<rect x="320.35" y="2243.58" width="11.95" height="20.34" fill="#3a2389"/>
<rect x="45.50" y="2263.92" width="11.95" height="20.34" fill="#3a2389"/>
<rect x="57.45" y="2263.92" width="11.95" height="20.34" fill="#6b69b5"/>
<rect x="69.40" y="2263.92" width="11.95" height="20.34" fill="#6b69b5"/>
<rect x="81.35" y="2263.92" width="11.95" height="20.34" fill="#3a2389"/>
<rect x="93.30" y="2263.92" width="11.95" height="20.34" fill="#3a2389"/>
<rect x="105.25" y="2263.92" width="11.95" height="20.34" fill="#3a2389"/>
<rect x="117.20" y="2263.92" width="11.95" height="20.34" fill="#3a2389"/>
<rect x="129.15" y="2263.92" width="11.95" height="20.34" fill="#cccfe6"/>
<rect x="141.10" y="2263.92" width="11.95" height="20.34" fill="#3a2389"/>
<rect x="153.05" y="2263.92" width="11.95" height="20.34" fill="#3a2389"/>
<rect x="165.00" y="2263.92" width="11.95" height="20.34" fill="#3a2389"/>
<rect x="176.95" y="2263.92" width="11.95" height="20.34" fill="#6b69b5"/>
<rect x="188.90" y="2263.92" width="11.95" height="20.34" fill="#3a2389"/>
<rect x="200.85" y="2263.92" width="11.95" height="20.34" fill="#6b69b5"/>
<rect x="212.80" y="2263.92" width="11.95" height="20.34" fill="#cccfe6"/>
<rect x="224.75" y="2263.92" width="11.95" height="20.34" fill="#3a2389"/>
<rect x="236.70" y="2263.92" width="11.95" height="20.34" fill="#3a2389"/>
<rect x="248.65" y="2263.92" width="11.95" height="20.34" fill="#3a2389"/>
<rect x="260.60" y="2263.92" width="11.95" height="20.34" fill="#3a2389"/>
<rect x="272.55" y="2263.92" width="11.95" height="20.34" fill="#3a2389"/>
<rect x="284.50" y="2263.92" width="11.95" height="20.34" fill="#e2e2e2"/>
<rect x="296.45" y="2263.92" width="11.95" height="20.34" fill="#3a2389"/>
<rect x="308.40" y="2263.92" width="11.95" height="20.34" fill="#3a2389"/>
<rect x="320.35" y="2263.92" width="11.95" height="20.34" fill="#3a2389"/>
<rect x="45.50" y="2284.26" width="11.95" height="20.34" fill="#3a2389"/>
<rect x="57.45" y="2284.26" width="11.95" height="20.34" fill="#3a2389"/>
<rect x="69.40" y="2284.26" width="11.95" height="20.34" fill="#3a2389"/>
<rect x="81.35" y="2284.26" width="11.95" height="20.34" fill="#3a2389"/>
<rect x="93.30" y="2284.26" width="11.95" height="20.34" fill="#3a2389"/>
<rect x="105.25" y="2284.26" width="11.95" height="20.34" fill="#3a2389"/>
<rect x="117.20" y="2284.26" width="11.95" height="20.34" fill="#3a2389"/>
<rect x="129.15" y="2284.26" width="11.95" height="20.34" fill="#3a2389"/>
<rect x="141.10" y="2284.26" width="11.95" height="20.34" fill="#3a2389"/>
<rect x="153.05" y="2284.26" width="11.95" height="20.34" fill="#3a2389"/>
<rect x="165.00" y="2284.26" width="11.95" height="20.34" fill="#3a2389"/>
<rect x="176.95" y="2284.26" width="11.95" height="20.34" fill="#3a2389"/>
<rect x="188.90" y="2284.26" width="11.95" height="20.34" fill="#3a2389"/>
<rect x="200.85" y="2284.26" width="11.95" height="20.34" fill="#6b69b5"/>
<rect x="212.80" y="2284.26" width="11.95" height="20.34" fill="#3a2389"/>
<rect x="224.75" y="2284.26" width="11.95" height="20.34" fill="#3a2389"/>
<rect x="236.70" y="2284.26" width="11.95" height="20.34" fill="#3a2389"/>
<rect x="248.65" y="2284.26" width="11.95" height="20.34" fill="#3a2389"/>
<rect x="260.60" y="2284.26" width="11.95" height="20.34" fill="#3a2389"/>
<rect x="272.55" y="2284.26" width="11.95" height="20.34" fill="#3a2389"/>
<rect x="284.50" y="2284.26" width="11.95" height="20.34" fill="#efd3d7"/>
<rect x="296.45" y="2284.26" width="11.95" height="20.34" fill="#3a2389"/>
<rect x="308.40" y="2284.26" width="11.95" height="20.34" fill="#3a2389"/>
<rect x="320.35" y="2284.26" width="11.95" height="20.34" fill="#3a2389"/>
<rect x="45.50" y="2304.60" width="11.95" height="20.34" fill="#d02c2a"/>
<rect x="57.45" y="2304.60" width="11.95" height="20.34" fill="#d02c2a"/>
<rect x="69.40" y="2304.60" width="11.95" height="20.34" fill="#dc767c"/>
<rect x="81.35" y="2304.60" width="11.95" height="20.34" fill="#6b69b5"/>
<rect x="93.30" y="2304.60" width="11.95" height="20.34" fill="#3a2389"/>
<rect x="105.25" y="2304.60" width="11.95" height="20.34" fill="#d02c2a"/>
<rect x="117.20" y="2304.60" width="11.95" height="20.34" fill="#dc767c"/>
<rect x="129.15" y="2304.60" width="11.95" height="20.34" fill="#d02c2a"/>
<rect x="141.10" y="2304.60" width="11.95" height="20.34" fill="#d02c2a"/>
<rect x="153.05" y="2304.60" width="11.95" height="20.34" fill="#cccfe6"/>
<rect x="165.00" y="2304.60" width="11.95" height="20.34" fill="#dc767c"/>
<rect x="176.95" y="2304.60" width="11.95" height="20.34" fill="#d02c2a"/>
<rect x="188.90" y="2304.60" width="11.95" height="20.34" fill="#d02c2a"/>
<rect x="200.85" y="2304.60" width="11.95" height="20.34" fill="#d02c2a"/>
<rect x="212.80" y="2304.60" width="11.95" height="20.34" fill="#d02c2a"/>
<rect x="224.75" y="2304.60" width="11.95" height="20.34" fill="#d02c2a"/>
<rect x="236.70" y="2304.60" width="11.95" height="20.34" fill="#cccfe6"/>
<rect x="248.65" y="2304.60" width="11.95" height="20.34" fill="#d02c2a"/>
<rect x="260.60" y="2304.60" width="11.95" height="20.34" fill="#d02c2a"/>
<rect x="272.55" y="2304.60" width="11.95" height="20.34" fill="#d02c2a"/>
<rect x="284.50" y="2304.60" width="11.95" height="20.34" fill="#d02c2a"/>
<rect x="296.45" y="2304.60" width="11.95" height="20.34" fill="#d02c2a"/>
<rect x="308.40" y="2304.60" width="11.95" height="20.34" fill="#d02c2a"/>
<rect x="320.35" y="2304.60" width="11.95" height="20.34" fill="#d02c2a"/>
<rect x="45.50" y="2324.94" width="11.95" height="20.34" fill="#d02c2a"/>
<rect x="57.45" y="2324.94" width="11.95" height="20.34" fill="#efd3d7"/>
<rect x="69.40" y="2324.94" width="11.95" height="20.34" fill="#dc767c"/>
<rect x="81.35" y="2324.94" width="11.95" height="20.34" fill="#efd3d7"/>
<rect x="93.30" y="2324.94" width="11.95" height="20.34" fill="#d02c2a"/>
<rect x="105.25" y="2324.94" width="11.95" height="20.34" fill="#6b69b5"/>
<rect x="117.20" y="2324.94" width="11.95" height="20.34" fill="#cccfe6"/>
<rect x="129.15" y="2324.94" width="11.95" height="20.34" fill="#efd3d7"/>
<rect x="141.10" y="2324.94" width="11.95" height="20.34" fill="#dc767c"/>
<rect x="153.05" y="2324.94" width="11.95" height="20.34" fill="#d02c2a"/>
<rect x="165.00" y="2324.94" width="11.95" height="20.34" fill="#efd3d7"/>
<rect x="176.95" y="2324.94" width="11.95" height="20.34" fill="#cccfe6"/>
<rect x="188.90" y="2324.94" width="11.95" height="20.34" fill="#cccfe6"/>
<rect x="200.85" y="2324.94" width="11.95" height="20.34" fill="#d02c2a"/>
<rect x="212.80" y="2324.94" width="11.95" height="20.34" fill="#d02c2a"/>
<rect x="224.75" y="2324.94" width="11.95" height="20.34" fill="#6b69b5"/>
<rect x="236.70" y="2324.94" width="11.95" height="20.34" fill="#d02c2a"/>
<rect x="248.65" y="2324.94" width="11.95" height="20.34" fill="#d02c2a"/>
<rect x="260.60" y="2324.94" width="11.95" height="20.34" fill="#d02c2a"/>
<rect x="272.55" y="2324.94" width="11.95" height="20.34" fill="#efd3d7"/>
<rect x="284.50" y="2324.94" width="11.95" height="20.34" fill="#d02c2a"/>
<rect x="296.45" y="2324.94" width="11.95" height="20.34" fill="#efd3d7"/>
<rect x="308.40" y="2324.94" width="11.95" height="20.34" fill="#d02c2a"/>
<rect x="320.35" y="2324.94" width="11.95" height="20.34" fill="#d02c2a"/>
<rect x="45.50" y="2345.28" width="11.95" height="20.34" fill="#d02c2a"/>
<rect x="57.45" y="2345.28" width="11.95" height="20.34" fill="#d02c2a"/>
<rect x="69.40" y="2345.28" width="11.95" height="20.34" fill="#d02c2a"/>
<rect x="81.35" y="2345.28" width="11.95" height="20.34" fill="#dc767c"/>
<rect x="93.30" y="2345.28" width="11.95" height="20.34" fill="#3a2389"/>
<rect x="105.25" y="2345.28" width="11.95" height="20.34" fill="#d02c2a"/>
<rect x="117.20" y="2345.28" width="11.95" height="20.34" fill="#6b69b5"/>
<rect x="129.15" y="2345.28" width="11.95" height="20.34" fill="#6b69b5"/>
<rect x="141.10" y="2345.28" width="11.95" height="20.34" fill="#6b69b5"/>
<rect x="153.05" y="2345.28" width="11.95" height="20.34" fill="#cccfe6"/>
<rect x="165.00" y="2345.28" width="11.95" height="20.34" fill="#d02c2a"/>
<rect x="176.95" y="2345.28" width="11.95" height="20.34" fill="#6b69b5"/>
<rect x="188.90" y="2345.28" width="11.95" height="20.34" fill="#d02c2a"/>
<rect x="200.85" y="2345.28" width="11.95" height="20.34" fill="#d02c2a"/>
<rect x="212.80" y="2345.28" width="11.95" height="20.34" fill="#d02c2a"/>
<rect x="224.75" y="2345.28" width="11.95" height="20.34" fill="#d02c2a"/>
<rect x="236.70" y="2345.28" width="11.95" height="20.34" fill="#3a2389"/>
<rect x="248.65" y="2345.28" width="11.95" height="20.34" fill="#d02c2a"/>
<rect x="260.60" y="2345.28" width="11.95" height="20.34" fill="#efd3d7"/>
<rect x="272.55" y="2345.28" width="11.95" height="20.34" fill="#d02c2a"/>
<rect x="284.50" y="2345.28" width="11.95" height="20.34" fill="#d02c2a"/>
<rect x="296.45" y="2345.28" width="11.95" height="20.34" fill="#dc767c"/>
<rect x="308.40" y="2345.28" width="11.95" height="20.34" fill="#efd3d7"/>
<rect x="320.35" y="2345.28" width="11.95" height="20.34" fill="#cccfe6"/>
<rect x="45.50" y="2365.62" width="11.95" height="20.34" fill="#d02c2a"/>
<rect x="57.45" y="2365.62" width="11.95" height="20.34" fill="#d02c2a"/>
<rect x="69.40" y="2365.62" width="11.95" height="20.34" fill="#d02c2a"/>
<rect x="81.35" y="2365.62" width="11.95" height="20.34" fill="#d02c2a"/>
<rect x="93.30" y="2365.62" width="11.95" height="20.34" fill="#d02c2a"/>
<rect x="105.25" y="2365.62" width="11.95" height="20.34" fill="#d02c2a"/>
<rect x="117.20" y="2365.62" width="11.95" height="20.34" fill="#d02c2a"/>
<rect x="129.15" y="2365.62" width="11.95" height="20.34" fill="#dc767c"/>
<rect x="141.10" y="2365.62" width="11.95" height="20.34" fill="#d02c2a"/>
<rect x="153.05" y="2365.62" width="11.95" height="20.34" fill="#d02c2a"/>
<rect x="165.00" y="2365.62" width="11.95" height="20.34" fill="#d02c2a"/>
<rect x="176.95" y="2365.62" width="11.95" height="20.34" fill="#d02c2a"/>
<rect x="188.90" y="2365.62" width="11.95" height="20.34" fill="#d02c2a"/>
<rect x="200.85" y="2365.62" width="11.95" height="20.34" fill="#d02c2a"/>
<rect x="212.80" y="2365.62" width="11.95" height="20.34" fill="#d02c2a"/>
<rect x="224.75" y="2365.62" width="11.95" height="20.34" fill="#d02c2a"/>
<rect x="236.70" y="2365.62" width="11.95" height="20.34" fill="#d02c2a"/>
<rect x="248.65" y="2365.62" width="11.95" height="20.34" fill="#d02c2a"/>
<rect x="260.60" y="2365.62" width="11.95" height="20.34" fill="#d02c2a"/>
<rect x="272.55" y="2365.62" width="11.95" height="20.34" fill="#d02c2a"/>
<rect x="284.50" y="2365.62" width="11.95" height="20.34" fill="#d02c2a"/>
<rect x="296.45" y="2365.62" width="11.95" height="20.34" fill="#d02c2a"/>
<rect x="308.40" y="2365.62" width="11.95" height="20.34" fill="#d02c2a"/>
<rect x="320.35" y="2365.62" width="11.95" height="20.34" fill="#d02c2a"/>
<rect x="45.50" y="2385.96" width="11.95" height="20.34" fill="#d02c2a"/>
<rect x="57.45" y="2385.96" width="11.95" height="20.34" fill="#d02c2a"/>
<rect x="69.40" y="2385.96" width="11.95" height="20.34" fill="#d02c2a"/>
<rect x="81.35" y="2385.96" width="11.95" height="20.34" fill="#d02c2a"/>
<rect x="93.30" y="2385.96" width="11.95" height="20.34" fill="#6b69b5"/>
<rect x="105.25" y="2385.96" width="11.95" height="20.34" fill="#d02c2a"/>
<rect x="117.20" y="2385.96" width="11.95" height="20.34" fill="#cccfe6"/>
<rect x="129.15" y="2385.96" width="11.95" height="20.34" fill="#d02c2a"/>
<rect x="141.10" y="2385.96" width="11.95" height="20.34" fill="#d02c2a"/>
<rect x="153.05" y="2385.96" width="11.95" height="20.34" fill="#d02c2a"/>
<rect x="165.00" y="2385.96" width="11.95" height="20.34" fill="#d02c2a"/>
<rect x="176.95" y="2385.96" width="11.95" height="20.34" fill="#dc767c"/>
<rect x="188.90" y="2385.96" width="11.95" height="20.34" fill="#d02c2a"/>
<rect x="200.85" y="2385.96" width="11.95" height="20.34" fill="#d02c2a"/>
<rect x="212.80" y="2385.96" width="11.95" height="20.34" fill="#d02c2a"/>
<rect x="224.75" y="2385.96" width="11.95" height="20.34" fill="#d02c2a"/>
<rect x="236.70" y="2385.96" width="11.95" height="20.34" fill="#efd3d7"/>
<rect x="248.65" y="2385.96" width="11.95" height="20.34" fill="#dc767c"/>
<rect x="260.60" y="2385.96" width="11.95" height="20.34" fill="#d02c2a"/>
<rect x="272.55" y="2385.96" width="11.95" height="20.34" fill="#d02c2a"/>
<rect x="284.50" y="2385.96" width="11.95" height="20.34" fill="#d02c2a"/>
<rect x="296.45" y="2385.96" width="11.95" height="20.34" fill="#dc767c"/>
<rect x="308.40" y="2385.96" width="11.95" height="20.34" fill="#d02c2a"/>
<rect x="320.35" y="2385.96" width="11.95" height="20.34" fill="#d02c2a"/>
</g>
<g font-size="19.4">
<text x="340.7" y="2015.6">PCNA</text>
<text x="340.7" y="2035.9">Scl-70</text>
<text x="340.7" y="2056.2">SSB/La</text>
<text x="340.7" y="2076.6">C1q</text>
<text x="340.7" y="2096.9">Mi-2</text>
<text x="340.7" y="2117.3">Ku</text>
<text x="340.7" y="2137.6">PL-12</text>
<text x="340.7" y="2158.0">SSA/Ro60</text>
<text x="340.7" y="2178.3">Sm</text>
<text x="340.7" y="2198.6">Proteinase 3</text>
<text x="340.7" y="2219.0">β2-Glycoprotein</text>
<text x="340.7" y="2239.3">RNP/Sm</text>
<text x="340.7" y="2259.7">Myeloperoxidase</text>
<text x="340.7" y="2280.0">Ribosomal P</text>
<text x="340.7" y="2300.3">PM/Scl-100</text>
<text x="340.7" y="2320.7">SSA/Ro52</text>
<text x="340.7" y="2341.0">CENP-A</text>
<text x="340.7" y="2361.3">CENP-B</text>
<text x="340.7" y="2381.7">RNP</text>
<text x="340.7" y="2402.0">Jo-1</text>
</g>
<g stroke="#9a9a9a" stroke-width="0.9">
<rect x="532.70" y="1999.50" width="20.48" height="20.33" fill="#6b69b5"/>
<rect x="553.18" y="1999.50" width="20.48" height="20.33" fill="#6b69b5"/>
<rect x="573.66" y="1999.50" width="20.48" height="20.33" fill="#d02c2a"/>
<rect x="594.14" y="1999.50" width="20.48" height="20.33" fill="#d02c2a"/>
<rect x="614.62" y="1999.50" width="20.48" height="20.33" fill="#d02c2a"/>
<rect x="635.10" y="1999.50" width="20.48" height="20.33" fill="#efd3d7"/>
<rect x="655.58" y="1999.50" width="20.48" height="20.33" fill="#d02c2a"/>
<rect x="676.06" y="1999.50" width="20.48" height="20.33" fill="#d02c2a"/>
<rect x="696.54" y="1999.50" width="20.48" height="20.33" fill="#d02c2a"/>
<rect x="717.02" y="1999.50" width="20.48" height="20.33" fill="#d02c2a"/>
<rect x="737.50" y="1999.50" width="20.48" height="20.33" fill="#d02c2a"/>
<rect x="757.98" y="1999.50" width="20.48" height="20.33" fill="#6b69b5"/>
<rect x="778.46" y="1999.50" width="20.48" height="20.33" fill="#d02c2a"/>
<rect x="798.94" y="1999.50" width="20.48" height="20.33" fill="#d02c2a"/>
<rect x="532.70" y="2019.83" width="20.48" height="20.33" fill="#6b69b5"/>
<rect x="553.18" y="2019.83" width="20.48" height="20.33" fill="#cccfe6"/>
<rect x="573.66" y="2019.83" width="20.48" height="20.33" fill="#d02c2a"/>
<rect x="594.14" y="2019.83" width="20.48" height="20.33" fill="#d02c2a"/>
<rect x="614.62" y="2019.83" width="20.48" height="20.33" fill="#3a2389"/>
<rect x="635.10" y="2019.83" width="20.48" height="20.33" fill="#d02c2a"/>
<rect x="655.58" y="2019.83" width="20.48" height="20.33" fill="#d02c2a"/>
<rect x="676.06" y="2019.83" width="20.48" height="20.33" fill="#cccfe6"/>
<rect x="696.54" y="2019.83" width="20.48" height="20.33" fill="#cccfe6"/>
<rect x="717.02" y="2019.83" width="20.48" height="20.33" fill="#d02c2a"/>
<rect x="737.50" y="2019.83" width="20.48" height="20.33" fill="#6b69b5"/>
<rect x="757.98" y="2019.83" width="20.48" height="20.33" fill="#dc767c"/>
<rect x="778.46" y="2019.83" width="20.48" height="20.33" fill="#cccfe6"/>
<rect x="798.94" y="2019.83" width="20.48" height="20.33" fill="#cccfe6"/>
<rect x="532.70" y="2040.16" width="20.48" height="20.33" fill="#3a2389"/>
<rect x="553.18" y="2040.16" width="20.48" height="20.33" fill="#6b69b5"/>
<rect x="573.66" y="2040.16" width="20.48" height="20.33" fill="#d02c2a"/>
<rect x="594.14" y="2040.16" width="20.48" height="20.33" fill="#d02c2a"/>
<rect x="614.62" y="2040.16" width="20.48" height="20.33" fill="#3a2389"/>
<rect x="635.10" y="2040.16" width="20.48" height="20.33" fill="#d02c2a"/>
<rect x="655.58" y="2040.16" width="20.48" height="20.33" fill="#cccfe6"/>
<rect x="676.06" y="2040.16" width="20.48" height="20.33" fill="#cccfe6"/>
<rect x="696.54" y="2040.16" width="20.48" height="20.33" fill="#cccfe6"/>
<rect x="717.02" y="2040.16" width="20.48" height="20.33" fill="#efd3d7"/>
<rect x="737.50" y="2040.16" width="20.48" height="20.33" fill="#efd3d7"/>
<rect x="757.98" y="2040.16" width="20.48" height="20.33" fill="#d02c2a"/>
<rect x="778.46" y="2040.16" width="20.48" height="20.33" fill="#d02c2a"/>
<rect x="798.94" y="2040.16" width="20.48" height="20.33" fill="#3a2389"/>
<rect x="532.70" y="2060.49" width="20.48" height="20.33" fill="#dc767c"/>
<rect x="553.18" y="2060.49" width="20.48" height="20.33" fill="#3a2389"/>
<rect x="573.66" y="2060.49" width="20.48" height="20.33" fill="#d02c2a"/>
<rect x="594.14" y="2060.49" width="20.48" height="20.33" fill="#d02c2a"/>
<rect x="614.62" y="2060.49" width="20.48" height="20.33" fill="#efd3d7"/>
<rect x="635.10" y="2060.49" width="20.48" height="20.33" fill="#d02c2a"/>
<rect x="655.58" y="2060.49" width="20.48" height="20.33" fill="#cccfe6"/>
<rect x="676.06" y="2060.49" width="20.48" height="20.33" fill="#d02c2a"/>
<rect x="696.54" y="2060.49" width="20.48" height="20.33" fill="#d02c2a"/>
<rect x="717.02" y="2060.49" width="20.48" height="20.33" fill="#cccfe6"/>
<rect x="737.50" y="2060.49" width="20.48" height="20.33" fill="#d02c2a"/>
<rect x="757.98" y="2060.49" width="20.48" height="20.33" fill="#d02c2a"/>
<rect x="778.46" y="2060.49" width="20.48" height="20.33" fill="#d02c2a"/>
<rect x="798.94" y="2060.49" width="20.48" height="20.33" fill="#d02c2a"/>
<rect x="532.70" y="2080.82" width="20.48" height="20.33" fill="#cccfe6"/>
<rect x="553.18" y="2080.82" width="20.48" height="20.33" fill="#6b69b5"/>
<rect x="573.66" y="2080.82" width="20.48" height="20.33" fill="#efd3d7"/>
<rect x="594.14" y="2080.82" width="20.48" height="20.33" fill="#d02c2a"/>
<rect x="614.62" y="2080.82" width="20.48" height="20.33" fill="#6b69b5"/>
<rect x="635.10" y="2080.82" width="20.48" height="20.33" fill="#efd3d7"/>
<rect x="655.58" y="2080.82" width="20.48" height="20.33" fill="#cccfe6"/>
<rect x="676.06" y="2080.82" width="20.48" height="20.33" fill="#d02c2a"/>
<rect x="696.54" y="2080.82" width="20.48" height="20.33" fill="#d02c2a"/>
<rect x="717.02" y="2080.82" width="20.48" height="20.33" fill="#d02c2a"/>
<rect x="737.50" y="2080.82" width="20.48" height="20.33" fill="#cccfe6"/>
<rect x="757.98" y="2080.82" width="20.48" height="20.33" fill="#6b69b5"/>
<rect x="778.46" y="2080.82" width="20.48" height="20.33" fill="#d02c2a"/>
<rect x="798.94" y="2080.82" width="20.48" height="20.33" fill="#dc767c"/>
<rect x="532.70" y="2101.15" width="20.48" height="20.33" fill="#d02c2a"/>
<rect x="553.18" y="2101.15" width="20.48" height="20.33" fill="#3a2389"/>
<rect x="573.66" y="2101.15" width="20.48" height="20.33" fill="#cccfe6"/>
<rect x="594.14" y="2101.15" width="20.48" height="20.33" fill="#d02c2a"/>
<rect x="614.62" y="2101.15" width="20.48" height="20.33" fill="#6b69b5"/>
<rect x="635.10" y="2101.15" width="20.48" height="20.33" fill="#d02c2a"/>
<rect x="655.58" y="2101.15" width="20.48" height="20.33" fill="#cccfe6"/>
<rect x="676.06" y="2101.15" width="20.48" height="20.33" fill="#6b69b5"/>
<rect x="696.54" y="2101.15" width="20.48" height="20.33" fill="#dc767c"/>
<rect x="717.02" y="2101.15" width="20.48" height="20.33" fill="#efd3d7"/>
<rect x="737.50" y="2101.15" width="20.48" height="20.33" fill="#d02c2a"/>
<rect x="757.98" y="2101.15" width="20.48" height="20.33" fill="#6b69b5"/>
<rect x="778.46" y="2101.15" width="20.48" height="20.33" fill="#cccfe6"/>
<rect x="798.94" y="2101.15" width="20.48" height="20.33" fill="#d02c2a"/>
<rect x="532.70" y="2121.48" width="20.48" height="20.33" fill="#dc767c"/>
<rect x="553.18" y="2121.48" width="20.48" height="20.33" fill="#3a2389"/>
<rect x="573.66" y="2121.48" width="20.48" height="20.33" fill="#cccfe6"/>
<rect x="594.14" y="2121.48" width="20.48" height="20.33" fill="#d02c2a"/>
<rect x="614.62" y="2121.48" width="20.48" height="20.33" fill="#3a2389"/>
<rect x="635.10" y="2121.48" width="20.48" height="20.33" fill="#d02c2a"/>
<rect x="655.58" y="2121.48" width="20.48" height="20.33" fill="#dc767c"/>
<rect x="676.06" y="2121.48" width="20.48" height="20.33" fill="#3a2389"/>
<rect x="696.54" y="2121.48" width="20.48" height="20.33" fill="#d02c2a"/>
<rect x="717.02" y="2121.48" width="20.48" height="20.33" fill="#d02c2a"/>
<rect x="737.50" y="2121.48" width="20.48" height="20.33" fill="#d02c2a"/>
<rect x="757.98" y="2121.48" width="20.48" height="20.33" fill="#d02c2a"/>
<rect x="778.46" y="2121.48" width="20.48" height="20.33" fill="#d02c2a"/>
<rect x="798.94" y="2121.48" width="20.48" height="20.33" fill="#6b69b5"/>
<rect x="532.70" y="2141.81" width="20.48" height="20.33" fill="#6b69b5"/>
<rect x="553.18" y="2141.81" width="20.48" height="20.33" fill="#efd3d7"/>
<rect x="573.66" y="2141.81" width="20.48" height="20.33" fill="#3a2389"/>
<rect x="594.14" y="2141.81" width="20.48" height="20.33" fill="#d02c2a"/>
<rect x="614.62" y="2141.81" width="20.48" height="20.33" fill="#3a2389"/>
<rect x="635.10" y="2141.81" width="20.48" height="20.33" fill="#3a2389"/>
<rect x="655.58" y="2141.81" width="20.48" height="20.33" fill="#d02c2a"/>
<rect x="676.06" y="2141.81" width="20.48" height="20.33" fill="#6b69b5"/>
<rect x="696.54" y="2141.81" width="20.48" height="20.33" fill="#d02c2a"/>
<rect x="717.02" y="2141.81" width="20.48" height="20.33" fill="#6b69b5"/>
<rect x="737.50" y="2141.81" width="20.48" height="20.33" fill="#3a2389"/>
<rect x="757.98" y="2141.81" width="20.48" height="20.33" fill="#3a2389"/>
<rect x="778.46" y="2141.81" width="20.48" height="20.33" fill="#6b69b5"/>
<rect x="798.94" y="2141.81" width="20.48" height="20.33" fill="#cccfe6"/>
<rect x="532.70" y="2162.14" width="20.48" height="20.33" fill="#3a2389"/>
<rect x="553.18" y="2162.14" width="20.48" height="20.33" fill="#3a2389"/>
<rect x="573.66" y="2162.14" width="20.48" height="20.33" fill="#3a2389"/>
<rect x="594.14" y="2162.14" width="20.48" height="20.33" fill="#cccfe6"/>
<rect x="614.62" y="2162.14" width="20.48" height="20.33" fill="#3a2389"/>
<rect x="635.10" y="2162.14" width="20.48" height="20.33" fill="#d02c2a"/>
<rect x="655.58" y="2162.14" width="20.48" height="20.33" fill="#3a2389"/>
<rect x="676.06" y="2162.14" width="20.48" height="20.33" fill="#3a2389"/>
<rect x="696.54" y="2162.14" width="20.48" height="20.33" fill="#3a2389"/>
<rect x="717.02" y="2162.14" width="20.48" height="20.33" fill="#3a2389"/>
<rect x="737.50" y="2162.14" width="20.48" height="20.33" fill="#cccfe6"/>
<rect x="757.98" y="2162.14" width="20.48" height="20.33" fill="#3a2389"/>
<rect x="778.46" y="2162.14" width="20.48" height="20.33" fill="#3a2389"/>
<rect x="798.94" y="2162.14" width="20.48" height="20.33" fill="#6b69b5"/>
<rect x="532.70" y="2182.47" width="20.48" height="20.33" fill="#3a2389"/>
<rect x="553.18" y="2182.47" width="20.48" height="20.33" fill="#3a2389"/>
<rect x="573.66" y="2182.47" width="20.48" height="20.33" fill="#3a2389"/>
<rect x="594.14" y="2182.47" width="20.48" height="20.33" fill="#3a2389"/>
<rect x="614.62" y="2182.47" width="20.48" height="20.33" fill="#6b69b5"/>
<rect x="635.10" y="2182.47" width="20.48" height="20.33" fill="#3a2389"/>
<rect x="655.58" y="2182.47" width="20.48" height="20.33" fill="#3a2389"/>
<rect x="676.06" y="2182.47" width="20.48" height="20.33" fill="#3a2389"/>
<rect x="696.54" y="2182.47" width="20.48" height="20.33" fill="#3a2389"/>
<rect x="717.02" y="2182.47" width="20.48" height="20.33" fill="#3a2389"/>
<rect x="737.50" y="2182.47" width="20.48" height="20.33" fill="#3a2389"/>
<rect x="757.98" y="2182.47" width="20.48" height="20.33" fill="#3a2389"/>
<rect x="778.46" y="2182.47" width="20.48" height="20.33" fill="#3a2389"/>
<rect x="798.94" y="2182.47" width="20.48" height="20.33" fill="#3a2389"/>
<rect x="532.70" y="2202.80" width="20.48" height="20.33" fill="#3a2389"/>
<rect x="553.18" y="2202.80" width="20.48" height="20.33" fill="#3a2389"/>
<rect x="573.66" y="2202.80" width="20.48" height="20.33" fill="#3a2389"/>
<rect x="594.14" y="2202.80" width="20.48" height="20.33" fill="#cccfe6"/>
<rect x="614.62" y="2202.80" width="20.48" height="20.33" fill="#3a2389"/>
<rect x="635.10" y="2202.80" width="20.48" height="20.33" fill="#3a2389"/>
<rect x="655.58" y="2202.80" width="20.48" height="20.33" fill="#3a2389"/>
<rect x="676.06" y="2202.80" width="20.48" height="20.33" fill="#3a2389"/>
<rect x="696.54" y="2202.80" width="20.48" height="20.33" fill="#3a2389"/>
<rect x="717.02" y="2202.80" width="20.48" height="20.33" fill="#3a2389"/>
<rect x="737.50" y="2202.80" width="20.48" height="20.33" fill="#3a2389"/>
<rect x="757.98" y="2202.80" width="20.48" height="20.33" fill="#3a2389"/>
<rect x="778.46" y="2202.80" width="20.48" height="20.33" fill="#3a2389"/>
<rect x="798.94" y="2202.80" width="20.48" height="20.33" fill="#3a2389"/>
<rect x="532.70" y="2223.13" width="20.48" height="20.33" fill="#3a2389"/>
<rect x="553.18" y="2223.13" width="20.48" height="20.33" fill="#3a2389"/>
<rect x="573.66" y="2223.13" width="20.48" height="20.33" fill="#3a2389"/>
<rect x="594.14" y="2223.13" width="20.48" height="20.33" fill="#efd3d7"/>
<rect x="614.62" y="2223.13" width="20.48" height="20.33" fill="#3a2389"/>
<rect x="635.10" y="2223.13" width="20.48" height="20.33" fill="#3a2389"/>
<rect x="655.58" y="2223.13" width="20.48" height="20.33" fill="#3a2389"/>
<rect x="676.06" y="2223.13" width="20.48" height="20.33" fill="#3a2389"/>
<rect x="696.54" y="2223.13" width="20.48" height="20.33" fill="#3a2389"/>
<rect x="717.02" y="2223.13" width="20.48" height="20.33" fill="#6b69b5"/>
<rect x="737.50" y="2223.13" width="20.48" height="20.33" fill="#3a2389"/>
<rect x="757.98" y="2223.13" width="20.48" height="20.33" fill="#3a2389"/>
<rect x="778.46" y="2223.13" width="20.48" height="20.33" fill="#3a2389"/>
<rect x="798.94" y="2223.13" width="20.48" height="20.33" fill="#3a2389"/>
<rect x="532.70" y="2243.46" width="20.48" height="20.33" fill="#3a2389"/>
<rect x="553.18" y="2243.46" width="20.48" height="20.33" fill="#3a2389"/>
<rect x="573.66" y="2243.46" width="20.48" height="20.33" fill="#cccfe6"/>
<rect x="594.14" y="2243.46" width="20.48" height="20.33" fill="#d02c2a"/>
<rect x="614.62" y="2243.46" width="20.48" height="20.33" fill="#3a2389"/>
<rect x="635.10" y="2243.46" width="20.48" height="20.33" fill="#6b69b5"/>
<rect x="655.58" y="2243.46" width="20.48" height="20.33" fill="#cccfe6"/>
<rect x="676.06" y="2243.46" width="20.48" height="20.33" fill="#6b69b5"/>
<rect x="696.54" y="2243.46" width="20.48" height="20.33" fill="#6b69b5"/>
<rect x="717.02" y="2243.46" width="20.48" height="20.33" fill="#d02c2a"/>
<rect x="737.50" y="2243.46" width="20.48" height="20.33" fill="#6b69b5"/>
<rect x="757.98" y="2243.46" width="20.48" height="20.33" fill="#3a2389"/>
<rect x="778.46" y="2243.46" width="20.48" height="20.33" fill="#d02c2a"/>
<rect x="798.94" y="2243.46" width="20.48" height="20.33" fill="#3a2389"/>
<rect x="532.70" y="2263.79" width="20.48" height="20.33" fill="#3a2389"/>
<rect x="553.18" y="2263.79" width="20.48" height="20.33" fill="#3a2389"/>
<rect x="573.66" y="2263.79" width="20.48" height="20.33" fill="#efd3d7"/>
<rect x="594.14" y="2263.79" width="20.48" height="20.33" fill="#d02c2a"/>
<rect x="614.62" y="2263.79" width="20.48" height="20.33" fill="#3a2389"/>
<rect x="635.10" y="2263.79" width="20.48" height="20.33" fill="#d02c2a"/>
<rect x="655.58" y="2263.79" width="20.48" height="20.33" fill="#6b69b5"/>
<rect x="676.06" y="2263.79" width="20.48" height="20.33" fill="#6b69b5"/>
<rect x="696.54" y="2263.79" width="20.48" height="20.33" fill="#6b69b5"/>
<rect x="717.02" y="2263.79" width="20.48" height="20.33" fill="#cccfe6"/>
<rect x="737.50" y="2263.79" width="20.48" height="20.33" fill="#3a2389"/>
<rect x="757.98" y="2263.79" width="20.48" height="20.33" fill="#3a2389"/>
<rect x="778.46" y="2263.79" width="20.48" height="20.33" fill="#3a2389"/>
<rect x="798.94" y="2263.79" width="20.48" height="20.33" fill="#3a2389"/>
<rect x="532.70" y="2284.12" width="20.48" height="20.33" fill="#d02c2a"/>
<rect x="553.18" y="2284.12" width="20.48" height="20.33" fill="#d02c2a"/>
<rect x="573.66" y="2284.12" width="20.48" height="20.33" fill="#d02c2a"/>
<rect x="594.14" y="2284.12" width="20.48" height="20.33" fill="#d02c2a"/>
<rect x="614.62" y="2284.12" width="20.48" height="20.33" fill="#6b69b5"/>
<rect x="635.10" y="2284.12" width="20.48" height="20.33" fill="#cccfe6"/>
<rect x="655.58" y="2284.12" width="20.48" height="20.33" fill="#d02c2a"/>
<rect x="676.06" y="2284.12" width="20.48" height="20.33" fill="#d02c2a"/>
<rect x="696.54" y="2284.12" width="20.48" height="20.33" fill="#d02c2a"/>
<rect x="717.02" y="2284.12" width="20.48" height="20.33" fill="#d02c2a"/>
<rect x="737.50" y="2284.12" width="20.48" height="20.33" fill="#d02c2a"/>
<rect x="757.98" y="2284.12" width="20.48" height="20.33" fill="#dc767c"/>
<rect x="778.46" y="2284.12" width="20.48" height="20.33" fill="#d02c2a"/>
<rect x="798.94" y="2284.12" width="20.48" height="20.33" fill="#efd3d7"/>
<rect x="532.70" y="2304.45" width="20.48" height="20.33" fill="#dc767c"/>
<rect x="553.18" y="2304.45" width="20.48" height="20.33" fill="#3a2389"/>
<rect x="573.66" y="2304.45" width="20.48" height="20.33" fill="#d02c2a"/>
<rect x="594.14" y="2304.45" width="20.48" height="20.33" fill="#d02c2a"/>
<rect x="614.62" y="2304.45" width="20.48" height="20.33" fill="#efd3d7"/>
<rect x="635.10" y="2304.45" width="20.48" height="20.33" fill="#efd3d7"/>
<rect x="655.58" y="2304.45" width="20.48" height="20.33" fill="#d02c2a"/>
<rect x="676.06" y="2304.45" width="20.48" height="20.33" fill="#d02c2a"/>
<rect x="696.54" y="2304.45" width="20.48" height="20.33" fill="#d02c2a"/>
<rect x="717.02" y="2304.45" width="20.48" height="20.33" fill="#d02c2a"/>
<rect x="737.50" y="2304.45" width="20.48" height="20.33" fill="#d02c2a"/>
<rect x="757.98" y="2304.45" width="20.48" height="20.33" fill="#dc767c"/>
<rect x="778.46" y="2304.45" width="20.48" height="20.33" fill="#d02c2a"/>
<rect x="798.94" y="2304.45" width="20.48" height="20.33" fill="#efd3d7"/>
<rect x="532.70" y="2324.78" width="20.48" height="20.33" fill="#cccfe6"/>
<rect x="553.18" y="2324.78" width="20.48" height="20.33" fill="#3a2389"/>
<rect x="573.66" y="2324.78" width="20.48" height="20.33" fill="#d02c2a"/>
<rect x="594.14" y="2324.78" width="20.48" height="20.33" fill="#d02c2a"/>
<rect x="614.62" y="2324.78" width="20.48" height="20.33" fill="#cccfe6"/>
<rect x="635.10" y="2324.78" width="20.48" height="20.33" fill="#d02c2a"/>
<rect x="655.58" y="2324.78" width="20.48" height="20.33" fill="#d02c2a"/>
<rect x="676.06" y="2324.78" width="20.48" height="20.33" fill="#d02c2a"/>
<rect x="696.54" y="2324.78" width="20.48" height="20.33" fill="#d02c2a"/>
<rect x="717.02" y="2324.78" width="20.48" height="20.33" fill="#d02c2a"/>
<rect x="737.50" y="2324.78" width="20.48" height="20.33" fill="#d02c2a"/>
<rect x="757.98" y="2324.78" width="20.48" height="20.33" fill="#dc767c"/>
<rect x="778.46" y="2324.78" width="20.48" height="20.33" fill="#d02c2a"/>
<rect x="798.94" y="2324.78" width="20.48" height="20.33" fill="#dc767c"/>
<rect x="532.70" y="2345.11" width="20.48" height="20.33" fill="#d02c2a"/>
<rect x="553.18" y="2345.11" width="20.48" height="20.33" fill="#6b69b5"/>
<rect x="573.66" y="2345.11" width="20.48" height="20.33" fill="#d02c2a"/>
<rect x="594.14" y="2345.11" width="20.48" height="20.33" fill="#d02c2a"/>
<rect x="614.62" y="2345.11" width="20.48" height="20.33" fill="#cccfe6"/>
<rect x="635.10" y="2345.11" width="20.48" height="20.33" fill="#d02c2a"/>
<rect x="655.58" y="2345.11" width="20.48" height="20.33" fill="#d02c2a"/>
<rect x="676.06" y="2345.11" width="20.48" height="20.33" fill="#d02c2a"/>
<rect x="696.54" y="2345.11" width="20.48" height="20.33" fill="#d02c2a"/>
<rect x="717.02" y="2345.11" width="20.48" height="20.33" fill="#d02c2a"/>
<rect x="737.50" y="2345.11" width="20.48" height="20.33" fill="#d02c2a"/>
<rect x="757.98" y="2345.11" width="20.48" height="20.33" fill="#efd3d7"/>
<rect x="778.46" y="2345.11" width="20.48" height="20.33" fill="#d02c2a"/>
<rect x="798.94" y="2345.11" width="20.48" height="20.33" fill="#d02c2a"/>
<rect x="532.70" y="2365.44" width="20.48" height="20.33" fill="#cccfe6"/>
<rect x="553.18" y="2365.44" width="20.48" height="20.33" fill="#6b69b5"/>
<rect x="573.66" y="2365.44" width="20.48" height="20.33" fill="#d02c2a"/>
<rect x="594.14" y="2365.44" width="20.48" height="20.33" fill="#d02c2a"/>
<rect x="614.62" y="2365.44" width="20.48" height="20.33" fill="#3a2389"/>
<rect x="635.10" y="2365.44" width="20.48" height="20.33" fill="#d02c2a"/>
<rect x="655.58" y="2365.44" width="20.48" height="20.33" fill="#d02c2a"/>
<rect x="676.06" y="2365.44" width="20.48" height="20.33" fill="#cccfe6"/>
<rect x="696.54" y="2365.44" width="20.48" height="20.33" fill="#d02c2a"/>
<rect x="717.02" y="2365.44" width="20.48" height="20.33" fill="#d02c2a"/>
<rect x="737.50" y="2365.44" width="20.48" height="20.33" fill="#d02c2a"/>
<rect x="757.98" y="2365.44" width="20.48" height="20.33" fill="#dc767c"/>
<rect x="778.46" y="2365.44" width="20.48" height="20.33" fill="#d02c2a"/>
<rect x="798.94" y="2365.44" width="20.48" height="20.33" fill="#dc767c"/>
<rect x="532.70" y="2385.77" width="20.48" height="20.33" fill="#d02c2a"/>
<rect x="553.18" y="2385.77" width="20.48" height="20.33" fill="#d02c2a"/>
<rect x="573.66" y="2385.77" width="20.48" height="20.33" fill="#d02c2a"/>
<rect x="594.14" y="2385.77" width="20.48" height="20.33" fill="#d02c2a"/>
<rect x="614.62" y="2385.77" width="20.48" height="20.33" fill="#efd3d7"/>
<rect x="635.10" y="2385.77" width="20.48" height="20.33" fill="#d02c2a"/>
<rect x="655.58" y="2385.77" width="20.48" height="20.33" fill="#d02c2a"/>
<rect x="676.06" y="2385.77" width="20.48" height="20.33" fill="#d02c2a"/>
<rect x="696.54" y="2385.77" width="20.48" height="20.33" fill="#d02c2a"/>
<rect x="717.02" y="2385.77" width="20.48" height="20.33" fill="#d02c2a"/>
<rect x="737.50" y="2385.77" width="20.48" height="20.33" fill="#d02c2a"/>
<rect x="757.98" y="2385.77" width="20.48" height="20.33" fill="#d02c2a"/>
<rect x="778.46" y="2385.77" width="20.48" height="20.33" fill="#d02c2a"/>
<rect x="798.94" y="2385.77" width="20.48" height="20.33" fill="#d02c2a"/>
</g>
<g font-size="19.4">
<text x="827.7" y="2015.6">Ku</text>
<text x="827.7" y="2035.9">C1q</text>
<text x="827.7" y="2056.2">CENP-A</text>
<text x="827.7" y="2076.6">PCNA</text>
<text x="827.7" y="2096.9">SSB/La</text>
<text x="827.7" y="2117.2">Sm</text>
<text x="827.7" y="2137.5">CENP-B</text>
<text x="827.7" y="2157.9">SSA/Ro60</text>
<text x="827.7" y="2178.2">RNP/Sm</text>
<text x="827.7" y="2198.5">Myeloperoxidase</text>
<text x="827.7" y="2218.9">Ribosomal P</text>
<text x="827.7" y="2239.2">PM/Scl-100</text>
<text x="827.7" y="2259.5">Proteinase 3</text>
<text x="827.7" y="2279.9">β2-Glycoprotein</text>
<text x="827.7" y="2300.2">Scl-70</text>
<text x="827.7" y="2320.5">Mi-2</text>
<text x="827.7" y="2340.8">PL-12</text>
<text x="827.7" y="2361.2">Jo-1</text>
<text x="827.7" y="2381.5">SSA/Ro52</text>
<text x="827.7" y="2401.8">RNP</text>
</g>
<g stroke="#9a9a9a" stroke-width="0.9">
<rect x="1031.80" y="1999.50" width="28.87" height="20.50" fill="#d02c2a"/>
<rect x="1060.67" y="1999.50" width="28.87" height="20.50" fill="#efd3d7"/>
<rect x="1089.54" y="1999.50" width="28.87" height="20.50" fill="#d02c2a"/>
<rect x="1118.41" y="1999.50" width="28.87" height="20.50" fill="#d02c2a"/>
<rect x="1147.28" y="1999.50" width="28.87" height="20.50" fill="#d02c2a"/>
<rect x="1176.15" y="1999.50" width="28.87" height="20.50" fill="#d02c2a"/>
<rect x="1205.02" y="1999.50" width="28.87" height="20.50" fill="#d02c2a"/>
<rect x="1233.89" y="1999.50" width="28.87" height="20.50" fill="#d02c2a"/>
<rect x="1262.76" y="1999.50" width="28.87" height="20.50" fill="#d02c2a"/>
<rect x="1291.63" y="1999.50" width="28.87" height="20.50" fill="#d02c2a"/>
<rect x="1031.80" y="2020.00" width="28.87" height="20.50" fill="#d02c2a"/>
<rect x="1060.67" y="2020.00" width="28.87" height="20.50" fill="#cccfe6"/>
<rect x="1089.54" y="2020.00" width="28.87" height="20.50" fill="#d02c2a"/>
<rect x="1118.41" y="2020.00" width="28.87" height="20.50" fill="#d02c2a"/>
<rect x="1147.28" y="2020.00" width="28.87" height="20.50" fill="#d02c2a"/>
<rect x="1176.15" y="2020.00" width="28.87" height="20.50" fill="#d02c2a"/>
<rect x="1205.02" y="2020.00" width="28.87" height="20.50" fill="#d02c2a"/>
<rect x="1233.89" y="2020.00" width="28.87" height="20.50" fill="#d02c2a"/>
<rect x="1262.76" y="2020.00" width="28.87" height="20.50" fill="#efd3d7"/>
<rect x="1291.63" y="2020.00" width="28.87" height="20.50" fill="#d02c2a"/>
<rect x="1031.80" y="2040.50" width="28.87" height="20.50" fill="#d02c2a"/>
<rect x="1060.67" y="2040.50" width="28.87" height="20.50" fill="#d02c2a"/>
<rect x="1089.54" y="2040.50" width="28.87" height="20.50" fill="#efd3d7"/>
<rect x="1118.41" y="2040.50" width="28.87" height="20.50" fill="#d02c2a"/>
<rect x="1147.28" y="2040.50" width="28.87" height="20.50" fill="#d02c2a"/>
<rect x="1176.15" y="2040.50" width="28.87" height="20.50" fill="#d02c2a"/>
<rect x="1205.02" y="2040.50" width="28.87" height="20.50" fill="#d02c2a"/>
<rect x="1233.89" y="2040.50" width="28.87" height="20.50" fill="#d02c2a"/>
<rect x="1262.76" y="2040.50" width="28.87" height="20.50" fill="#6b69b5"/>
<rect x="1291.63" y="2040.50" width="28.87" height="20.50" fill="#d02c2a"/>
<rect x="1031.80" y="2061.00" width="28.87" height="20.50" fill="#d02c2a"/>
<rect x="1060.67" y="2061.00" width="28.87" height="20.50" fill="#6b69b5"/>
<rect x="1089.54" y="2061.00" width="28.87" height="20.50" fill="#cccfe6"/>
<rect x="1118.41" y="2061.00" width="28.87" height="20.50" fill="#d02c2a"/>
<rect x="1147.28" y="2061.00" width="28.87" height="20.50" fill="#d02c2a"/>
<rect x="1176.15" y="2061.00" width="28.87" height="20.50" fill="#d02c2a"/>
<rect x="1205.02" y="2061.00" width="28.87" height="20.50" fill="#d02c2a"/>
<rect x="1233.89" y="2061.00" width="28.87" height="20.50" fill="#d02c2a"/>
<rect x="1262.76" y="2061.00" width="28.87" height="20.50" fill="#dc767c"/>
<rect x="1291.63" y="2061.00" width="28.87" height="20.50" fill="#efd3d7"/>
<rect x="1031.80" y="2081.50" width="28.87" height="20.50" fill="#d02c2a"/>
<rect x="1060.67" y="2081.50" width="28.87" height="20.50" fill="#efd3d7"/>
<rect x="1089.54" y="2081.50" width="28.87" height="20.50" fill="#efd3d7"/>
<rect x="1118.41" y="2081.50" width="28.87" height="20.50" fill="#d02c2a"/>
<rect x="1147.28" y="2081.50" width="28.87" height="20.50" fill="#d02c2a"/>
<rect x="1176.15" y="2081.50" width="28.87" height="20.50" fill="#d02c2a"/>
<rect x="1205.02" y="2081.50" width="28.87" height="20.50" fill="#d02c2a"/>
<rect x="1233.89" y="2081.50" width="28.87" height="20.50" fill="#d02c2a"/>
<rect x="1262.76" y="2081.50" width="28.87" height="20.50" fill="#dc767c"/>
<rect x="1291.63" y="2081.50" width="28.87" height="20.50" fill="#efd3d7"/>
<rect x="1031.80" y="2102.00" width="28.87" height="20.50" fill="#d02c2a"/>
<rect x="1060.67" y="2102.00" width="28.87" height="20.50" fill="#cccfe6"/>
<rect x="1089.54" y="2102.00" width="28.87" height="20.50" fill="#d02c2a"/>
<rect x="1118.41" y="2102.00" width="28.87" height="20.50" fill="#d02c2a"/>
<rect x="1147.28" y="2102.00" width="28.87" height="20.50" fill="#d02c2a"/>
<rect x="1176.15" y="2102.00" width="28.87" height="20.50" fill="#d02c2a"/>
<rect x="1205.02" y="2102.00" width="28.87" height="20.50" fill="#d02c2a"/>
<rect x="1233.89" y="2102.00" width="28.87" height="20.50" fill="#d02c2a"/>
<rect x="1262.76" y="2102.00" width="28.87" height="20.50" fill="#dc767c"/>
<rect x="1291.63" y="2102.00" width="28.87" height="20.50" fill="#dc767c"/>
<rect x="1031.80" y="2122.50" width="28.87" height="20.50" fill="#d02c2a"/>
<rect x="1060.67" y="2122.50" width="28.87" height="20.50" fill="#3a2389"/>
<rect x="1089.54" y="2122.50" width="28.87" height="20.50" fill="#d02c2a"/>
<rect x="1118.41" y="2122.50" width="28.87" height="20.50" fill="#d02c2a"/>
<rect x="1147.28" y="2122.50" width="28.87" height="20.50" fill="#cccfe6"/>
<rect x="1176.15" y="2122.50" width="28.87" height="20.50" fill="#cccfe6"/>
<rect x="1205.02" y="2122.50" width="28.87" height="20.50" fill="#d02c2a"/>
<rect x="1233.89" y="2122.50" width="28.87" height="20.50" fill="#6b69b5"/>
<rect x="1262.76" y="2122.50" width="28.87" height="20.50" fill="#dc767c"/>
<rect x="1291.63" y="2122.50" width="28.87" height="20.50" fill="#cccfe6"/>
<rect x="1031.80" y="2143.00" width="28.87" height="20.50" fill="#d02c2a"/>
<rect x="1060.67" y="2143.00" width="28.87" height="20.50" fill="#efd3d7"/>
<rect x="1089.54" y="2143.00" width="28.87" height="20.50" fill="#d02c2a"/>
<rect x="1118.41" y="2143.00" width="28.87" height="20.50" fill="#cccfe6"/>
<rect x="1147.28" y="2143.00" width="28.87" height="20.50" fill="#d02c2a"/>
<rect x="1176.15" y="2143.00" width="28.87" height="20.50" fill="#d02c2a"/>
<rect x="1205.02" y="2143.00" width="28.87" height="20.50" fill="#cccfe6"/>
<rect x="1233.89" y="2143.00" width="28.87" height="20.50" fill="#d02c2a"/>
<rect x="1262.76" y="2143.00" width="28.87" height="20.50" fill="#d02c2a"/>
<rect x="1291.63" y="2143.00" width="28.87" height="20.50" fill="#d02c2a"/>
<rect x="1031.80" y="2163.50" width="28.87" height="20.50" fill="#d02c2a"/>
<rect x="1060.67" y="2163.50" width="28.87" height="20.50" fill="#3a2389"/>
<rect x="1089.54" y="2163.50" width="28.87" height="20.50" fill="#d02c2a"/>
<rect x="1118.41" y="2163.50" width="28.87" height="20.50" fill="#cccfe6"/>
<rect x="1147.28" y="2163.50" width="28.87" height="20.50" fill="#cccfe6"/>
<rect x="1176.15" y="2163.50" width="28.87" height="20.50" fill="#cccfe6"/>
<rect x="1205.02" y="2163.50" width="28.87" height="20.50" fill="#efd3d7"/>
<rect x="1233.89" y="2163.50" width="28.87" height="20.50" fill="#efd3d7"/>
<rect x="1262.76" y="2163.50" width="28.87" height="20.50" fill="#d02c2a"/>
<rect x="1291.63" y="2163.50" width="28.87" height="20.50" fill="#3a2389"/>
<rect x="1031.80" y="2184.00" width="28.87" height="20.50" fill="#3a2389"/>
<rect x="1060.67" y="2184.00" width="28.87" height="20.50" fill="#3a2389"/>
<rect x="1089.54" y="2184.00" width="28.87" height="20.50" fill="#3a2389"/>
<rect x="1118.41" y="2184.00" width="28.87" height="20.50" fill="#d02c2a"/>
<rect x="1147.28" y="2184.00" width="28.87" height="20.50" fill="#6b69b5"/>
<rect x="1176.15" y="2184.00" width="28.87" height="20.50" fill="#d02c2a"/>
<rect x="1205.02" y="2184.00" width="28.87" height="20.50" fill="#6b69b5"/>
<rect x="1233.89" y="2184.00" width="28.87" height="20.50" fill="#3a2389"/>
<rect x="1262.76" y="2184.00" width="28.87" height="20.50" fill="#3a2389"/>
<rect x="1291.63" y="2184.00" width="28.87" height="20.50" fill="#cccfe6"/>
<rect x="1031.80" y="2204.50" width="28.87" height="20.50" fill="#efd3d7"/>
<rect x="1060.67" y="2204.50" width="28.87" height="20.50" fill="#6b69b5"/>
<rect x="1089.54" y="2204.50" width="28.87" height="20.50" fill="#efd3d7"/>
<rect x="1118.41" y="2204.50" width="28.87" height="20.50" fill="#cccfe6"/>
<rect x="1147.28" y="2204.50" width="28.87" height="20.50" fill="#d02c2a"/>
<rect x="1176.15" y="2204.50" width="28.87" height="20.50" fill="#d02c2a"/>
<rect x="1205.02" y="2204.50" width="28.87" height="20.50" fill="#d02c2a"/>
<rect x="1233.89" y="2204.50" width="28.87" height="20.50" fill="#cccfe6"/>
<rect x="1262.76" y="2204.50" width="28.87" height="20.50" fill="#6b69b5"/>
<rect x="1291.63" y="2204.50" width="28.87" height="20.50" fill="#dc767c"/>
<rect x="1031.80" y="2225.00" width="28.87" height="20.50" fill="#cccfe6"/>
<rect x="1060.67" y="2225.00" width="28.87" height="20.50" fill="#6b69b5"/>
<rect x="1089.54" y="2225.00" width="28.87" height="20.50" fill="#d02c2a"/>
<rect x="1118.41" y="2225.00" width="28.87" height="20.50" fill="#cccfe6"/>
<rect x="1147.28" y="2225.00" width="28.87" height="20.50" fill="#6b69b5"/>
<rect x="1176.15" y="2225.00" width="28.87" height="20.50" fill="#dc767c"/>
<rect x="1205.02" y="2225.00" width="28.87" height="20.50" fill="#efd3d7"/>
<rect x="1233.89" y="2225.00" width="28.87" height="20.50" fill="#d02c2a"/>
<rect x="1262.76" y="2225.00" width="28.87" height="20.50" fill="#6b69b5"/>
<rect x="1291.63" y="2225.00" width="28.87" height="20.50" fill="#d02c2a"/>
<rect x="1031.80" y="2245.50" width="28.87" height="20.50" fill="#cccfe6"/>
<rect x="1060.67" y="2245.50" width="28.87" height="20.50" fill="#3a2389"/>
<rect x="1089.54" y="2245.50" width="28.87" height="20.50" fill="#6b69b5"/>
<rect x="1118.41" y="2245.50" width="28.87" height="20.50" fill="#cccfe6"/>
<rect x="1147.28" y="2245.50" width="28.87" height="20.50" fill="#6b69b5"/>
<rect x="1176.15" y="2245.50" width="28.87" height="20.50" fill="#6b69b5"/>
<rect x="1205.02" y="2245.50" width="28.87" height="20.50" fill="#d02c2a"/>
<rect x="1233.89" y="2245.50" width="28.87" height="20.50" fill="#6b69b5"/>
<rect x="1262.76" y="2245.50" width="28.87" height="20.50" fill="#3a2389"/>
<rect x="1291.63" y="2245.50" width="28.87" height="20.50" fill="#3a2389"/>
<rect x="1031.80" y="2266.00" width="28.87" height="20.50" fill="#3a2389"/>
<rect x="1060.67" y="2266.00" width="28.87" height="20.50" fill="#6b69b5"/>
<rect x="1089.54" y="2266.00" width="28.87" height="20.50" fill="#3a2389"/>
<rect x="1118.41" y="2266.00" width="28.87" height="20.50" fill="#3a2389"/>
<rect x="1147.28" y="2266.00" width="28.87" height="20.50" fill="#3a2389"/>
<rect x="1176.15" y="2266.00" width="28.87" height="20.50" fill="#3a2389"/>
<rect x="1205.02" y="2266.00" width="28.87" height="20.50" fill="#3a2389"/>
<rect x="1233.89" y="2266.00" width="28.87" height="20.50" fill="#3a2389"/>
<rect x="1262.76" y="2266.00" width="28.87" height="20.50" fill="#3a2389"/>
<rect x="1291.63" y="2266.00" width="28.87" height="20.50" fill="#3a2389"/>
<rect x="1031.80" y="2286.50" width="28.87" height="20.50" fill="#3a2389"/>
<rect x="1060.67" y="2286.50" width="28.87" height="20.50" fill="#3a2389"/>
<rect x="1089.54" y="2286.50" width="28.87" height="20.50" fill="#3a2389"/>
<rect x="1118.41" y="2286.50" width="28.87" height="20.50" fill="#3a2389"/>
<rect x="1147.28" y="2286.50" width="28.87" height="20.50" fill="#3a2389"/>
<rect x="1176.15" y="2286.50" width="28.87" height="20.50" fill="#3a2389"/>
<rect x="1205.02" y="2286.50" width="28.87" height="20.50" fill="#3a2389"/>
<rect x="1233.89" y="2286.50" width="28.87" height="20.50" fill="#3a2389"/>
<rect x="1262.76" y="2286.50" width="28.87" height="20.50" fill="#3a2389"/>
<rect x="1291.63" y="2286.50" width="28.87" height="20.50" fill="#3a2389"/>
<rect x="1031.80" y="2307.00" width="28.87" height="20.50" fill="#3a2389"/>
<rect x="1060.67" y="2307.00" width="28.87" height="20.50" fill="#3a2389"/>
<rect x="1089.54" y="2307.00" width="28.87" height="20.50" fill="#3a2389"/>
<rect x="1118.41" y="2307.00" width="28.87" height="20.50" fill="#3a2389"/>
<rect x="1147.28" y="2307.00" width="28.87" height="20.50" fill="#3a2389"/>
<rect x="1176.15" y="2307.00" width="28.87" height="20.50" fill="#3a2389"/>
<rect x="1205.02" y="2307.00" width="28.87" height="20.50" fill="#6b69b5"/>
<rect x="1233.89" y="2307.00" width="28.87" height="20.50" fill="#3a2389"/>
<rect x="1262.76" y="2307.00" width="28.87" height="20.50" fill="#3a2389"/>
<rect x="1291.63" y="2307.00" width="28.87" height="20.50" fill="#3a2389"/>
<rect x="1031.80" y="2327.50" width="28.87" height="20.50" fill="#3a2389"/>
<rect x="1060.67" y="2327.50" width="28.87" height="20.50" fill="#3a2389"/>
<rect x="1089.54" y="2327.50" width="28.87" height="20.50" fill="#d02c2a"/>
<rect x="1118.41" y="2327.50" width="28.87" height="20.50" fill="#3a2389"/>
<rect x="1147.28" y="2327.50" width="28.87" height="20.50" fill="#3a2389"/>
<rect x="1176.15" y="2327.50" width="28.87" height="20.50" fill="#3a2389"/>
<rect x="1205.02" y="2327.50" width="28.87" height="20.50" fill="#3a2389"/>
<rect x="1233.89" y="2327.50" width="28.87" height="20.50" fill="#cccfe6"/>
<rect x="1262.76" y="2327.50" width="28.87" height="20.50" fill="#3a2389"/>
<rect x="1291.63" y="2327.50" width="28.87" height="20.50" fill="#6b69b5"/>
<rect x="1031.80" y="2348.00" width="28.87" height="20.50" fill="#efd3d7"/>
<rect x="1060.67" y="2348.00" width="28.87" height="20.50" fill="#3a2389"/>
<rect x="1089.54" y="2348.00" width="28.87" height="20.50" fill="#d02c2a"/>
<rect x="1118.41" y="2348.00" width="28.87" height="20.50" fill="#6b69b5"/>
<rect x="1147.28" y="2348.00" width="28.87" height="20.50" fill="#6b69b5"/>
<rect x="1176.15" y="2348.00" width="28.87" height="20.50" fill="#6b69b5"/>
<rect x="1205.02" y="2348.00" width="28.87" height="20.50" fill="#cccfe6"/>
<rect x="1233.89" y="2348.00" width="28.87" height="20.50" fill="#3a2389"/>
<rect x="1262.76" y="2348.00" width="28.87" height="20.50" fill="#3a2389"/>
<rect x="1291.63" y="2348.00" width="28.87" height="20.50" fill="#3a2389"/>
<rect x="1031.80" y="2368.50" width="28.87" height="20.50" fill="#d02c2a"/>
<rect x="1060.67" y="2368.50" width="28.87" height="20.50" fill="#3a2389"/>
<rect x="1089.54" y="2368.50" width="28.87" height="20.50" fill="#d02c2a"/>
<rect x="1118.41" y="2368.50" width="28.87" height="20.50" fill="#d02c2a"/>
<rect x="1147.28" y="2368.50" width="28.87" height="20.50" fill="#cccfe6"/>
<rect x="1176.15" y="2368.50" width="28.87" height="20.50" fill="#d02c2a"/>
<rect x="1205.02" y="2368.50" width="28.87" height="20.50" fill="#d02c2a"/>
<rect x="1233.89" y="2368.50" width="28.87" height="20.50" fill="#d02c2a"/>
<rect x="1262.76" y="2368.50" width="28.87" height="20.50" fill="#dc767c"/>
<rect x="1291.63" y="2368.50" width="28.87" height="20.50" fill="#dc767c"/>
<rect x="1031.80" y="2389.00" width="28.87" height="20.50" fill="#cccfe6"/>
<rect x="1060.67" y="2389.00" width="28.87" height="20.50" fill="#3a2389"/>
<rect x="1089.54" y="2389.00" width="28.87" height="20.50" fill="#d02c2a"/>
<rect x="1118.41" y="2389.00" width="28.87" height="20.50" fill="#dc767c"/>
<rect x="1147.28" y="2389.00" width="28.87" height="20.50" fill="#3a2389"/>
<rect x="1176.15" y="2389.00" width="28.87" height="20.50" fill="#d02c2a"/>
<rect x="1205.02" y="2389.00" width="28.87" height="20.50" fill="#d02c2a"/>
<rect x="1233.89" y="2389.00" width="28.87" height="20.50" fill="#d02c2a"/>
<rect x="1262.76" y="2389.00" width="28.87" height="20.50" fill="#d02c2a"/>
<rect x="1291.63" y="2389.00" width="28.87" height="20.50" fill="#6b69b5"/>
</g>
<g font-size="19.4">
<text x="1325" y="2015.7">RNP</text>
<text x="1325" y="2036.2">Jo-1</text>
<text x="1325" y="2056.7">Ku</text>
<text x="1325" y="2077.2">Scl-70</text>
<text x="1325" y="2097.7">Mi-2</text>
<text x="1325" y="2118.2">PL-12</text>
<text x="1325" y="2138.7">C1q</text>
<text x="1325" y="2159.2">PCNA</text>
<text x="1325" y="2179.7">CENP-A</text>
<text x="1325" y="2200.2">SSA/Ro60</text>
<text x="1325" y="2220.7">SSB/La</text>
<text x="1325" y="2241.2">Sm</text>
<text x="1325" y="2261.7">Proteinase 3</text>
<text x="1325" y="2282.2">Myeloperoxidase</text>
<text x="1325" y="2302.7">Ribosomal P</text>
<text x="1325" y="2323.2">PM/Scl-100</text>
<text x="1325" y="2343.7">RNP/Sm</text>
<text x="1325" y="2364.2">β2-Glycoprotein</text>
<text x="1325" y="2384.7">SSA/Ro52</text>
<text x="1325" y="2405.2">CENP-B</text>
</g>
<g stroke="#9a9a9a" stroke-width="0.9">
<rect x="1522.00" y="2000.40" width="72.35" height="20.50" fill="#dc767c"/>
<rect x="1594.35" y="2000.40" width="72.35" height="20.50" fill="#3a2389"/>
<rect x="1666.70" y="2000.40" width="72.35" height="20.50" fill="#d02c2a"/>
<rect x="1739.05" y="2000.40" width="72.35" height="20.50" fill="#d02c2a"/>
<rect x="1522.00" y="2020.90" width="72.35" height="20.50" fill="#3a2389"/>
<rect x="1594.35" y="2020.90" width="72.35" height="20.50" fill="#6b69b5"/>
<rect x="1666.70" y="2020.90" width="72.35" height="20.50" fill="#d02c2a"/>
<rect x="1739.05" y="2020.90" width="72.35" height="20.50" fill="#d02c2a"/>
<rect x="1522.00" y="2041.40" width="72.35" height="20.50" fill="#d02c2a"/>
<rect x="1594.35" y="2041.40" width="72.35" height="20.50" fill="#d02c2a"/>
<rect x="1666.70" y="2041.40" width="72.35" height="20.50" fill="#d02c2a"/>
<rect x="1739.05" y="2041.40" width="72.35" height="20.50" fill="#d02c2a"/>
<rect x="1522.00" y="2061.90" width="72.35" height="20.50" fill="#cccfe6"/>
<rect x="1594.35" y="2061.90" width="72.35" height="20.50" fill="#6b69b5"/>
<rect x="1666.70" y="2061.90" width="72.35" height="20.50" fill="#d02c2a"/>
<rect x="1739.05" y="2061.90" width="72.35" height="20.50" fill="#d02c2a"/>
<rect x="1522.00" y="2082.40" width="72.35" height="20.50" fill="#cccfe6"/>
<rect x="1594.35" y="2082.40" width="72.35" height="20.50" fill="#3a2389"/>
<rect x="1666.70" y="2082.40" width="72.35" height="20.50" fill="#d02c2a"/>
<rect x="1739.05" y="2082.40" width="72.35" height="20.50" fill="#d02c2a"/>
<rect x="1522.00" y="2102.90" width="72.35" height="20.50" fill="#dc767c"/>
<rect x="1594.35" y="2102.90" width="72.35" height="20.50" fill="#3a2389"/>
<rect x="1666.70" y="2102.90" width="72.35" height="20.50" fill="#d02c2a"/>
<rect x="1739.05" y="2102.90" width="72.35" height="20.50" fill="#d02c2a"/>
<rect x="1522.00" y="2123.40" width="72.35" height="20.50" fill="#d02c2a"/>
<rect x="1594.35" y="2123.40" width="72.35" height="20.50" fill="#3a2389"/>
<rect x="1666.70" y="2123.40" width="72.35" height="20.50" fill="#d02c2a"/>
<rect x="1739.05" y="2123.40" width="72.35" height="20.50" fill="#cccfe6"/>
<rect x="1522.00" y="2143.90" width="72.35" height="20.50" fill="#6b69b5"/>
<rect x="1594.35" y="2143.90" width="72.35" height="20.50" fill="#cccfe6"/>
<rect x="1666.70" y="2143.90" width="72.35" height="20.50" fill="#d02c2a"/>
<rect x="1739.05" y="2143.90" width="72.35" height="20.50" fill="#cccfe6"/>
<rect x="1522.00" y="2164.40" width="72.35" height="20.50" fill="#3a2389"/>
<rect x="1594.35" y="2164.40" width="72.35" height="20.50" fill="#3a2389"/>
<rect x="1666.70" y="2164.40" width="72.35" height="20.50" fill="#d02c2a"/>
<rect x="1739.05" y="2164.40" width="72.35" height="20.50" fill="#3a2389"/>
<rect x="1522.00" y="2184.90" width="72.35" height="20.50" fill="#6b69b5"/>
<rect x="1594.35" y="2184.90" width="72.35" height="20.50" fill="#6b69b5"/>
<rect x="1666.70" y="2184.90" width="72.35" height="20.50" fill="#d02c2a"/>
<rect x="1739.05" y="2184.90" width="72.35" height="20.50" fill="#d02c2a"/>
<rect x="1522.00" y="2205.40" width="72.35" height="20.50" fill="#dc767c"/>
<rect x="1594.35" y="2205.40" width="72.35" height="20.50" fill="#3a2389"/>
<rect x="1666.70" y="2205.40" width="72.35" height="20.50" fill="#d02c2a"/>
<rect x="1739.05" y="2205.40" width="72.35" height="20.50" fill="#d02c2a"/>
<rect x="1522.00" y="2225.90" width="72.35" height="20.50" fill="#3a2389"/>
<rect x="1594.35" y="2225.90" width="72.35" height="20.50" fill="#3a2389"/>
<rect x="1666.70" y="2225.90" width="72.35" height="20.50" fill="#d02c2a"/>
<rect x="1739.05" y="2225.90" width="72.35" height="20.50" fill="#d02c2a"/>
<rect x="1522.00" y="2246.40" width="72.35" height="20.50" fill="#6b69b5"/>
<rect x="1594.35" y="2246.40" width="72.35" height="20.50" fill="#efd3d7"/>
<rect x="1666.70" y="2246.40" width="72.35" height="20.50" fill="#d02c2a"/>
<rect x="1739.05" y="2246.40" width="72.35" height="20.50" fill="#6b69b5"/>
<rect x="1522.00" y="2266.90" width="72.35" height="20.50" fill="#3a2389"/>
<rect x="1594.35" y="2266.90" width="72.35" height="20.50" fill="#3a2389"/>
<rect x="1666.70" y="2266.90" width="72.35" height="20.50" fill="#3a2389"/>
<rect x="1739.05" y="2266.90" width="72.35" height="20.50" fill="#3a2389"/>
<rect x="1522.00" y="2287.40" width="72.35" height="20.50" fill="#3a2389"/>
<rect x="1594.35" y="2287.40" width="72.35" height="20.50" fill="#3a2389"/>
<rect x="1666.70" y="2287.40" width="72.35" height="20.50" fill="#efd3d7"/>
<rect x="1739.05" y="2287.40" width="72.35" height="20.50" fill="#3a2389"/>
<rect x="1522.00" y="2307.90" width="72.35" height="20.50" fill="#3a2389"/>
<rect x="1594.35" y="2307.90" width="72.35" height="20.50" fill="#3a2389"/>
<rect x="1666.70" y="2307.90" width="72.35" height="20.50" fill="#cccfe6"/>
<rect x="1739.05" y="2307.90" width="72.35" height="20.50" fill="#3a2389"/>
<rect x="1522.00" y="2328.40" width="72.35" height="20.50" fill="#3a2389"/>
<rect x="1594.35" y="2328.40" width="72.35" height="20.50" fill="#3a2389"/>
<rect x="1666.70" y="2328.40" width="72.35" height="20.50" fill="#cccfe6"/>
<rect x="1739.05" y="2328.40" width="72.35" height="20.50" fill="#3a2389"/>
<rect x="1522.00" y="2348.90" width="72.35" height="20.50" fill="#d02c2a"/>
<rect x="1594.35" y="2348.90" width="72.35" height="20.50" fill="#6b69b5"/>
<rect x="1666.70" y="2348.90" width="72.35" height="20.50" fill="#d02c2a"/>
<rect x="1739.05" y="2348.90" width="72.35" height="20.50" fill="#d02c2a"/>
<rect x="1522.00" y="2369.40" width="72.35" height="20.50" fill="#cccfe6"/>
<rect x="1594.35" y="2369.40" width="72.35" height="20.50" fill="#6b69b5"/>
<rect x="1666.70" y="2369.40" width="72.35" height="20.50" fill="#d02c2a"/>
<rect x="1739.05" y="2369.40" width="72.35" height="20.50" fill="#d02c2a"/>
<rect x="1522.00" y="2389.90" width="72.35" height="20.50" fill="#d02c2a"/>
<rect x="1594.35" y="2389.90" width="72.35" height="20.50" fill="#d02c2a"/>
<rect x="1666.70" y="2389.90" width="72.35" height="20.50" fill="#d02c2a"/>
<rect x="1739.05" y="2389.90" width="72.35" height="20.50" fill="#d02c2a"/>
</g>
<g font-size="19.4">
<text x="1815.6" y="2016.6">Mi-2</text>
<text x="1815.6" y="2037.1">CENP-A</text>
<text x="1815.6" y="2057.6">Scl-70</text>
<text x="1815.6" y="2078.1">SSB/La</text>
<text x="1815.6" y="2098.6">PL-12</text>
<text x="1815.6" y="2119.1">PCNA</text>
<text x="1815.6" y="2139.6">Sm</text>
<text x="1815.6" y="2160.1">C1q</text>
<text x="1815.6" y="2180.6">β2-Glycoprotein</text>
<text x="1815.6" y="2201.1">Ku</text>
<text x="1815.6" y="2221.6">CENP-B</text>
<text x="1815.6" y="2242.1">Proteinase 3</text>
<text x="1815.6" y="2262.6">SSA/Ro60</text>
<text x="1815.6" y="2283.1">Myeloperoxidase</text>
<text x="1815.6" y="2303.6">PM/Scl-100</text>
<text x="1815.6" y="2324.1">RNP/Sm</text>
<text x="1815.6" y="2344.6">Ribosomal P</text>
<text x="1815.6" y="2365.1">Jo-1</text>
<text x="1815.6" y="2385.6">SSA/Ro52</text>
<text x="1815.6" y="2406.1">RNP</text>
</g>
<rect x="1934.3" y="1787.6" width="23.4" height="71.7" fill="#d02c2a"/>
<rect x="1934.3" y="1859" width="23.4" height="72.2" fill="#dc767c"/>
<rect x="1934.3" y="1930.9" width="23.4" height="72.6" fill="#efd3d7"/>
<rect x="1934.3" y="2003.2" width="23.4" height="71.8" fill="#cccfe6"/>
<rect x="1934.3" y="2074.7" width="23.4" height="36.5" fill="#6b69b5"/>
<rect x="1934.3" y="2110.9" width="23.4" height="28.1" fill="#3a2389"/>
<text x="1966.5" y="1793.9" font-size="16.7">50+</text>
<text x="1966.5" y="1865.3" font-size="16.7">40</text>
<text x="1966.5" y="1937.2" font-size="16.7">30</text>
<text x="1966.5" y="2009.5" font-size="16.7">20</text>
<text x="1966.5" y="2081.0" font-size="16.7">10</text>
<text x="1966.5" y="2117.2" font-size="16.7">5</text>
<text x="1966.5" y="2145.0" font-size="16.7">1</text>
<path d="M45.5 2009.5 L36.2 2009.5 L36.2 2030.0 L45.5 2030.0 M36.2 2019.5 L1.8 2019.5 L1.8 2106.5 L20.0 2106.5 M45.5 2050.3 L23.2 2050.3 L23.2 2070.5 L45.5 2070.5 M23.2 2060.3 L20.0 2060.3 L20.0 2153.5 L22.5 2153.5 M45.5 2091.3 L22.5 2091.3 L22.5 2215.5 M22.5 2215.5 L26.8 2215.5 M45.5 2111.5 L37.5 2111.5 L37.5 2131.5 L45.5 2131.5 M37.5 2121.5 L26.8 2121.5 L26.8 2309.8 M26.8 2309.8 L30.5 2309.8 M45.5 2152.2 L39.3 2152.2 L39.3 2192.5 L41.5 2192.5 M45.5 2172.5 L41.5 2172.5 L41.5 2255.0 M39.3 2172.5 L34.5 2172.5 L34.5 2325.0 M34.5 2325.0 L38.5 2325.0 M45.5 2192.5 L41.5 2192.5 M40.0 2175.0 L40.0 2191.0 M40.7 2174.0 L40.7 2192.0 M45.5 2213.0 L42.5 2213.0 L42.5 2233.0 L45.5 2233.0 M43.5 2233.0 L43.5 2269.0 L45.5 2269.0 M44.5 2254.0 L44.5 2294.0 L45.5 2294.0 M45.5 2254.0 L44.5 2254.0 M34.5 2248.8 L30.5 2248.8 L30.5 2370.0 L32.5 2370.0 M45.5 2314.5 L38.5 2314.5 L38.5 2335.5 L45.5 2335.5 M45.5 2355.3 L32.5 2355.3 L32.5 2386.0 L36.5 2386.0 M45.5 2375.8 L36.5 2375.8 L36.5 2396.3 L45.5 2396.3 M526.2 2061.5 L489.5 2061.5 L489.5 2370.5 L509.5 2370.5 M532.7 2355.3 L509.5 2355.3 L509.5 2386.0 L523.5 2386.0 M532.7 2375.7 L523.5 2375.7 L523.5 2396.5 L532.7 2396.5 M532.7 2009.5 L526.2 2009.5 L526.2 2114.5 M532.7 2030.5 L527.5 2030.5 L527.5 2309.0 M532.7 2050.3 L529.0 2050.3 L529.0 2123.0 M532.7 2071.0 L530.3 2071.0 L530.3 2111.0 M532.7 2091.5 L531.2 2091.5 L531.2 2100.0 M532.7 2131.5 L530.0 2131.5 L530.0 2161.0 M532.7 2152.0 L530.8 2152.0 L530.8 2190.0 M528.0 2087.0 L528.0 2119.0 M529.6 2085.0 L529.6 2123.0 M531.5 2165.0 L531.5 2273.0 M532.7 2294.5 L529.0 2294.5 L529.0 2324.5 L532.7 2324.5 M527.5 2309.0 L529.0 2309.0 M532.7 2314.5 L530.0 2314.5 L530.0 2335.0 L532.7 2335.0 M1031.8 2030.5 L1013.0 2030.5 L1013.0 2050.5 L1031.8 2050.5 M1031.8 2009.8 L1005.5 2009.8 L1005.5 2040.5 L1013.0 2040.5 M1005.5 2025.0 L988.2 2025.0 L988.2 2136.0 L998.0 2136.0 M1031.8 2091.8 L1018.5 2091.8 L1018.5 2112.2 L1031.8 2112.2 M1031.8 2071.5 L1011.2 2071.5 L1011.2 2102.2 L1018.5 2102.2 M1011.2 2086.5 L998.0 2086.5 L998.0 2185.0 L1001.5 2185.0 M1031.8 2132.8 L1001.5 2132.8 L1001.5 2237.0 M1001.5 2237.0 L1010.5 2237.0 M1031.8 2153.3 L1019.0 2153.3 L1019.0 2173.8 L1031.8 2173.8 M1019.0 2163.5 L1010.5 2163.5 L1010.5 2310.5 M1010.5 2310.5 L1016.5 2310.5 M1023.5 2232.5 L1016.5 2232.5 L1016.5 2389.0 L1021.5 2389.0 M1031.8 2378.5 L1021.5 2378.5 L1021.5 2399.0 L1031.8 2399.0 M1026.5 2204.5 L1023.5 2204.5 L1023.5 2261.0 L1025.8 2261.0 M1031.8 2194.5 L1026.5 2194.5 L1026.5 2214.5 M1026.5 2214.5 L1031.8 2214.5 M1031.8 2235.0 L1025.8 2235.0 L1025.8 2287.0 L1027.5 2287.0 M1031.8 2256.0 L1027.5 2256.0 L1027.5 2319.5 L1030.0 2319.5 M1031.8 2276.0 L1031.0 2276.0 L1031.0 2306.0 M1030.0 2292.0 L1030.0 2347.0 L1031.0 2347.0 M1031.0 2337.0 L1031.0 2358.0 L1031.8 2358.0 M1520.0 2092.0 L1478.6 2092.0 L1478.6 2374.4 L1499.0 2374.4 M1522.0 2358.4 L1499.0 2358.4 L1499.0 2390.0 L1514.4 2390.0 M1522.0 2380.0 L1514.4 2380.0 L1514.4 2400.0 L1522.0 2400.0 M1522.0 2010.0 L1520.6 2010.0 L1520.6 2256.0 L1522.0 2256.0 M1522.0 2031.0 L1521.2 2031.0 L1521.2 2210.0 M1522.0 2114.0 L1520.0 2114.0 L1520.0 2210.0 L1522.0 2210.0" fill="none" stroke="#383838" stroke-width="1"/>
</g>
</svg>
</body></html>
